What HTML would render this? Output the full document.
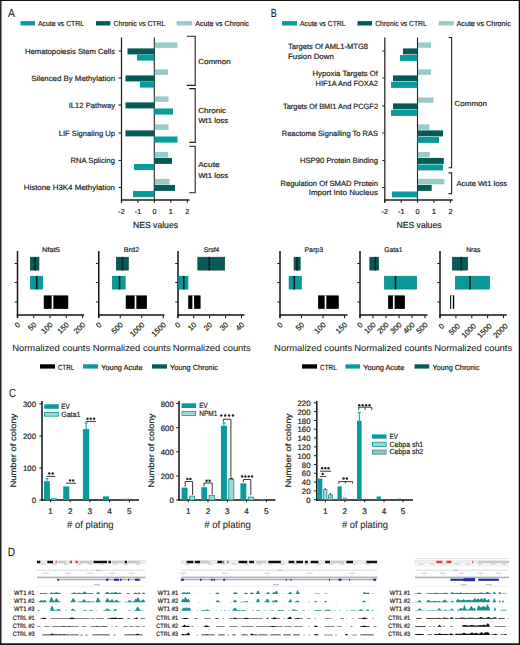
<!DOCTYPE html>
<html><head><meta charset="utf-8"><style>
html,body{margin:0;padding:0;background:#fff;}
body{width:520px;height:645px;overflow:hidden;position:relative;}
svg{position:absolute;left:0;top:0;display:block;}
text{font-family:"Liberation Sans",sans-serif;stroke:#231f20;stroke-width:0.2px;text-rendering:geometricPrecision;}
</style></head><body>
<svg width="520" height="645" viewBox="0 0 520 645">
<defs>
<pattern id="hatch" patternUnits="userSpaceOnUse" width="3" height="3" patternTransform="rotate(45)">
<rect width="3" height="3" fill="#9fd2ce"/><rect width="1.2" height="3" fill="#84c4bf"/>
</pattern>
<pattern id="hatch2" patternUnits="userSpaceOnUse" width="2" height="2">
<rect width="2" height="2" fill="#9cd1cd"/><rect width="2" height="0.7" fill="#b0dbd7"/>
</pattern>
<pattern id="hatch3" patternUnits="userSpaceOnUse" width="2" height="2">
<rect width="2" height="2" fill="#8bbfba"/><rect width="2" height="0.7" fill="#a4cdc9"/>
</pattern>
</defs>
<rect x="0" y="0" width="520" height="645" fill="#fff"/>
<text x="8.00" y="17.10" font-size="11.8" text-anchor="start" fill="#231f20" style="stroke-width:0.08px" textLength="6.90" lengthAdjust="spacingAndGlyphs" >A</text>
<rect x="20.50" y="21.10" width="14.50" height="4.40" fill="#099a9b" />
<text x="38.00" y="25.50" font-size="7.3" text-anchor="start" fill="#231f20" style="stroke-width:0.2px" textLength="46.00" lengthAdjust="spacingAndGlyphs" >Acute vs CTRL</text>
<rect x="96.00" y="21.10" width="14.30" height="4.40" fill="#055b57" />
<text x="113.50" y="25.50" font-size="7.3" text-anchor="start" fill="#231f20" style="stroke-width:0.2px" textLength="51.70" lengthAdjust="spacingAndGlyphs" >Chronic vs CTRL</text>
<rect x="176.60" y="21.10" width="15.40" height="4.40" fill="url(#hatch)" />
<text x="195.20" y="25.50" font-size="7.3" text-anchor="start" fill="#231f20" style="stroke-width:0.2px" textLength="54.00" lengthAdjust="spacingAndGlyphs" >Acute vs Chronic</text>
<line x1="121.50" y1="37.50" x2="121.50" y2="202.80" stroke="#231f20" stroke-width="1.25" />
<line x1="154.30" y1="37.50" x2="154.30" y2="200.00" stroke="#231f20" stroke-width="1.1" />
<line x1="120.90" y1="199.90" x2="189.50" y2="199.90" stroke="#231f20" stroke-width="1.5" />
<line x1="121.50" y1="200.00" x2="121.50" y2="202.80" stroke="#231f20" stroke-width="1.1" />
<text x="121.50" y="213.70" font-size="7.2" text-anchor="middle" fill="#231f20" style="stroke-width:0.2px" >-2</text>
<line x1="137.95" y1="200.00" x2="137.95" y2="202.80" stroke="#231f20" stroke-width="1.1" />
<text x="137.95" y="213.70" font-size="7.2" text-anchor="middle" fill="#231f20" style="stroke-width:0.2px" >-1</text>
<line x1="154.40" y1="200.00" x2="154.40" y2="202.80" stroke="#231f20" stroke-width="1.1" />
<text x="154.40" y="213.70" font-size="7.2" text-anchor="middle" fill="#231f20" style="stroke-width:0.2px" >0</text>
<line x1="170.85" y1="200.00" x2="170.85" y2="202.80" stroke="#231f20" stroke-width="1.1" />
<text x="170.85" y="213.70" font-size="7.2" text-anchor="middle" fill="#231f20" style="stroke-width:0.2px" >1</text>
<line x1="187.30" y1="200.00" x2="187.30" y2="202.80" stroke="#231f20" stroke-width="1.1" />
<text x="187.30" y="213.70" font-size="7.2" text-anchor="middle" fill="#231f20" style="stroke-width:0.2px" >2</text>
<text x="133.00" y="227.60" font-size="8.8" text-anchor="start" fill="#231f20" style="stroke-width:0.2px" textLength="45.00" lengthAdjust="spacingAndGlyphs" >NES values</text>
<line x1="118.60" y1="51.00" x2="121.50" y2="51.00" stroke="#231f20" stroke-width="1.1" />
<text x="115.00" y="53.90" font-size="7.6" text-anchor="end" fill="#231f20" style="stroke-width:0.2px" textLength="90.00" lengthAdjust="spacingAndGlyphs" >Hematopoiesis Stem Cells</text>
<line x1="118.60" y1="78.00" x2="121.50" y2="78.00" stroke="#231f20" stroke-width="1.1" />
<text x="115.00" y="80.90" font-size="7.6" text-anchor="end" fill="#231f20" style="stroke-width:0.2px" textLength="83.75" lengthAdjust="spacingAndGlyphs" >Silenced By Methylation</text>
<line x1="118.60" y1="105.00" x2="121.50" y2="105.00" stroke="#231f20" stroke-width="1.1" />
<text x="115.00" y="107.90" font-size="7.6" text-anchor="end" fill="#231f20" style="stroke-width:0.2px" textLength="46.25" lengthAdjust="spacingAndGlyphs" >IL12 Pathway</text>
<line x1="118.60" y1="133.00" x2="121.50" y2="133.00" stroke="#231f20" stroke-width="1.1" />
<text x="115.00" y="135.90" font-size="7.6" text-anchor="end" fill="#231f20" style="stroke-width:0.2px" textLength="56.25" lengthAdjust="spacingAndGlyphs" >LIF Signaling Up</text>
<line x1="118.60" y1="160.50" x2="121.50" y2="160.50" stroke="#231f20" stroke-width="1.1" />
<text x="115.00" y="163.40" font-size="7.6" text-anchor="end" fill="#231f20" style="stroke-width:0.2px" textLength="44.50" lengthAdjust="spacingAndGlyphs" >RNA Splicing</text>
<line x1="118.60" y1="187.50" x2="121.50" y2="187.50" stroke="#231f20" stroke-width="1.1" />
<text x="115.00" y="190.40" font-size="7.6" text-anchor="end" fill="#231f20" style="stroke-width:0.2px" textLength="91.25" lengthAdjust="spacingAndGlyphs" >Histone H3K4 Methylation</text>
<rect x="154.80" y="42.40" width="22.70" height="5.50" fill="url(#hatch)" />
<rect x="127.50" y="48.40" width="26.80" height="6.00" fill="#055b57" />
<rect x="137.00" y="54.50" width="17.30" height="6.10" fill="#099a9b" />
<rect x="154.80" y="69.40" width="13.20" height="5.50" fill="url(#hatch)" />
<rect x="125.50" y="75.40" width="28.80" height="6.00" fill="#055b57" />
<rect x="140.00" y="81.50" width="14.30" height="6.10" fill="#099a9b" />
<rect x="154.80" y="96.40" width="13.70" height="5.50" fill="url(#hatch)" />
<rect x="125.50" y="102.40" width="28.80" height="6.00" fill="#055b57" />
<rect x="154.30" y="108.50" width="18.70" height="6.10" fill="#099a9b" />
<rect x="154.80" y="124.40" width="13.70" height="5.50" fill="url(#hatch)" />
<rect x="125.50" y="130.40" width="28.80" height="6.00" fill="#055b57" />
<rect x="154.30" y="136.50" width="23.20" height="6.10" fill="#099a9b" />
<rect x="154.80" y="151.90" width="13.20" height="5.50" fill="url(#hatch)" />
<rect x="154.30" y="157.90" width="17.70" height="6.00" fill="#055b57" />
<rect x="134.00" y="164.00" width="20.30" height="6.10" fill="#099a9b" />
<rect x="154.80" y="178.90" width="14.70" height="5.50" fill="url(#hatch)" />
<rect x="154.30" y="184.90" width="20.70" height="6.00" fill="#055b57" />
<rect x="133.00" y="191.00" width="21.30" height="6.10" fill="#099a9b" />
<path d="M186.7,36.3 H195.2 V85.4 H186.7" stroke="#231f20" stroke-width="1.1" fill="none" />
<path d="M189.2,88.6 H195.2 V142.4 H189.2" stroke="#231f20" stroke-width="1.1" fill="none" />
<path d="M189.2,146.3 H195.2 V192.8 H189.2" stroke="#231f20" stroke-width="1.1" fill="none" />
<text x="198.20" y="63.60" font-size="7.3" text-anchor="start" fill="#231f20" style="stroke-width:0.2px" textLength="32.50" lengthAdjust="spacingAndGlyphs" >Common</text>
<text x="198.20" y="113.10" font-size="7.3" text-anchor="start" fill="#231f20" style="stroke-width:0.2px" textLength="28.00" lengthAdjust="spacingAndGlyphs" >Chronic</text>
<text x="198.20" y="123.10" font-size="7.3" text-anchor="start" fill="#231f20" style="stroke-width:0.2px" textLength="30.00" lengthAdjust="spacingAndGlyphs" >Wt1 loss</text>
<text x="198.20" y="167.20" font-size="7.3" text-anchor="start" fill="#231f20" style="stroke-width:0.2px" textLength="21.50" lengthAdjust="spacingAndGlyphs" >Acute</text>
<text x="198.20" y="177.50" font-size="7.3" text-anchor="start" fill="#231f20" style="stroke-width:0.2px" textLength="30.00" lengthAdjust="spacingAndGlyphs" >Wt1 loss</text>
<text x="270.80" y="17.20" font-size="11.9" text-anchor="start" fill="#231f20" style="stroke-width:0.08px" textLength="5.90" lengthAdjust="spacingAndGlyphs" >B</text>
<rect x="282.00" y="21.10" width="15.00" height="4.40" fill="#099a9b" />
<text x="300.00" y="25.50" font-size="7.3" text-anchor="start" fill="#231f20" style="stroke-width:0.2px" textLength="45.50" lengthAdjust="spacingAndGlyphs" >Acute vs CTRL</text>
<rect x="357.50" y="21.10" width="14.50" height="4.40" fill="#055b57" />
<text x="375.20" y="25.50" font-size="7.3" text-anchor="start" fill="#231f20" style="stroke-width:0.2px" textLength="51.60" lengthAdjust="spacingAndGlyphs" >Chronic vs CTRL</text>
<rect x="438.60" y="21.10" width="15.00" height="4.40" fill="url(#hatch)" />
<text x="456.50" y="25.50" font-size="7.3" text-anchor="start" fill="#231f20" style="stroke-width:0.2px" textLength="54.30" lengthAdjust="spacingAndGlyphs" >Acute vs Chronic</text>
<line x1="384.80" y1="37.50" x2="384.80" y2="202.80" stroke="#231f20" stroke-width="1.25" />
<line x1="417.50" y1="37.50" x2="417.50" y2="200.00" stroke="#231f20" stroke-width="1.1" />
<line x1="384.20" y1="199.90" x2="452.80" y2="199.90" stroke="#231f20" stroke-width="1.5" />
<line x1="384.80" y1="200.00" x2="384.80" y2="202.80" stroke="#231f20" stroke-width="1.1" />
<text x="384.80" y="213.70" font-size="7.2" text-anchor="middle" fill="#231f20" style="stroke-width:0.2px" >-2</text>
<line x1="401.20" y1="200.00" x2="401.20" y2="202.80" stroke="#231f20" stroke-width="1.1" />
<text x="401.20" y="213.70" font-size="7.2" text-anchor="middle" fill="#231f20" style="stroke-width:0.2px" >-1</text>
<line x1="417.60" y1="200.00" x2="417.60" y2="202.80" stroke="#231f20" stroke-width="1.1" />
<text x="417.60" y="213.70" font-size="7.2" text-anchor="middle" fill="#231f20" style="stroke-width:0.2px" >0</text>
<line x1="434.00" y1="200.00" x2="434.00" y2="202.80" stroke="#231f20" stroke-width="1.1" />
<text x="434.00" y="213.70" font-size="7.2" text-anchor="middle" fill="#231f20" style="stroke-width:0.2px" >1</text>
<line x1="450.40" y1="200.00" x2="450.40" y2="202.80" stroke="#231f20" stroke-width="1.1" />
<text x="450.40" y="213.70" font-size="7.2" text-anchor="middle" fill="#231f20" style="stroke-width:0.2px" >2</text>
<text x="396.50" y="227.60" font-size="8.8" text-anchor="start" fill="#231f20" style="stroke-width:0.2px" textLength="45.00" lengthAdjust="spacingAndGlyphs" >NES values</text>
<line x1="382.30" y1="51.00" x2="385.00" y2="51.00" stroke="#231f20" stroke-width="1" />
<line x1="382.30" y1="78.00" x2="385.00" y2="78.00" stroke="#231f20" stroke-width="1" />
<line x1="382.30" y1="106.00" x2="385.00" y2="106.00" stroke="#231f20" stroke-width="1" />
<line x1="382.30" y1="133.00" x2="385.00" y2="133.00" stroke="#231f20" stroke-width="1" />
<line x1="382.30" y1="160.50" x2="385.00" y2="160.50" stroke="#231f20" stroke-width="1" />
<line x1="382.30" y1="187.50" x2="385.00" y2="187.50" stroke="#231f20" stroke-width="1" />
<text x="288.00" y="48.80" font-size="7.6" text-anchor="start" fill="#231f20" style="stroke-width:0.2px" textLength="80.00" lengthAdjust="spacingAndGlyphs" >Targets Of AML1-MTG8</text>
<text x="288.00" y="58.80" font-size="7.6" text-anchor="start" fill="#231f20" style="stroke-width:0.2px" textLength="45.75" lengthAdjust="spacingAndGlyphs" >Fusion Down</text>
<text x="378.00" y="76.30" font-size="7.6" text-anchor="end" fill="#231f20" style="stroke-width:0.2px" textLength="65.50" lengthAdjust="spacingAndGlyphs" >Hypoxia Targets Of</text>
<text x="378.00" y="85.70" font-size="7.6" text-anchor="end" fill="#231f20" style="stroke-width:0.2px" textLength="62.50" lengthAdjust="spacingAndGlyphs" >HIF1A And FOXA2</text>
<text x="378.00" y="108.50" font-size="7.6" text-anchor="end" fill="#231f20" style="stroke-width:0.2px" textLength="95.00" lengthAdjust="spacingAndGlyphs" >Targets Of BMI1 And PCGF2</text>
<text x="378.00" y="135.70" font-size="7.6" text-anchor="end" fill="#231f20" style="stroke-width:0.2px" textLength="96.25" lengthAdjust="spacingAndGlyphs" >Reactome Signalling To RAS</text>
<text x="378.00" y="163.20" font-size="7.6" text-anchor="end" fill="#231f20" style="stroke-width:0.2px" textLength="78.00" lengthAdjust="spacingAndGlyphs" >HSP90 Protein Binding</text>
<text x="378.00" y="185.60" font-size="7.6" text-anchor="end" fill="#231f20" style="stroke-width:0.2px" textLength="97.50" lengthAdjust="spacingAndGlyphs" >Regulation Of SMAD Protein</text>
<text x="378.00" y="195.10" font-size="7.6" text-anchor="end" fill="#231f20" style="stroke-width:0.2px" textLength="69.25" lengthAdjust="spacingAndGlyphs" >Import Into Nucleus</text>
<rect x="418.00" y="42.40" width="13.00" height="5.40" fill="url(#hatch)" />
<rect x="403.00" y="48.40" width="14.50" height="6.00" fill="#055b57" />
<rect x="400.00" y="55.00" width="17.50" height="5.90" fill="#099a9b" />
<rect x="418.00" y="69.40" width="13.00" height="5.40" fill="url(#hatch)" />
<rect x="393.00" y="75.40" width="24.50" height="6.00" fill="#055b57" />
<rect x="391.00" y="82.00" width="26.50" height="5.90" fill="#099a9b" />
<rect x="418.00" y="97.40" width="15.50" height="5.40" fill="url(#hatch)" />
<rect x="393.00" y="103.40" width="24.50" height="6.00" fill="#055b57" />
<rect x="391.00" y="110.00" width="26.50" height="5.90" fill="#099a9b" />
<rect x="418.00" y="124.40" width="11.40" height="5.40" fill="url(#hatch)" />
<rect x="417.50" y="130.40" width="25.50" height="6.00" fill="#055b57" />
<rect x="417.50" y="137.00" width="21.50" height="5.90" fill="#099a9b" />
<rect x="418.00" y="151.90" width="11.70" height="5.40" fill="url(#hatch)" />
<rect x="417.50" y="157.90" width="26.30" height="6.00" fill="#055b57" />
<rect x="417.50" y="164.50" width="25.50" height="5.90" fill="#099a9b" />
<rect x="418.00" y="178.90" width="26.40" height="5.40" fill="url(#hatch)" />
<rect x="417.50" y="184.90" width="14.20" height="6.00" fill="#055b57" />
<rect x="392.00" y="191.50" width="25.50" height="5.90" fill="#099a9b" />
<path d="M448.6,37.5 H451.6 V167.7 H448.6" stroke="#231f20" stroke-width="1.1" fill="none" />
<path d="M448.6,172.9 H451.6 V193.6 H448.6" stroke="#231f20" stroke-width="1.1" fill="none" />
<text x="454.50" y="105.50" font-size="7.3" text-anchor="start" fill="#231f20" style="stroke-width:0.2px" textLength="32.50" lengthAdjust="spacingAndGlyphs" >Common</text>
<text x="456.50" y="185.50" font-size="7.3" text-anchor="start" fill="#231f20" style="stroke-width:0.2px" textLength="50.50" lengthAdjust="spacingAndGlyphs" >Acute Wt1 loss</text>
<text x="51.00" y="252.10" font-size="6.9" text-anchor="middle" fill="#231f20" style="stroke-width:0.2px" textLength="18.00" lengthAdjust="spacingAndGlyphs" >Nfat5</text>
<line x1="17.50" y1="251.00" x2="17.50" y2="318.00" stroke="#111" stroke-width="1.5" />
<line x1="16.80" y1="315.10" x2="84.00" y2="315.10" stroke="#111" stroke-width="1.5" />
<line x1="14.70" y1="263.50" x2="17.50" y2="263.50" stroke="#231f20" stroke-width="1" />
<line x1="14.70" y1="282.50" x2="17.50" y2="282.50" stroke="#231f20" stroke-width="1" />
<line x1="14.70" y1="302.00" x2="17.50" y2="302.00" stroke="#231f20" stroke-width="1" />
<line x1="17.50" y1="315.50" x2="17.50" y2="318.20" stroke="#231f20" stroke-width="1.1" />
<text x="20.70" y="325.30" font-size="7.6" text-anchor="end" fill="#231f20" transform="rotate(-45 20.70 325.30)">0</text>
<line x1="33.75" y1="315.50" x2="33.75" y2="318.20" stroke="#231f20" stroke-width="1.1" />
<text x="36.95" y="325.30" font-size="7.6" text-anchor="end" fill="#231f20" transform="rotate(-45 36.95 325.30)">50</text>
<line x1="50.00" y1="315.50" x2="50.00" y2="318.20" stroke="#231f20" stroke-width="1.1" />
<text x="53.20" y="325.30" font-size="7.6" text-anchor="end" fill="#231f20" transform="rotate(-45 53.20 325.30)">100</text>
<line x1="66.25" y1="315.50" x2="66.25" y2="318.20" stroke="#231f20" stroke-width="1.1" />
<text x="69.45" y="325.30" font-size="7.6" text-anchor="end" fill="#231f20" transform="rotate(-45 69.45 325.30)">150</text>
<line x1="82.50" y1="315.50" x2="82.50" y2="318.20" stroke="#231f20" stroke-width="1.1" />
<text x="85.70" y="325.30" font-size="7.6" text-anchor="end" fill="#231f20" transform="rotate(-45 85.70 325.30)">200</text>
<rect x="30.30" y="257.20" width="8.65" height="12.90" fill="#055b57" stroke="#03403d" stroke-width="0.6"/>
<line x1="35.00" y1="256.90" x2="35.00" y2="270.40" stroke="#0a2624" stroke-width="1.7" />
<rect x="30.30" y="276.20" width="12.40" height="12.90" fill="#099a9b" stroke="#067f80" stroke-width="0.6"/>
<line x1="36.75" y1="275.90" x2="36.75" y2="289.40" stroke="#0a2624" stroke-width="1.7" />
<rect x="44.05" y="295.80" width="23.90" height="12.90" fill="#000" stroke="#000" stroke-width="0.6"/>
<line x1="52.50" y1="295.50" x2="52.50" y2="309.00" stroke="#fff" stroke-width="1.7" />
<text x="12.20" y="350.90" font-size="8.9" text-anchor="start" fill="#231f20" style="stroke-width:0.08px" textLength="78.00" lengthAdjust="spacingAndGlyphs" >Normalized counts</text>
<text x="131.50" y="252.10" font-size="6.9" text-anchor="middle" fill="#231f20" style="stroke-width:0.2px" textLength="15.50" lengthAdjust="spacingAndGlyphs" >Brd2</text>
<line x1="98.75" y1="251.00" x2="98.75" y2="318.00" stroke="#111" stroke-width="1.5" />
<line x1="98.05" y1="315.10" x2="164.50" y2="315.10" stroke="#111" stroke-width="1.5" />
<line x1="95.95" y1="263.50" x2="98.75" y2="263.50" stroke="#231f20" stroke-width="1" />
<line x1="95.95" y1="282.50" x2="98.75" y2="282.50" stroke="#231f20" stroke-width="1" />
<line x1="95.95" y1="302.00" x2="98.75" y2="302.00" stroke="#231f20" stroke-width="1" />
<line x1="98.75" y1="315.50" x2="98.75" y2="318.20" stroke="#231f20" stroke-width="1.1" />
<text x="101.95" y="325.30" font-size="7.6" text-anchor="end" fill="#231f20" transform="rotate(-45 101.95 325.30)">0</text>
<line x1="120.25" y1="315.50" x2="120.25" y2="318.20" stroke="#231f20" stroke-width="1.1" />
<text x="123.45" y="325.30" font-size="7.6" text-anchor="end" fill="#231f20" transform="rotate(-45 123.45 325.30)">500</text>
<line x1="141.75" y1="315.50" x2="141.75" y2="318.20" stroke="#231f20" stroke-width="1.1" />
<text x="144.95" y="325.30" font-size="7.6" text-anchor="end" fill="#231f20" transform="rotate(-45 144.95 325.30)">1000</text>
<line x1="163.25" y1="315.50" x2="163.25" y2="318.20" stroke="#231f20" stroke-width="1.1" />
<text x="166.45" y="325.30" font-size="7.6" text-anchor="end" fill="#231f20" transform="rotate(-45 166.45 325.30)">1500</text>
<rect x="116.30" y="257.20" width="12.15" height="12.90" fill="#055b57" stroke="#03403d" stroke-width="0.6"/>
<line x1="122.50" y1="256.90" x2="122.50" y2="270.40" stroke="#0a2624" stroke-width="1.7" />
<rect x="112.30" y="276.20" width="12.90" height="12.90" fill="#099a9b" stroke="#067f80" stroke-width="0.6"/>
<line x1="119.50" y1="275.90" x2="119.50" y2="289.40" stroke="#0a2624" stroke-width="1.7" />
<rect x="126.05" y="295.80" width="20.65" height="12.90" fill="#000" stroke="#000" stroke-width="0.6"/>
<line x1="135.50" y1="295.50" x2="135.50" y2="309.00" stroke="#fff" stroke-width="1.7" />
<text x="92.70" y="350.90" font-size="8.9" text-anchor="start" fill="#231f20" style="stroke-width:0.08px" textLength="78.00" lengthAdjust="spacingAndGlyphs" >Normalized counts</text>
<text x="211.50" y="252.10" font-size="6.9" text-anchor="middle" fill="#231f20" style="stroke-width:0.2px" textLength="15.50" lengthAdjust="spacingAndGlyphs" >Srsf4</text>
<line x1="178.00" y1="251.00" x2="178.00" y2="318.00" stroke="#111" stroke-width="1.5" />
<line x1="177.30" y1="315.10" x2="244.50" y2="315.10" stroke="#111" stroke-width="1.5" />
<line x1="175.20" y1="263.50" x2="178.00" y2="263.50" stroke="#231f20" stroke-width="1" />
<line x1="175.20" y1="282.50" x2="178.00" y2="282.50" stroke="#231f20" stroke-width="1" />
<line x1="175.20" y1="302.00" x2="178.00" y2="302.00" stroke="#231f20" stroke-width="1" />
<line x1="177.80" y1="315.50" x2="177.80" y2="318.20" stroke="#231f20" stroke-width="1.1" />
<text x="181.00" y="325.30" font-size="7.6" text-anchor="end" fill="#231f20" transform="rotate(-45 181.00 325.30)">0</text>
<line x1="193.70" y1="315.50" x2="193.70" y2="318.20" stroke="#231f20" stroke-width="1.1" />
<text x="196.90" y="325.30" font-size="7.6" text-anchor="end" fill="#231f20" transform="rotate(-45 196.90 325.30)">10</text>
<line x1="209.60" y1="315.50" x2="209.60" y2="318.20" stroke="#231f20" stroke-width="1.1" />
<text x="212.80" y="325.30" font-size="7.6" text-anchor="end" fill="#231f20" transform="rotate(-45 212.80 325.30)">20</text>
<line x1="225.60" y1="315.50" x2="225.60" y2="318.20" stroke="#231f20" stroke-width="1.1" />
<text x="228.80" y="325.30" font-size="7.6" text-anchor="end" fill="#231f20" transform="rotate(-45 228.80 325.30)">30</text>
<line x1="241.50" y1="315.50" x2="241.50" y2="318.20" stroke="#231f20" stroke-width="1.1" />
<text x="244.70" y="325.30" font-size="7.6" text-anchor="end" fill="#231f20" transform="rotate(-45 244.70 325.30)">40</text>
<rect x="197.80" y="257.20" width="26.90" height="12.90" fill="#055b57" stroke="#03403d" stroke-width="0.6"/>
<line x1="209.25" y1="256.90" x2="209.25" y2="270.40" stroke="#0a2624" stroke-width="1.7" />
<rect x="178.30" y="276.20" width="9.65" height="12.90" fill="#099a9b" stroke="#067f80" stroke-width="0.6"/>
<line x1="183.75" y1="275.90" x2="183.75" y2="289.40" stroke="#0a2624" stroke-width="1.7" />
<rect x="188.55" y="295.80" width="11.65" height="12.90" fill="#000" stroke="#000" stroke-width="0.6"/>
<line x1="193.25" y1="295.50" x2="193.25" y2="309.00" stroke="#fff" stroke-width="1.7" />
<text x="172.70" y="350.90" font-size="8.9" text-anchor="start" fill="#231f20" style="stroke-width:0.08px" textLength="78.00" lengthAdjust="spacingAndGlyphs" >Normalized counts</text>
<text x="313.75" y="252.10" font-size="6.9" text-anchor="middle" fill="#231f20" style="stroke-width:0.2px" textLength="18.50" lengthAdjust="spacingAndGlyphs" >Parp3</text>
<line x1="280.00" y1="251.00" x2="280.00" y2="318.00" stroke="#111" stroke-width="1.5" />
<line x1="279.30" y1="315.10" x2="347.50" y2="315.10" stroke="#111" stroke-width="1.5" />
<line x1="277.20" y1="263.50" x2="280.00" y2="263.50" stroke="#231f20" stroke-width="1" />
<line x1="277.20" y1="282.50" x2="280.00" y2="282.50" stroke="#231f20" stroke-width="1" />
<line x1="277.20" y1="302.00" x2="280.00" y2="302.00" stroke="#231f20" stroke-width="1" />
<line x1="280.00" y1="315.50" x2="280.00" y2="318.20" stroke="#231f20" stroke-width="1.1" />
<text x="283.20" y="325.30" font-size="7.6" text-anchor="end" fill="#231f20" transform="rotate(-45 283.20 325.30)">0</text>
<line x1="301.50" y1="315.50" x2="301.50" y2="318.20" stroke="#231f20" stroke-width="1.1" />
<text x="304.70" y="325.30" font-size="7.6" text-anchor="end" fill="#231f20" transform="rotate(-45 304.70 325.30)">50</text>
<line x1="323.00" y1="315.50" x2="323.00" y2="318.20" stroke="#231f20" stroke-width="1.1" />
<text x="326.20" y="325.30" font-size="7.6" text-anchor="end" fill="#231f20" transform="rotate(-45 326.20 325.30)">100</text>
<line x1="344.50" y1="315.50" x2="344.50" y2="318.20" stroke="#231f20" stroke-width="1.1" />
<text x="347.70" y="325.30" font-size="7.6" text-anchor="end" fill="#231f20" transform="rotate(-45 347.70 325.30)">150</text>
<rect x="294.05" y="257.20" width="6.15" height="12.90" fill="#055b57" stroke="#03403d" stroke-width="0.6"/>
<line x1="297.00" y1="256.90" x2="297.00" y2="270.40" stroke="#0a2624" stroke-width="1.7" />
<rect x="289.05" y="276.20" width="12.40" height="12.90" fill="#099a9b" stroke="#067f80" stroke-width="0.6"/>
<line x1="294.25" y1="275.90" x2="294.25" y2="289.40" stroke="#0a2624" stroke-width="1.7" />
<rect x="318.30" y="295.80" width="20.15" height="12.90" fill="#000" stroke="#000" stroke-width="0.6"/>
<line x1="325.50" y1="295.50" x2="325.50" y2="309.00" stroke="#fff" stroke-width="1.7" />
<text x="274.10" y="350.90" font-size="8.9" text-anchor="start" fill="#231f20" style="stroke-width:0.08px" textLength="78.00" lengthAdjust="spacingAndGlyphs" >Normalized counts</text>
<text x="393.38" y="252.10" font-size="6.9" text-anchor="middle" fill="#231f20" style="stroke-width:0.2px" textLength="18.25" lengthAdjust="spacingAndGlyphs" >Gata1</text>
<line x1="360.00" y1="251.00" x2="360.00" y2="318.00" stroke="#111" stroke-width="1.5" />
<line x1="359.30" y1="315.10" x2="427.50" y2="315.10" stroke="#111" stroke-width="1.5" />
<line x1="357.20" y1="263.50" x2="360.00" y2="263.50" stroke="#231f20" stroke-width="1" />
<line x1="357.20" y1="282.50" x2="360.00" y2="282.50" stroke="#231f20" stroke-width="1" />
<line x1="357.20" y1="302.00" x2="360.00" y2="302.00" stroke="#231f20" stroke-width="1" />
<line x1="360.00" y1="315.50" x2="360.00" y2="318.20" stroke="#231f20" stroke-width="1.1" />
<text x="363.20" y="325.30" font-size="7.6" text-anchor="end" fill="#231f20" transform="rotate(-45 363.20 325.30)">0</text>
<line x1="373.00" y1="315.50" x2="373.00" y2="318.20" stroke="#231f20" stroke-width="1.1" />
<text x="376.20" y="325.30" font-size="7.6" text-anchor="end" fill="#231f20" transform="rotate(-45 376.20 325.30)">100</text>
<line x1="386.00" y1="315.50" x2="386.00" y2="318.20" stroke="#231f20" stroke-width="1.1" />
<text x="389.20" y="325.30" font-size="7.6" text-anchor="end" fill="#231f20" transform="rotate(-45 389.20 325.30)">200</text>
<line x1="399.00" y1="315.50" x2="399.00" y2="318.20" stroke="#231f20" stroke-width="1.1" />
<text x="402.20" y="325.30" font-size="7.6" text-anchor="end" fill="#231f20" transform="rotate(-45 402.20 325.30)">300</text>
<line x1="412.00" y1="315.50" x2="412.00" y2="318.20" stroke="#231f20" stroke-width="1.1" />
<text x="415.20" y="325.30" font-size="7.6" text-anchor="end" fill="#231f20" transform="rotate(-45 415.20 325.30)">400</text>
<line x1="425.00" y1="315.50" x2="425.00" y2="318.20" stroke="#231f20" stroke-width="1.1" />
<text x="428.20" y="325.30" font-size="7.6" text-anchor="end" fill="#231f20" transform="rotate(-45 428.20 325.30)">500</text>
<rect x="369.80" y="257.20" width="8.90" height="12.90" fill="#055b57" stroke="#03403d" stroke-width="0.6"/>
<line x1="375.25" y1="256.90" x2="375.25" y2="270.40" stroke="#0a2624" stroke-width="1.7" />
<rect x="384.30" y="276.20" width="32.40" height="12.90" fill="#099a9b" stroke="#067f80" stroke-width="0.6"/>
<line x1="395.50" y1="275.90" x2="395.50" y2="289.40" stroke="#0a2624" stroke-width="1.7" />
<rect x="388.30" y="295.80" width="16.40" height="12.90" fill="#000" stroke="#000" stroke-width="0.6"/>
<line x1="393.75" y1="295.50" x2="393.75" y2="309.00" stroke="#fff" stroke-width="1.7" />
<text x="354.20" y="350.90" font-size="8.9" text-anchor="start" fill="#231f20" style="stroke-width:0.08px" textLength="78.00" lengthAdjust="spacingAndGlyphs" >Normalized counts</text>
<text x="473.38" y="252.10" font-size="6.9" text-anchor="middle" fill="#231f20" style="stroke-width:0.2px" textLength="14.25" lengthAdjust="spacingAndGlyphs" >Nras</text>
<line x1="440.00" y1="251.00" x2="440.00" y2="318.00" stroke="#111" stroke-width="1.5" />
<line x1="439.30" y1="315.10" x2="506.75" y2="315.10" stroke="#111" stroke-width="1.5" />
<line x1="437.20" y1="263.50" x2="440.00" y2="263.50" stroke="#231f20" stroke-width="1" />
<line x1="437.20" y1="282.50" x2="440.00" y2="282.50" stroke="#231f20" stroke-width="1" />
<line x1="437.20" y1="302.00" x2="440.00" y2="302.00" stroke="#231f20" stroke-width="1" />
<line x1="440.00" y1="315.50" x2="440.00" y2="318.20" stroke="#231f20" stroke-width="1.1" />
<text x="444.70" y="326.60" font-size="7.6" text-anchor="end" fill="#231f20" transform="rotate(-45 444.70 326.60)">0</text>
<line x1="455.90" y1="315.50" x2="455.90" y2="318.20" stroke="#231f20" stroke-width="1.1" />
<text x="460.60" y="326.60" font-size="7.6" text-anchor="end" fill="#231f20" transform="rotate(-45 460.60 326.60)">500</text>
<line x1="471.80" y1="315.50" x2="471.80" y2="318.20" stroke="#231f20" stroke-width="1.1" />
<text x="476.50" y="326.60" font-size="7.6" text-anchor="end" fill="#231f20" transform="rotate(-45 476.50 326.60)">1000</text>
<line x1="487.60" y1="315.50" x2="487.60" y2="318.20" stroke="#231f20" stroke-width="1.1" />
<text x="492.30" y="326.60" font-size="7.6" text-anchor="end" fill="#231f20" transform="rotate(-45 492.30 326.60)">1500</text>
<line x1="503.50" y1="315.50" x2="503.50" y2="318.20" stroke="#231f20" stroke-width="1.1" />
<text x="508.20" y="326.60" font-size="7.6" text-anchor="end" fill="#231f20" transform="rotate(-45 508.20 326.60)">2000</text>
<rect x="452.30" y="257.20" width="15.40" height="12.90" fill="#055b57" stroke="#03403d" stroke-width="0.6"/>
<line x1="461.25" y1="256.90" x2="461.25" y2="270.40" stroke="#0a2624" stroke-width="1.7" />
<rect x="455.30" y="276.20" width="34.40" height="12.90" fill="#099a9b" stroke="#067f80" stroke-width="0.6"/>
<line x1="470.00" y1="275.90" x2="470.00" y2="289.40" stroke="#0a2624" stroke-width="1.7" />
<rect x="450.30" y="295.80" width="3.65" height="12.90" fill="#000" stroke="#000" stroke-width="0.6"/>
<line x1="452.00" y1="295.50" x2="452.00" y2="309.00" stroke="#fff" stroke-width="1.7" />
<text x="434.20" y="350.90" font-size="8.9" text-anchor="start" fill="#231f20" style="stroke-width:0.08px" textLength="78.00" lengthAdjust="spacingAndGlyphs" >Normalized counts</text>
<rect x="40.00" y="364.30" width="15.00" height="4.30" fill="#000" />
<text x="58.00" y="369.50" font-size="7.4" text-anchor="start" fill="#231f20" style="stroke-width:0.2px" textLength="16.25" lengthAdjust="spacingAndGlyphs" >CTRL</text>
<rect x="83.00" y="364.30" width="15.00" height="4.30" fill="#099a9b" />
<text x="101.25" y="369.50" font-size="7.4" text-anchor="start" fill="#231f20" style="stroke-width:0.2px" textLength="41.25" lengthAdjust="spacingAndGlyphs" >Young Acute</text>
<rect x="152.00" y="364.30" width="15.00" height="4.30" fill="#055b57" />
<text x="170.00" y="369.50" font-size="7.4" text-anchor="start" fill="#231f20" style="stroke-width:0.2px" textLength="48.00" lengthAdjust="spacingAndGlyphs" >Young Chronic</text>
<rect x="302.00" y="364.30" width="15.00" height="4.30" fill="#000" />
<text x="320.00" y="369.50" font-size="7.4" text-anchor="start" fill="#231f20" style="stroke-width:0.2px" textLength="16.75" lengthAdjust="spacingAndGlyphs" >CTRL</text>
<rect x="345.50" y="364.30" width="14.50" height="4.30" fill="#099a9b" />
<text x="363.25" y="369.50" font-size="7.4" text-anchor="start" fill="#231f20" style="stroke-width:0.2px" textLength="41.00" lengthAdjust="spacingAndGlyphs" >Young Acute</text>
<rect x="414.50" y="364.30" width="14.75" height="4.30" fill="#055b57" />
<text x="432.50" y="369.50" font-size="7.4" text-anchor="start" fill="#231f20" style="stroke-width:0.2px" textLength="47.00" lengthAdjust="spacingAndGlyphs" >Young Chronic</text>
<text x="8.90" y="397.00" font-size="11.9" text-anchor="start" fill="#231f20" style="stroke-width:0.08px" textLength="7.00" lengthAdjust="spacingAndGlyphs" >C</text>
<line x1="42.00" y1="401.00" x2="42.00" y2="500.70" stroke="#111" stroke-width="1.5" />
<line x1="41.30" y1="500.00" x2="139.00" y2="500.00" stroke="#111" stroke-width="1.5" />
<line x1="39.20" y1="403.80" x2="42.00" y2="403.80" stroke="#231f20" stroke-width="1" />
<text x="36.00" y="406.90" font-size="7.8" text-anchor="end" fill="#231f20" style="stroke-width:0.2px" >300</text>
<line x1="39.20" y1="435.90" x2="42.00" y2="435.90" stroke="#231f20" stroke-width="1" />
<text x="36.00" y="439.00" font-size="7.8" text-anchor="end" fill="#231f20" style="stroke-width:0.2px" >200</text>
<line x1="39.20" y1="467.90" x2="42.00" y2="467.90" stroke="#231f20" stroke-width="1" />
<text x="36.00" y="471.00" font-size="7.8" text-anchor="end" fill="#231f20" style="stroke-width:0.2px" >100</text>
<line x1="39.20" y1="500.00" x2="42.00" y2="500.00" stroke="#231f20" stroke-width="1" />
<text x="36.00" y="503.10" font-size="7.8" text-anchor="end" fill="#231f20" style="stroke-width:0.2px" >0</text>
<line x1="50.50" y1="500.00" x2="50.50" y2="502.30" stroke="#231f20" stroke-width="1" />
<text x="50.50" y="514.00" font-size="8.2" text-anchor="middle" fill="#231f20" style="stroke-width:0.2px" >1</text>
<line x1="70.20" y1="500.00" x2="70.20" y2="502.30" stroke="#231f20" stroke-width="1" />
<text x="70.20" y="514.00" font-size="8.2" text-anchor="middle" fill="#231f20" style="stroke-width:0.2px" >2</text>
<line x1="89.90" y1="500.00" x2="89.90" y2="502.30" stroke="#231f20" stroke-width="1" />
<text x="89.90" y="514.00" font-size="8.2" text-anchor="middle" fill="#231f20" style="stroke-width:0.2px" >3</text>
<line x1="109.50" y1="500.00" x2="109.50" y2="502.30" stroke="#231f20" stroke-width="1" />
<text x="109.50" y="514.00" font-size="8.2" text-anchor="middle" fill="#231f20" style="stroke-width:0.2px" >4</text>
<line x1="129.40" y1="500.00" x2="129.40" y2="502.30" stroke="#231f20" stroke-width="1" />
<text x="129.40" y="514.00" font-size="8.2" text-anchor="middle" fill="#231f20" style="stroke-width:0.2px" >5</text>
<text x="16.00" y="450.6" font-size="8.1" text-anchor="middle" fill="#231f20" textLength="74" lengthAdjust="spacingAndGlyphs" transform="rotate(-90 16.00 450.6)">Number of colony</text>
<text x="67.00" y="527.50" font-size="10" text-anchor="start" fill="#231f20" style="stroke-width:0.08px" textLength="46.60" lengthAdjust="spacingAndGlyphs" ># of plating</text>
<rect x="44.00" y="481.20" width="5.90" height="18.80" fill="#099a9b" />
<line x1="47.00" y1="478.60" x2="47.00" y2="481.20" stroke="#099a9b" stroke-width="1" />
<line x1="45.40" y1="478.60" x2="48.60" y2="478.60" stroke="#099a9b" stroke-width="1" />
<rect x="51.60" y="498.70" width="5.00" height="1.30" fill="url(#hatch2)" stroke="#099a9b" stroke-width="0.8"/>
<rect x="63.20" y="486.40" width="6.10" height="13.60" fill="#099a9b" />
<rect x="82.90" y="429.10" width="6.30" height="70.90" fill="#099a9b" />
<line x1="86.10" y1="423.00" x2="86.10" y2="429.10" stroke="#099a9b" stroke-width="1" />
<line x1="84.50" y1="423.00" x2="87.70" y2="423.00" stroke="#099a9b" stroke-width="1" />
<rect x="103.00" y="496.40" width="5.90" height="3.60" fill="#099a9b" />
<rect x="123.00" y="498.80" width="6.00" height="1.20" fill="#099a9b" />
<line x1="46.50" y1="476.40" x2="55.20" y2="476.40" stroke="#231f20" stroke-width="0.9" />
<circle cx="49.25" cy="473.50" r="1.2" fill="#222"/>
<circle cx="52.65" cy="473.50" r="1.2" fill="#222"/>
<line x1="66.20" y1="483.20" x2="76.00" y2="483.20" stroke="#231f20" stroke-width="0.9" />
<circle cx="70.10" cy="480.40" r="1.2" fill="#222"/>
<circle cx="73.20" cy="480.40" r="1.2" fill="#222"/>
<line x1="85.80" y1="421.45" x2="96.00" y2="421.45" stroke="#231f20" stroke-width="0.9" />
<circle cx="87.50" cy="418.80" r="1.2" fill="#222"/>
<circle cx="90.80" cy="418.80" r="1.2" fill="#222"/>
<circle cx="94.10" cy="418.80" r="1.2" fill="#222"/>
<rect x="44.20" y="404.30" width="14.60" height="4.50" fill="#099a9b" />
<text x="61.20" y="409.00" font-size="7.5" text-anchor="start" fill="#231f20" style="stroke-width:0.2px" textLength="8.40" lengthAdjust="spacingAndGlyphs" >EV</text>
<rect x="44.60" y="412.40" width="13.80" height="3.80" fill="url(#hatch2)" stroke="#099a9b" stroke-width="0.8"/>
<text x="61.20" y="416.60" font-size="7.5" text-anchor="start" fill="#231f20" style="stroke-width:0.2px" textLength="19.20" lengthAdjust="spacingAndGlyphs" >Gata1</text>
<line x1="179.00" y1="401.00" x2="179.00" y2="500.70" stroke="#111" stroke-width="1.5" />
<line x1="178.30" y1="500.00" x2="275.40" y2="500.00" stroke="#111" stroke-width="1.5" />
<line x1="176.20" y1="403.50" x2="179.00" y2="403.50" stroke="#231f20" stroke-width="1" />
<text x="173.80" y="406.60" font-size="7.8" text-anchor="end" fill="#231f20" style="stroke-width:0.2px" >800</text>
<line x1="176.20" y1="427.70" x2="179.00" y2="427.70" stroke="#231f20" stroke-width="1" />
<text x="173.80" y="430.80" font-size="7.8" text-anchor="end" fill="#231f20" style="stroke-width:0.2px" >600</text>
<line x1="176.20" y1="451.80" x2="179.00" y2="451.80" stroke="#231f20" stroke-width="1" />
<text x="173.80" y="454.90" font-size="7.8" text-anchor="end" fill="#231f20" style="stroke-width:0.2px" >400</text>
<line x1="176.20" y1="476.00" x2="179.00" y2="476.00" stroke="#231f20" stroke-width="1" />
<text x="173.80" y="479.10" font-size="7.8" text-anchor="end" fill="#231f20" style="stroke-width:0.2px" >200</text>
<line x1="176.20" y1="500.00" x2="179.00" y2="500.00" stroke="#231f20" stroke-width="1" />
<text x="173.80" y="503.10" font-size="7.8" text-anchor="end" fill="#231f20" style="stroke-width:0.2px" >0</text>
<line x1="188.30" y1="500.00" x2="188.30" y2="502.30" stroke="#231f20" stroke-width="1" />
<text x="188.30" y="514.00" font-size="8.2" text-anchor="middle" fill="#231f20" style="stroke-width:0.2px" >1</text>
<line x1="208.00" y1="500.00" x2="208.00" y2="502.30" stroke="#231f20" stroke-width="1" />
<text x="208.00" y="514.00" font-size="8.2" text-anchor="middle" fill="#231f20" style="stroke-width:0.2px" >2</text>
<line x1="227.40" y1="500.00" x2="227.40" y2="502.30" stroke="#231f20" stroke-width="1" />
<text x="227.40" y="514.00" font-size="8.2" text-anchor="middle" fill="#231f20" style="stroke-width:0.2px" >3</text>
<line x1="246.60" y1="500.00" x2="246.60" y2="502.30" stroke="#231f20" stroke-width="1" />
<text x="246.60" y="514.00" font-size="8.2" text-anchor="middle" fill="#231f20" style="stroke-width:0.2px" >4</text>
<line x1="266.40" y1="500.00" x2="266.40" y2="502.30" stroke="#231f20" stroke-width="1" />
<text x="266.40" y="514.00" font-size="8.2" text-anchor="middle" fill="#231f20" style="stroke-width:0.2px" >5</text>
<text x="153.70" y="450.6" font-size="8.1" text-anchor="middle" fill="#231f20" textLength="74" lengthAdjust="spacingAndGlyphs" transform="rotate(-90 153.70 450.6)">Number of colony</text>
<text x="204.20" y="527.50" font-size="10" text-anchor="start" fill="#231f20" style="stroke-width:0.08px" textLength="46.60" lengthAdjust="spacingAndGlyphs" ># of plating</text>
<rect x="181.60" y="487.60" width="5.90" height="12.40" fill="#099a9b" />
<rect x="189.60" y="496.10" width="4.90" height="3.90" fill="url(#hatch2)" stroke="#099a9b" stroke-width="0.8"/>
<rect x="201.30" y="487.20" width="5.70" height="12.80" fill="#099a9b" />
<rect x="209.10" y="495.40" width="5.30" height="4.60" fill="url(#hatch2)" stroke="#099a9b" stroke-width="0.8"/>
<rect x="220.90" y="425.80" width="6.00" height="74.20" fill="#099a9b" />
<line x1="223.90" y1="423.00" x2="223.90" y2="425.80" stroke="#099a9b" stroke-width="1" />
<line x1="222.30" y1="423.00" x2="225.50" y2="423.00" stroke="#099a9b" stroke-width="1" />
<rect x="228.70" y="479.40" width="5.10" height="20.60" fill="url(#hatch2)" stroke="#099a9b" stroke-width="0.8"/>
<line x1="229.50" y1="478.50" x2="233.00" y2="478.50" stroke="#222" stroke-width="1" />
<rect x="240.40" y="483.30" width="5.90" height="16.70" fill="#099a9b" />
<rect x="248.40" y="497.00" width="4.90" height="3.00" fill="url(#hatch2)" stroke="#099a9b" stroke-width="0.8"/>
<rect x="260.00" y="499.00" width="5.00" height="1.00" fill="#099a9b" />
<path d="M185.2,486.7 V481.5 H192.6 V495" stroke="#231f20" stroke-width="0.9" fill="none" />
<circle cx="187.40" cy="478.90" r="1.2" fill="#222"/>
<circle cx="190.40" cy="478.90" r="1.2" fill="#222"/>
<path d="M204,486.5 V483 H212.2 V494.5" stroke="#231f20" stroke-width="0.9" fill="none" />
<circle cx="206.60" cy="480.80" r="1.2" fill="#222"/>
<circle cx="209.60" cy="480.80" r="1.2" fill="#222"/>
<path d="M223.4,421.8 V419.25 H230.9 V477.8" stroke="#231f20" stroke-width="0.9" fill="none" />
<circle cx="221.30" cy="415.50" r="1.2" fill="#222"/>
<circle cx="225.20" cy="415.50" r="1.2" fill="#222"/>
<circle cx="229.10" cy="415.50" r="1.2" fill="#222"/>
<circle cx="233.00" cy="415.50" r="1.2" fill="#222"/>
<path d="M243.4,482.3 V479.5 H250.8 V495" stroke="#231f20" stroke-width="0.9" fill="none" />
<circle cx="242.15" cy="476.50" r="1.2" fill="#222"/>
<circle cx="245.45" cy="476.50" r="1.2" fill="#222"/>
<circle cx="248.75" cy="476.50" r="1.2" fill="#222"/>
<circle cx="252.05" cy="476.50" r="1.2" fill="#222"/>
<rect x="181.60" y="403.30" width="14.50" height="4.70" fill="#099a9b" />
<text x="199.20" y="408.40" font-size="7.5" text-anchor="start" fill="#231f20" style="stroke-width:0.2px" textLength="8.40" lengthAdjust="spacingAndGlyphs" >EV</text>
<rect x="182.00" y="411.50" width="13.70" height="3.90" fill="url(#hatch2)" stroke="#099a9b" stroke-width="0.8"/>
<text x="199.20" y="416.00" font-size="7.5" text-anchor="start" fill="#231f20" style="stroke-width:0.2px" textLength="18.20" lengthAdjust="spacingAndGlyphs" >NPM1</text>
<line x1="316.80" y1="401.00" x2="316.80" y2="500.70" stroke="#111" stroke-width="1.5" />
<line x1="316.10" y1="500.00" x2="413.00" y2="500.00" stroke="#111" stroke-width="1.5" />
<line x1="314.00" y1="499.70" x2="316.80" y2="499.70" stroke="#231f20" stroke-width="1" />
<text x="310.50" y="502.80" font-size="7.8" text-anchor="end" fill="#231f20" style="stroke-width:0.2px" >0</text>
<line x1="314.00" y1="490.89" x2="316.80" y2="490.89" stroke="#231f20" stroke-width="1" />
<text x="310.50" y="494.00" font-size="7.8" text-anchor="end" fill="#231f20" style="stroke-width:0.2px" >20</text>
<line x1="314.00" y1="482.09" x2="316.80" y2="482.09" stroke="#231f20" stroke-width="1" />
<text x="310.50" y="485.19" font-size="7.8" text-anchor="end" fill="#231f20" style="stroke-width:0.2px" >40</text>
<line x1="314.00" y1="473.28" x2="316.80" y2="473.28" stroke="#231f20" stroke-width="1" />
<text x="310.50" y="476.38" font-size="7.8" text-anchor="end" fill="#231f20" style="stroke-width:0.2px" >60</text>
<line x1="314.00" y1="464.48" x2="316.80" y2="464.48" stroke="#231f20" stroke-width="1" />
<text x="310.50" y="467.58" font-size="7.8" text-anchor="end" fill="#231f20" style="stroke-width:0.2px" >80</text>
<line x1="314.00" y1="455.68" x2="316.80" y2="455.68" stroke="#231f20" stroke-width="1" />
<text x="310.50" y="458.78" font-size="7.8" text-anchor="end" fill="#231f20" style="stroke-width:0.2px" >100</text>
<line x1="314.00" y1="446.87" x2="316.80" y2="446.87" stroke="#231f20" stroke-width="1" />
<text x="310.50" y="449.97" font-size="7.8" text-anchor="end" fill="#231f20" style="stroke-width:0.2px" >120</text>
<line x1="314.00" y1="438.06" x2="316.80" y2="438.06" stroke="#231f20" stroke-width="1" />
<text x="310.50" y="441.17" font-size="7.8" text-anchor="end" fill="#231f20" style="stroke-width:0.2px" >140</text>
<line x1="314.00" y1="429.26" x2="316.80" y2="429.26" stroke="#231f20" stroke-width="1" />
<text x="310.50" y="432.36" font-size="7.8" text-anchor="end" fill="#231f20" style="stroke-width:0.2px" >160</text>
<line x1="314.00" y1="420.45" x2="316.80" y2="420.45" stroke="#231f20" stroke-width="1" />
<text x="310.50" y="423.56" font-size="7.8" text-anchor="end" fill="#231f20" style="stroke-width:0.2px" >180</text>
<line x1="314.00" y1="411.65" x2="316.80" y2="411.65" stroke="#231f20" stroke-width="1" />
<text x="310.50" y="414.75" font-size="7.8" text-anchor="end" fill="#231f20" style="stroke-width:0.2px" >200</text>
<line x1="314.00" y1="402.85" x2="316.80" y2="402.85" stroke="#231f20" stroke-width="1" />
<text x="310.50" y="405.95" font-size="7.8" text-anchor="end" fill="#231f20" style="stroke-width:0.2px" >220</text>
<line x1="325.40" y1="500.00" x2="325.40" y2="502.30" stroke="#231f20" stroke-width="1" />
<text x="325.40" y="514.00" font-size="8.2" text-anchor="middle" fill="#231f20" style="stroke-width:0.2px" >1</text>
<line x1="344.90" y1="500.00" x2="344.90" y2="502.30" stroke="#231f20" stroke-width="1" />
<text x="344.90" y="514.00" font-size="8.2" text-anchor="middle" fill="#231f20" style="stroke-width:0.2px" >2</text>
<line x1="364.60" y1="500.00" x2="364.60" y2="502.30" stroke="#231f20" stroke-width="1" />
<text x="364.60" y="514.00" font-size="8.2" text-anchor="middle" fill="#231f20" style="stroke-width:0.2px" >3</text>
<line x1="384.00" y1="500.00" x2="384.00" y2="502.30" stroke="#231f20" stroke-width="1" />
<text x="384.00" y="514.00" font-size="8.2" text-anchor="middle" fill="#231f20" style="stroke-width:0.2px" >4</text>
<line x1="403.10" y1="500.00" x2="403.10" y2="502.30" stroke="#231f20" stroke-width="1" />
<text x="403.10" y="514.00" font-size="8.2" text-anchor="middle" fill="#231f20" style="stroke-width:0.2px" >5</text>
<text x="291.30" y="450.6" font-size="8.1" text-anchor="middle" fill="#231f20" textLength="74" lengthAdjust="spacingAndGlyphs" transform="rotate(-90 291.30 450.6)">Number of colony</text>
<text x="341.90" y="527.50" font-size="10" text-anchor="start" fill="#231f20" style="stroke-width:0.08px" textLength="46.10" lengthAdjust="spacingAndGlyphs" ># of plating</text>
<rect x="318.00" y="478.60" width="4.30" height="20.90" fill="#099a9b" />
<rect x="323.50" y="489.50" width="3.40" height="10.00" fill="url(#hatch2)" stroke="#099a9b" stroke-width="0.8"/>
<line x1="325.20" y1="488.00" x2="325.20" y2="489.10" stroke="#231f20" stroke-width="1" />
<rect x="328.40" y="494.80" width="4.00" height="4.70" fill="url(#hatch3)" stroke="#3f9a95" stroke-width="0.8"/>
<line x1="330.40" y1="493.00" x2="330.40" y2="494.40" stroke="#231f20" stroke-width="1" />
<rect x="337.50" y="486.40" width="4.20" height="13.10" fill="#099a9b" />
<rect x="343.40" y="498.00" width="2.70" height="1.50" fill="url(#hatch2)" stroke="#099a9b" stroke-width="0.8"/>
<rect x="357.00" y="420.80" width="4.60" height="78.70" fill="#099a9b" />
<line x1="359.30" y1="412.40" x2="359.30" y2="420.80" stroke="#099a9b" stroke-width="1" />
<line x1="357.70" y1="412.40" x2="360.90" y2="412.40" stroke="#099a9b" stroke-width="1" />
<rect x="376.60" y="496.50" width="4.30" height="3.00" fill="#099a9b" />
<rect x="397.00" y="498.60" width="4.00" height="0.90" fill="#099a9b" />
<line x1="320.00" y1="476.40" x2="326.00" y2="476.40" stroke="#231f20" stroke-width="0.9" />
<circle cx="322.70" cy="473.90" r="1.2" fill="#222"/>
<line x1="320.00" y1="471.20" x2="331.20" y2="471.20" stroke="#231f20" stroke-width="0.9" />
<circle cx="322.10" cy="468.20" r="1.2" fill="#222"/>
<circle cx="325.30" cy="468.20" r="1.2" fill="#222"/>
<circle cx="328.50" cy="468.20" r="1.2" fill="#222"/>
<path d="M338.8,483.6 V481.6 H352.7 V483.6 M345.4,481.6 V483.4" stroke="#231f20" stroke-width="0.9" fill="none" />
<circle cx="343.60" cy="478.50" r="1.2" fill="#222"/>
<circle cx="346.90" cy="478.50" r="1.2" fill="#222"/>
<path d="M358.7,410.1 V407.2 H371.8 V410.1 M365.1,407.2 V409.8" stroke="#231f20" stroke-width="0.9" fill="none" />
<circle cx="359.22" cy="405.20" r="1.2" fill="#222"/>
<circle cx="362.67" cy="405.20" r="1.2" fill="#222"/>
<circle cx="366.12" cy="405.20" r="1.2" fill="#222"/>
<circle cx="369.57" cy="405.20" r="1.2" fill="#222"/>
<rect x="372.00" y="434.40" width="14.50" height="4.30" fill="#099a9b" />
<text x="389.60" y="438.90" font-size="7.5" text-anchor="start" fill="#231f20" style="stroke-width:0.2px" textLength="8.10" lengthAdjust="spacingAndGlyphs" >EV</text>
<rect x="372.40" y="442.20" width="13.70" height="4.30" fill="url(#hatch2)" stroke="#099a9b" stroke-width="0.8"/>
<text x="389.60" y="446.80" font-size="7.5" text-anchor="start" fill="#231f20" style="stroke-width:0.2px" textLength="33.50" lengthAdjust="spacingAndGlyphs" >Cebpa sh1</text>
<rect x="372.40" y="450.00" width="13.70" height="4.20" fill="url(#hatch3)" stroke="#3f9a95" stroke-width="0.8"/>
<text x="389.60" y="454.40" font-size="7.5" text-anchor="start" fill="#231f20" style="stroke-width:0.2px" textLength="33.50" lengthAdjust="spacingAndGlyphs" >Cebpa sh2</text>
<text x="7.80" y="555.80" font-size="12" text-anchor="start" fill="#231f20" style="stroke-width:0.08px" textLength="7.40" lengthAdjust="spacingAndGlyphs" >D</text>
<rect x="37.00" y="560.90" width="108.40" height="2.20" fill="#f2f2f2" stroke="#bdbdbd" stroke-width="0.4"/>
<rect x="58.00" y="560.90" width="8.00" height="2.20" fill="#c9c9c9" />
<rect x="80.00" y="560.90" width="12.00" height="2.20" fill="#c9c9c9" />
<rect x="112.00" y="560.90" width="11.00" height="2.20" fill="#c9c9c9" />
<rect x="128.00" y="560.90" width="12.00" height="2.20" fill="#c9c9c9" />
<rect x="37.00" y="560.80" width="3.30" height="2.40" fill="#111" />
<rect x="47.30" y="560.80" width="5.70" height="2.40" fill="#111" />
<rect x="93.50" y="560.80" width="13.50" height="2.40" fill="#111" />
<rect x="108.50" y="560.80" width="2.50" height="2.40" fill="#111" />
<rect x="124.60" y="560.80" width="2.40" height="2.40" fill="#111" />
<rect x="55.60" y="560.80" width="1.20" height="2.40" fill="#e23b34" />
<rect x="69.80" y="560.80" width="2.20" height="2.40" fill="#e23b34" />
<rect x="75.50" y="560.80" width="2.30" height="2.40" fill="#e23b34" />
<rect x="41.00" y="563.80" width="4.50" height="0.70" fill="#b5b5b5" />
<rect x="52.00" y="563.80" width="4.50" height="0.70" fill="#b5b5b5" />
<rect x="64.00" y="563.80" width="4.50" height="0.70" fill="#b5b5b5" />
<rect x="77.00" y="563.80" width="4.50" height="0.70" fill="#b5b5b5" />
<rect x="88.00" y="563.80" width="4.50" height="0.70" fill="#b5b5b5" />
<rect x="100.00" y="563.80" width="4.50" height="0.70" fill="#b5b5b5" />
<rect x="113.00" y="563.80" width="4.50" height="0.70" fill="#b5b5b5" />
<rect x="124.00" y="563.80" width="4.50" height="0.70" fill="#b5b5b5" />
<rect x="136.00" y="563.80" width="4.50" height="0.70" fill="#b5b5b5" />
<line x1="37.00" y1="570.20" x2="145.40" y2="570.20" stroke="#c4c4c4" stroke-width="0.6" />
<rect x="95.00" y="569.40" width="6.00" height="1.50" fill="#ffffff" />
<rect x="95.50" y="569.80" width="5.00" height="0.80" fill="#9a9a9a" />
<rect x="43.00" y="572.70" width="6.00" height="0.80" fill="#bdbdbd" />
<line x1="46.00" y1="574.60" x2="46.00" y2="575.60" stroke="#aaa" stroke-width="0.5" />
<rect x="65.00" y="572.70" width="6.00" height="0.80" fill="#bdbdbd" />
<line x1="68.00" y1="574.60" x2="68.00" y2="575.60" stroke="#aaa" stroke-width="0.5" />
<rect x="87.00" y="572.70" width="6.00" height="0.80" fill="#bdbdbd" />
<line x1="90.00" y1="574.60" x2="90.00" y2="575.60" stroke="#aaa" stroke-width="0.5" />
<rect x="109.00" y="572.70" width="6.00" height="0.80" fill="#bdbdbd" />
<line x1="112.00" y1="574.60" x2="112.00" y2="575.60" stroke="#aaa" stroke-width="0.5" />
<rect x="128.50" y="572.70" width="6.00" height="0.80" fill="#bdbdbd" />
<line x1="131.50" y1="574.60" x2="131.50" y2="575.60" stroke="#aaa" stroke-width="0.5" />
<line x1="37.00" y1="576.60" x2="145.40" y2="576.60" stroke="#d0d0d0" stroke-width="0.7" />
<line x1="37.00" y1="577.70" x2="145.40" y2="577.70" stroke="#9d9d9d" stroke-width="1.0" />
<line x1="57.70" y1="579.70" x2="140.80" y2="579.70" stroke="#5560c0" stroke-width="0.7" />
<rect x="57.40" y="578.70" width="1.50" height="2.10" fill="#1f2a9c" />
<rect x="106.00" y="578.70" width="2.50" height="2.10" fill="#1f2a9c" />
<rect x="114.00" y="578.70" width="5.00" height="2.10" fill="#1f2a9c" />
<rect x="120.00" y="578.70" width="1.50" height="2.10" fill="#1f2a9c" />
<rect x="128.00" y="578.70" width="1.20" height="2.10" fill="#1f2a9c" />
<rect x="135.00" y="578.70" width="4.60" height="2.10" fill="#1f2a9c" />
<rect x="94.00" y="584.30" width="6.00" height="0.90" fill="#a8a8a8" />
<line x1="37.00" y1="586.40" x2="145.40" y2="586.40" stroke="#e3e3e3" stroke-width="0.6" />
<text x="34.60" y="594.60" font-size="6.3" text-anchor="end" fill="#231f20" style="stroke-width:0.2px" textLength="20.50" lengthAdjust="spacingAndGlyphs" >WT1 #1</text>
<text x="34.60" y="602.80" font-size="6.3" text-anchor="end" fill="#231f20" style="stroke-width:0.2px" textLength="20.50" lengthAdjust="spacingAndGlyphs" >WT1 #2</text>
<text x="34.60" y="611.20" font-size="6.3" text-anchor="end" fill="#231f20" style="stroke-width:0.2px" textLength="20.50" lengthAdjust="spacingAndGlyphs" >WT1 #3</text>
<text x="34.60" y="619.60" font-size="6.3" text-anchor="end" fill="#231f20" style="stroke-width:0.2px" textLength="21.90" lengthAdjust="spacingAndGlyphs" >CTRL #1</text>
<text x="34.60" y="627.50" font-size="6.3" text-anchor="end" fill="#231f20" style="stroke-width:0.2px" textLength="21.90" lengthAdjust="spacingAndGlyphs" >CTRL #2</text>
<text x="34.60" y="635.80" font-size="6.3" text-anchor="end" fill="#231f20" style="stroke-width:0.2px" textLength="21.90" lengthAdjust="spacingAndGlyphs" >CTRL #3</text>
<path d="M39.60,594.10 L39.60,593.77 L39.85,593.70 L40.11,593.28 L40.36,593.10 L40.61,593.06 L40.87,593.02 L41.12,592.98 L41.37,592.94 L41.62,592.92 L41.88,592.90 L42.13,592.90 L42.38,592.92 L42.64,592.94 L42.89,592.98 L43.14,593.02 L43.40,593.06 L43.65,593.10 L43.90,593.13 L44.16,593.12 L44.41,593.09 L44.66,593.05 L44.92,593.01 L45.17,592.97 L45.42,592.94 L45.68,592.91 L45.93,592.90 L46.18,592.90 L46.43,592.92 L46.69,592.95 L46.94,592.99 L47.19,593.20 L47.45,593.66 L47.70,593.75 L47.70,594.10 Z M49.40,594.10 L49.40,593.75 L49.65,593.66 L49.90,593.18 L50.16,592.92 L50.41,592.84 L50.66,592.74 L50.91,592.65 L51.17,592.57 L51.42,592.52 L51.67,592.50 L51.92,592.51 L52.17,592.56 L52.43,592.63 L52.68,592.72 L52.93,592.81 L53.18,592.90 L53.43,592.98 L53.69,593.05 L53.94,593.08 L54.19,593.01 L54.44,592.91 L54.70,592.80 L54.95,592.66 L55.20,592.51 L55.45,592.37 L55.70,592.24 L55.96,592.15 L56.21,592.10 L56.46,592.11 L56.71,592.17 L56.97,592.27 L57.22,592.41 L57.47,592.56 L57.72,592.70 L57.97,592.83 L58.23,592.88 L58.48,592.84 L58.73,592.81 L58.98,592.80 L59.23,592.81 L59.49,592.84 L59.74,592.88 L59.99,592.93 L60.24,592.98 L60.50,593.20 L60.75,593.67 L61.00,593.76 L61.00,594.10 Z M70.80,594.10 L70.80,593.82 L71.05,593.76 L71.30,593.41 L71.55,593.24 L71.80,593.21 L72.05,593.15 L72.30,593.08 L72.55,592.99 L72.80,592.88 L73.05,592.76 L73.30,592.64 L73.55,592.54 L73.80,592.45 L74.05,592.41 L74.30,592.40 L74.55,592.44 L74.80,592.52 L75.05,592.62 L75.30,592.74 L75.55,592.86 L75.80,592.97 L76.05,593.06 L76.30,593.14 L76.55,593.20 L76.80,593.24 L77.05,593.22 L77.30,593.17 L77.55,593.12 L77.80,593.04 L78.05,592.96 L78.30,592.86 L78.55,592.77 L78.80,592.69 L79.05,592.63 L79.30,592.60 L79.55,592.61 L79.80,592.64 L80.05,592.71 L80.30,592.79 L80.55,592.88 L80.80,592.97 L81.05,593.06 L81.30,593.13 L81.55,593.18 L81.80,593.22 L82.05,593.16 L82.30,593.07 L82.55,592.95 L82.80,592.79 L83.05,592.60 L83.30,592.37 L83.55,592.13 L83.80,591.90 L84.05,591.70 L84.30,591.56 L84.55,591.50 L84.80,591.53 L85.05,591.64 L85.30,591.81 L85.55,592.03 L85.80,592.27 L86.05,592.51 L86.30,592.72 L86.55,592.89 L86.80,593.03 L87.05,593.13 L87.30,593.20 L87.55,593.24 L87.80,593.27 L88.05,593.27 L88.30,593.25 L88.55,593.23 L88.80,593.20 L89.05,593.17 L89.30,593.13 L89.55,593.09 L89.80,593.05 L90.05,593.02 L90.30,593.00 L90.55,593.00 L90.80,593.01 L91.05,593.03 L91.30,593.07 L91.55,593.10 L91.80,593.14 L92.05,593.18 L92.30,593.22 L92.55,593.24 L92.80,593.26 L93.05,593.28 L93.30,593.42 L93.55,593.76 L93.80,593.82 L93.80,594.10 Z M96.00,594.10 L96.00,593.86 L96.25,593.77 L96.50,593.33 L96.75,593.01 L97.00,592.82 L97.25,592.62 L97.50,592.43 L97.75,592.27 L98.00,592.15 L98.25,592.10 L98.50,592.12 L98.75,592.21 L99.00,592.36 L99.25,592.55 L99.50,592.97 L99.75,593.62 L100.00,593.76 L100.00,594.10 Z M105.00,594.10 L105.00,593.76 L105.25,593.65 L105.50,593.10 L105.75,592.75 L106.00,592.58 L106.25,592.39 L106.50,592.21 L106.75,592.06 L107.00,591.95 L107.25,591.90 L107.50,591.92 L107.75,592.01 L108.00,592.14 L108.25,592.32 L108.50,592.50 L108.75,592.68 L109.00,592.85 L109.25,592.98 L109.50,593.09 L109.75,593.17 L110.00,593.13 L110.25,593.06 L110.50,592.97 L110.75,592.87 L111.00,592.76 L111.25,592.66 L111.50,592.57 L111.75,592.52 L112.00,592.50 L112.25,592.52 L112.50,592.57 L112.75,592.66 L113.00,592.76 L113.25,592.87 L113.50,592.97 L113.75,592.93 L114.00,592.78 L114.25,592.61 L114.50,592.43 L114.75,592.24 L115.00,592.08 L115.25,591.97 L115.50,591.91 L115.75,591.91 L116.00,591.98 L116.25,592.11 L116.50,592.28 L116.75,592.46 L117.00,592.65 L117.25,592.82 L117.50,592.96 L117.75,593.07 L118.00,593.01 L118.25,592.92 L118.50,592.83 L118.75,592.74 L119.00,592.67 L119.25,592.62 L119.50,592.60 L119.75,592.62 L120.00,592.67 L120.25,592.74 L120.50,592.83 L120.75,592.92 L121.00,593.01 L121.25,593.09 L121.50,593.31 L121.75,593.73 L122.00,593.80 L122.00,594.10 Z M126.00,594.10 L126.00,593.90 L126.25,593.85 L126.50,593.56 L126.75,593.39 L127.00,593.31 L127.25,593.22 L127.50,593.13 L127.75,593.04 L128.00,592.97 L128.25,592.92 L128.50,592.90 L128.75,592.92 L129.00,592.97 L129.25,593.04 L129.50,593.29 L129.75,593.73 L130.00,593.82 L130.00,594.10 Z M133.00,594.10 L133.00,593.86 L133.25,593.80 L133.50,593.44 L133.75,593.23 L134.00,593.13 L134.25,593.01 L134.50,592.89 L134.75,592.78 L135.00,592.68 L135.25,592.62 L135.50,592.60 L135.75,592.62 L136.00,592.68 L136.25,592.78 L136.50,592.89 L136.75,593.01 L137.00,593.13 L137.25,593.23 L137.50,593.13 L137.75,593.01 L138.00,592.89 L138.25,592.78 L138.50,592.68 L138.75,592.62 L139.00,592.60 L139.25,592.62 L139.50,592.68 L139.75,592.78 L140.00,592.89 L140.25,593.01 L140.50,593.29 L140.75,593.74 L141.00,593.82 L141.00,594.10 Z M142.00,594.10 L142.00,593.74 L142.26,593.60 L142.52,592.98 L142.78,592.70 L143.05,592.62 L143.31,592.60 L143.57,592.63 L143.83,592.70 L144.09,592.82 L144.35,592.95 L144.62,593.09 L144.88,593.33 L145.14,593.77 L145.40,593.86 L145.40,594.10 Z" fill="#12918f" stroke="none"/>
<path d="M38.00,602.30 L38.00,602.09 L38.25,602.04 L38.50,601.76 L38.75,601.62 L39.00,601.56 L39.25,601.48 L39.50,601.36 L39.75,601.22 L40.00,601.04 L40.25,600.83 L40.50,600.62 L40.75,600.42 L41.00,600.25 L41.25,600.14 L41.50,600.10 L41.75,600.14 L42.00,600.25 L42.25,600.42 L42.50,600.62 L42.75,600.83 L43.00,600.99 L43.25,600.78 L43.50,600.55 L43.75,600.34 L44.00,600.16 L44.25,600.04 L44.50,600.00 L44.75,600.04 L45.00,600.16 L45.25,600.34 L45.50,600.55 L45.75,600.78 L46.00,600.99 L46.25,601.19 L46.50,601.50 L46.75,601.95 L47.00,602.04 L47.00,602.30 Z M49.00,602.30 L49.00,601.89 L49.25,601.71 L49.50,600.86 L49.75,600.17 L50.00,599.67 L50.25,599.11 L50.50,598.52 L50.75,597.97 L51.00,597.51 L51.25,597.21 L51.50,597.10 L51.75,597.21 L52.00,597.51 L52.25,597.97 L52.50,598.52 L52.75,599.11 L53.00,599.67 L53.25,600.17 L53.50,600.58 L53.75,600.89 L54.00,601.12 L54.25,601.06 L54.50,600.83 L54.75,600.53 L55.00,600.17 L55.25,599.76 L55.50,599.33 L55.75,598.93 L56.00,598.60 L56.25,598.38 L56.50,598.30 L56.75,598.38 L57.00,598.60 L57.25,598.93 L57.50,599.33 L57.75,599.76 L58.00,600.17 L58.25,600.53 L58.50,600.83 L58.75,601.06 L59.00,601.22 L59.25,601.33 L59.50,601.40 L59.75,601.45 L60.00,601.47 L60.25,601.49 L60.50,601.63 L60.75,601.97 L61.00,602.02 L61.00,602.30 Z M70.20,602.30 L70.20,602.09 L70.45,602.01 L70.70,601.60 L70.96,601.27 L71.21,600.99 L71.46,600.63 L71.71,600.20 L71.97,599.71 L72.22,599.19 L72.47,598.71 L72.72,598.32 L72.97,598.08 L73.23,598.00 L73.48,598.11 L73.73,598.40 L73.98,598.81 L74.23,599.30 L74.49,599.81 L74.74,600.29 L74.99,600.72 L75.24,601.06 L75.50,601.47 L75.75,601.96 L76.00,602.06 L76.00,602.30 Z M77.50,602.30 L77.50,602.08 L77.75,602.03 L78.00,601.73 L78.25,601.58 L78.50,601.53 L78.75,601.48 L79.00,601.43 L79.25,601.38 L79.50,601.34 L79.75,601.31 L80.00,601.30 L80.25,601.31 L80.50,601.34 L80.75,601.38 L81.00,601.43 L81.25,601.48 L81.50,601.49 L81.75,601.37 L82.00,601.20 L82.25,600.97 L82.50,600.70 L82.75,600.40 L83.00,600.08 L83.25,599.77 L83.50,599.52 L83.75,599.36 L84.00,599.30 L84.25,599.36 L84.50,599.52 L84.75,599.77 L85.00,600.08 L85.25,600.40 L85.50,600.70 L85.75,600.97 L86.00,601.20 L86.25,601.37 L86.50,601.49 L86.75,601.57 L87.00,601.57 L87.25,601.52 L87.50,601.45 L87.75,601.37 L88.00,601.29 L88.25,601.22 L88.50,601.16 L88.75,601.11 L89.00,601.10 L89.25,601.11 L89.50,601.16 L89.75,601.22 L90.00,601.29 L90.25,601.37 L90.50,601.45 L90.75,601.52 L91.00,601.57 L91.25,601.62 L91.50,601.65 L91.75,601.64 L92.00,601.62 L92.25,601.59 L92.50,601.56 L92.75,601.54 L93.00,601.52 L93.25,601.50 L93.50,601.50 L93.75,601.50 L94.00,601.52 L94.25,601.54 L94.50,601.69 L94.75,602.00 L95.00,602.06 L95.00,602.30 Z M95.50,602.30 L95.50,602.00 L95.75,601.86 L96.00,601.17 L96.25,600.56 L96.50,600.10 L96.75,599.57 L97.00,599.03 L97.25,598.51 L97.50,598.08 L97.75,597.80 L98.00,597.70 L98.25,597.80 L98.50,598.08 L98.75,598.51 L99.00,599.03 L99.25,599.57 L99.50,600.10 L99.75,600.56 L100.00,600.94 L100.25,601.23 L100.50,601.59 L100.75,602.00 L101.00,602.08 L101.00,602.30 Z M105.00,602.30 L105.00,601.95 L105.25,601.81 L105.50,601.11 L105.75,600.54 L106.00,600.15 L106.25,599.70 L106.50,599.23 L106.75,598.79 L107.00,598.43 L107.25,598.18 L107.50,598.10 L107.75,598.18 L108.00,598.43 L108.25,598.79 L108.50,599.23 L108.75,599.70 L109.00,600.15 L109.25,600.54 L109.50,600.87 L109.75,601.12 L110.00,601.12 L110.25,600.90 L110.50,600.64 L110.75,600.35 L111.00,600.04 L111.25,599.75 L111.50,599.51 L111.75,599.36 L112.00,599.30 L112.25,599.36 L112.50,599.51 L112.75,599.75 L113.00,600.04 L113.25,600.35 L113.50,600.64 L113.75,600.90 L114.00,601.12 L114.25,601.28 L114.50,601.22 L114.75,601.06 L115.00,600.85 L115.25,600.62 L115.50,600.38 L115.75,600.16 L116.00,599.97 L116.25,599.84 L116.50,599.80 L116.75,599.84 L117.00,599.97 L117.25,600.16 L117.50,600.38 L117.75,600.62 L118.00,600.85 L118.25,601.06 L118.50,601.22 L118.75,601.35 L119.00,601.44 L119.25,601.51 L119.50,601.55 L119.75,601.57 L120.00,601.58 L120.25,601.59 L120.50,601.71 L120.75,602.01 L121.00,602.05 L121.00,602.30 Z M124.00,602.30 L124.00,602.12 L124.25,602.09 L124.50,601.88 L124.75,601.80 L125.00,601.80 L125.25,601.80 L125.50,601.80 L125.75,601.80 L126.00,601.80 L126.25,601.80 L126.50,601.88 L126.75,602.09 L127.00,602.12 L127.00,602.30 Z M127.00,602.30 L127.00,602.01 L127.25,601.92 L127.50,601.45 L127.76,601.14 L128.01,600.97 L128.26,600.78 L128.51,600.58 L128.76,600.39 L129.02,600.23 L129.27,600.13 L129.52,600.10 L129.77,600.14 L130.02,600.25 L130.28,600.41 L130.53,600.61 L130.78,600.81 L131.03,601.00 L131.28,601.17 L131.54,601.30 L131.79,601.41 L132.04,601.48 L132.29,601.53 L132.55,601.56 L132.80,601.55 L133.05,601.51 L133.30,601.44 L133.55,601.33 L133.81,601.17 L134.06,600.96 L134.31,600.68 L134.56,600.35 L134.81,599.98 L135.07,599.61 L135.32,599.27 L135.57,599.00 L135.82,598.83 L136.07,598.81 L136.33,598.91 L136.58,599.14 L136.83,599.08 L137.08,598.51 L137.33,597.98 L137.59,597.58 L137.84,597.34 L138.09,597.31 L138.34,597.49 L138.59,597.85 L138.85,598.35 L139.10,598.92 L139.35,599.49 L139.60,600.02 L139.85,600.48 L140.11,600.84 L140.36,601.11 L140.61,601.30 L140.86,601.21 L141.12,601.03 L141.37,600.79 L141.62,600.51 L141.87,600.20 L142.12,599.90 L142.38,599.63 L142.63,599.42 L142.88,599.31 L143.13,599.32 L143.38,599.43 L143.64,599.64 L143.89,599.91 L144.14,600.22 L144.39,600.52 L144.64,600.80 L144.90,601.24 L145.15,601.85 L145.40,601.97 L145.40,602.30 Z" fill="#12918f" stroke="none"/>
<path d="M37.50,610.70 L37.50,610.42 L37.75,610.37 L38.00,610.03 L38.25,609.90 L38.50,609.90 L38.75,609.90 L39.00,610.03 L39.25,610.37 L39.50,610.42 L39.50,610.70 Z M50.00,610.70 L50.00,610.21 L50.25,609.95 L50.50,608.80 L50.75,607.86 L51.00,607.29 L51.25,606.75 L51.50,606.30 L51.75,606.00 L52.00,605.90 L52.25,606.00 L52.50,606.30 L52.75,606.75 L53.00,607.29 L53.25,607.86 L53.50,608.41 L53.75,608.90 L54.00,609.30 L54.25,609.60 L54.50,609.83 L54.75,609.98 L55.00,610.07 L55.25,610.13 L55.50,610.16 L55.75,610.14 L56.00,610.10 L56.25,610.03 L56.50,609.95 L56.75,609.84 L57.00,609.70 L57.25,609.55 L57.50,609.39 L57.75,609.24 L58.00,609.11 L58.25,609.03 L58.50,609.00 L58.75,609.03 L59.00,609.11 L59.25,609.24 L59.50,609.39 L59.75,609.55 L60.00,609.70 L60.25,609.84 L60.50,610.07 L60.75,610.42 L61.00,610.49 L61.00,610.70 Z M65.00,610.70 L65.00,610.52 L65.25,610.49 L65.50,610.28 L65.75,610.20 L66.00,610.20 L66.25,610.20 L66.50,610.28 L66.75,610.49 L67.00,610.52 L67.00,610.70 Z M71.00,610.70 L71.00,610.31 L71.25,610.15 L71.50,609.44 L71.75,609.00 L72.00,608.84 L72.25,608.74 L72.50,608.70 L72.75,608.74 L73.00,608.84 L73.25,609.00 L73.50,609.19 L73.75,609.39 L74.00,609.58 L74.25,609.75 L74.50,609.89 L74.75,609.99 L75.00,610.07 L75.25,610.12 L75.50,610.25 L75.75,610.48 L76.00,610.52 L76.00,610.70 Z M83.00,610.70 L83.00,610.49 L83.25,610.45 L83.50,610.20 L83.75,610.10 L84.00,610.10 L84.25,610.10 L84.50,610.10 L84.75,610.10 L85.00,610.10 L85.25,610.10 L85.50,610.10 L85.75,610.10 L86.00,610.10 L86.25,610.10 L86.50,610.20 L86.75,610.45 L87.00,610.49 L87.00,610.70 Z M89.00,610.70 L89.00,610.49 L89.25,610.45 L89.50,610.20 L89.75,610.10 L90.00,610.10 L90.25,610.10 L90.50,610.10 L90.75,610.10 L91.00,610.10 L91.25,610.10 L91.50,610.10 L91.75,610.10 L92.00,610.10 L92.25,610.10 L92.50,610.20 L92.75,610.45 L93.00,610.49 L93.00,610.70 Z M96.00,610.70 L96.00,610.52 L96.25,610.49 L96.50,610.28 L96.75,610.20 L97.00,610.28 L97.25,610.49 L97.50,610.52 L97.50,610.70 Z M103.00,610.70 L103.00,610.52 L103.25,610.49 L103.50,610.28 L103.75,610.19 L104.00,610.19 L104.25,610.17 L104.50,610.15 L104.75,610.11 L105.00,610.05 L105.25,609.96 L105.50,609.84 L105.75,609.69 L106.00,609.49 L106.25,609.28 L106.50,609.05 L106.75,608.84 L107.00,608.66 L107.25,608.54 L107.50,608.50 L107.75,608.54 L108.00,608.66 L108.25,608.84 L108.50,609.05 L108.75,609.28 L109.00,609.49 L109.25,609.69 L109.50,609.84 L109.75,609.96 L110.00,610.05 L110.25,610.11 L110.50,610.24 L110.75,610.48 L111.00,610.52 L111.00,610.70 Z M113.00,610.70 L113.00,610.49 L113.25,610.42 L113.50,610.06 L113.75,609.81 L114.00,609.66 L114.25,609.49 L114.50,609.32 L114.75,609.16 L115.00,609.02 L115.25,608.93 L115.50,608.90 L115.75,608.93 L116.00,609.02 L116.25,609.16 L116.50,609.55 L116.75,610.20 L117.00,610.34 L117.00,610.70 Z M128.00,610.70 L128.00,610.52 L128.25,610.49 L128.50,610.28 L128.75,610.20 L129.00,610.20 L129.25,610.20 L129.50,610.20 L129.75,610.20 L130.00,610.20 L130.25,610.20 L130.50,610.28 L130.75,610.49 L131.00,610.52 L131.00,610.70 Z M134.00,610.70 L134.00,610.52 L134.25,610.48 L134.50,610.23 L134.75,610.08 L135.00,610.00 L135.25,609.86 L135.50,609.67 L135.75,609.41 L136.00,609.07 L136.25,608.66 L136.50,608.21 L136.75,607.74 L137.00,607.31 L137.25,606.97 L137.50,606.75 L137.75,606.70 L138.00,606.82 L138.25,607.09 L138.50,607.47 L138.75,607.92 L139.00,608.39 L139.25,608.83 L139.50,609.21 L139.75,609.52 L140.00,609.76 L140.25,609.92 L140.50,610.04 L140.75,610.11 L141.00,610.15 L141.25,610.17 L141.50,610.19 L141.75,610.19 L142.00,610.20 L142.25,610.20 L142.50,610.28 L142.75,610.49 L143.00,610.52 L143.00,610.70 Z" fill="#12918f" stroke="none"/>
<path d="M40.00,619.00 L40.00,618.82 L40.25,618.79 L40.50,618.58 L40.75,618.49 L41.00,618.48 L41.25,618.46 L41.50,618.43 L41.75,618.39 L42.00,618.33 L42.25,618.26 L42.50,618.17 L42.75,618.07 L43.00,617.96 L43.25,617.86 L43.50,617.77 L43.75,617.72 L44.00,617.70 L44.25,617.72 L44.50,617.77 L44.75,617.86 L45.00,617.96 L45.25,618.07 L45.50,618.17 L45.75,618.26 L46.00,618.33 L46.25,618.39 L46.50,618.53 L46.75,618.77 L47.00,618.82 L47.00,619.00 Z M50.00,619.00 L50.00,618.79 L50.25,618.75 L50.50,618.50 L50.75,618.40 L51.00,618.40 L51.25,618.40 L51.50,618.40 L51.75,618.40 L52.00,618.40 L52.25,618.40 L52.50,618.40 L52.75,618.40 L53.00,618.40 L53.25,618.40 L53.50,618.40 L53.75,618.40 L54.00,618.40 L54.25,618.40 L54.50,618.40 L54.75,618.40 L55.00,618.40 L55.25,618.40 L55.50,618.40 L55.75,618.40 L56.00,618.40 L56.25,618.40 L56.50,618.40 L56.75,618.40 L57.00,618.40 L57.25,618.40 L57.50,618.40 L57.75,618.40 L58.00,618.40 L58.25,618.40 L58.50,618.40 L58.75,618.40 L59.00,618.40 L59.25,618.40 L59.50,618.40 L59.75,618.40 L60.00,618.40 L60.25,618.40 L60.50,618.40 L60.75,618.40 L61.00,618.40 L61.25,618.40 L61.50,618.40 L61.75,618.40 L62.00,618.40 L62.25,618.40 L62.50,618.40 L62.75,618.40 L63.00,618.40 L63.25,618.40 L63.50,618.40 L63.75,618.40 L64.00,618.40 L64.25,618.40 L64.50,618.40 L64.75,618.40 L65.00,618.40 L65.25,618.40 L65.50,618.40 L65.75,618.40 L66.00,618.40 L66.25,618.40 L66.50,618.40 L66.75,618.40 L67.00,618.40 L67.25,618.40 L67.50,618.40 L67.75,618.40 L68.00,618.40 L68.25,618.40 L68.50,618.39 L68.75,618.38 L69.00,618.37 L69.25,618.35 L69.50,618.31 L69.75,618.26 L70.00,618.19 L70.25,618.10 L70.50,617.98 L70.75,617.86 L71.00,617.72 L71.25,617.60 L71.50,617.49 L71.75,617.42 L72.00,617.40 L72.25,617.42 L72.50,617.49 L72.75,617.60 L73.00,617.72 L73.25,617.86 L73.50,617.98 L73.75,618.10 L74.00,618.19 L74.25,618.26 L74.50,618.31 L74.75,618.35 L75.00,618.37 L75.25,618.38 L75.50,618.39 L75.75,618.40 L76.00,618.40 L76.25,618.40 L76.50,618.40 L76.75,618.40 L77.00,618.40 L77.25,618.40 L77.50,618.40 L77.75,618.40 L78.00,618.40 L78.25,618.40 L78.50,618.40 L78.75,618.40 L79.00,618.40 L79.25,618.40 L79.50,618.40 L79.75,618.40 L80.00,618.40 L80.25,618.40 L80.50,618.40 L80.75,618.40 L81.00,618.40 L81.25,618.40 L81.50,618.40 L81.75,618.40 L82.00,618.40 L82.25,618.40 L82.50,618.40 L82.75,618.40 L83.00,618.40 L83.25,618.40 L83.50,618.40 L83.75,618.40 L84.00,618.40 L84.25,618.40 L84.50,618.40 L84.75,618.40 L85.00,618.40 L85.25,618.40 L85.50,618.40 L85.75,618.40 L86.00,618.40 L86.25,618.40 L86.50,618.40 L86.75,618.40 L87.00,618.40 L87.25,618.40 L87.50,618.40 L87.75,618.40 L88.00,618.40 L88.25,618.40 L88.50,618.40 L88.75,618.40 L89.00,618.40 L89.25,618.40 L89.50,618.50 L89.75,618.75 L90.00,618.79 L90.00,619.00 Z M90.50,619.00 L90.50,618.83 L90.75,618.79 L91.00,618.58 L91.25,618.50 L91.50,618.50 L91.75,618.50 L92.00,618.50 L92.25,618.50 L92.50,618.50 L92.75,618.50 L93.00,618.50 L93.25,618.50 L93.50,618.50 L93.75,618.50 L94.00,618.50 L94.25,618.50 L94.50,618.58 L94.75,618.79 L95.00,618.83 L95.00,619.00 Z M96.00,619.00 L96.00,618.83 L96.25,618.79 L96.50,618.58 L96.75,618.50 L97.00,618.50 L97.25,618.50 L97.50,618.50 L97.75,618.50 L98.00,618.50 L98.25,618.50 L98.50,618.50 L98.75,618.50 L99.00,618.50 L99.25,618.50 L99.50,618.50 L99.75,618.50 L100.00,618.50 L100.25,618.50 L100.50,618.50 L100.75,618.50 L101.00,618.50 L101.25,618.50 L101.50,618.50 L101.75,618.50 L102.00,618.50 L102.25,618.50 L102.50,618.50 L102.75,618.50 L103.00,618.50 L103.25,618.50 L103.50,618.58 L103.75,618.79 L104.00,618.83 L104.00,619.00 Z M107.00,619.00 L107.00,618.79 L107.25,618.75 L107.50,618.50 L107.75,618.40 L108.00,618.40 L108.25,618.40 L108.50,618.39 L108.75,618.39 L109.00,618.38 L109.25,618.36 L109.50,618.34 L109.75,618.30 L110.00,618.25 L110.25,618.19 L110.50,618.11 L110.75,618.02 L111.00,617.93 L111.25,617.84 L111.50,617.77 L111.75,617.72 L112.00,617.70 L112.25,617.72 L112.50,617.77 L112.75,617.84 L113.00,617.93 L113.25,618.02 L113.50,618.03 L113.75,617.91 L114.00,617.79 L114.25,617.68 L114.50,617.58 L114.75,617.52 L115.00,617.50 L115.25,617.52 L115.50,617.58 L115.75,617.68 L116.00,617.79 L116.25,617.91 L116.50,618.03 L116.75,618.13 L117.00,618.21 L117.25,618.28 L117.50,618.32 L117.75,618.34 L118.00,618.32 L118.25,618.28 L118.50,618.23 L118.75,618.18 L119.00,618.13 L119.25,618.08 L119.50,618.04 L119.75,618.01 L120.00,618.00 L120.25,618.01 L120.50,618.04 L120.75,618.08 L121.00,618.13 L121.25,618.18 L121.50,618.23 L121.75,618.28 L122.00,618.32 L122.25,618.34 L122.50,618.37 L122.75,618.38 L123.00,618.39 L123.25,618.39 L123.50,618.50 L123.75,618.75 L124.00,618.79 L124.00,619.00 Z M127.00,619.00 L127.00,618.83 L127.25,618.79 L127.50,618.58 L127.75,618.50 L128.00,618.50 L128.25,618.50 L128.50,618.50 L128.75,618.50 L129.00,618.50 L129.25,618.50 L129.50,618.50 L129.75,618.50 L130.00,618.50 L130.25,618.50 L130.50,618.58 L130.75,618.79 L131.00,618.83 L131.00,619.00 Z M133.00,619.00 L133.00,618.82 L133.25,618.79 L133.50,618.58 L133.75,618.49 L134.00,618.47 L134.25,618.45 L134.50,618.42 L134.75,618.38 L135.00,618.31 L135.25,618.23 L135.50,618.13 L135.75,618.01 L136.00,617.89 L136.25,617.78 L136.50,617.68 L136.75,617.62 L137.00,617.60 L137.25,617.62 L137.50,617.90 L137.75,618.49 L138.00,618.61 L138.00,619.00 Z M140.00,619.00 L140.00,618.83 L140.26,618.79 L140.51,618.57 L140.77,618.50 L141.03,618.50 L141.29,618.50 L141.54,618.50 L141.80,618.50 L142.06,618.50 L142.31,618.50 L142.57,618.50 L142.83,618.50 L143.09,618.50 L143.34,618.50 L143.60,618.50 L143.86,618.50 L144.11,618.50 L144.37,618.50 L144.63,618.50 L144.89,618.57 L145.14,618.79 L145.40,618.83 L145.40,619.00 Z" fill="#111111" stroke="none"/>
<path d="M37.00,627.10 L37.00,626.92 L37.25,626.89 L37.50,626.68 L37.75,626.60 L38.00,626.60 L38.25,626.60 L38.50,626.60 L38.75,626.60 L39.00,626.60 L39.25,626.60 L39.50,626.60 L39.75,626.60 L40.00,626.60 L40.25,626.60 L40.50,626.68 L40.75,626.89 L41.00,626.92 L41.00,627.10 Z M44.00,627.10 L44.00,626.92 L44.25,626.89 L44.50,626.68 L44.75,626.60 L45.00,626.60 L45.25,626.60 L45.50,626.60 L45.75,626.60 L46.00,626.60 L46.25,626.60 L46.50,626.60 L46.75,626.60 L47.00,626.60 L47.25,626.60 L47.50,626.60 L47.75,626.60 L48.00,626.60 L48.25,626.60 L48.50,626.60 L48.75,626.60 L49.00,626.60 L49.25,626.60 L49.50,626.68 L49.75,626.89 L50.00,626.92 L50.00,627.10 Z M52.00,627.10 L52.00,626.89 L52.25,626.85 L52.50,626.60 L52.75,626.50 L53.00,626.50 L53.25,626.50 L53.50,626.50 L53.75,626.50 L54.00,626.50 L54.25,626.50 L54.50,626.50 L54.75,626.50 L55.00,626.50 L55.25,626.50 L55.50,626.50 L55.75,626.50 L56.00,626.50 L56.25,626.50 L56.50,626.50 L56.75,626.50 L57.00,626.50 L57.25,626.50 L57.50,626.50 L57.75,626.50 L58.00,626.50 L58.25,626.50 L58.50,626.50 L58.75,626.50 L59.00,626.50 L59.25,626.50 L59.50,626.50 L59.75,626.50 L60.00,626.50 L60.25,626.50 L60.50,626.50 L60.75,626.50 L61.00,626.49 L61.25,626.48 L61.50,626.47 L61.75,626.46 L62.00,626.44 L62.25,626.41 L62.50,626.38 L62.75,626.34 L63.00,626.30 L63.25,626.26 L63.50,626.23 L63.75,626.21 L64.00,626.20 L64.25,626.21 L64.50,626.23 L64.75,626.26 L65.00,626.30 L65.25,626.34 L65.50,626.38 L65.75,626.41 L66.00,626.44 L66.25,626.46 L66.50,626.47 L66.75,626.46 L67.00,626.44 L67.25,626.41 L67.50,626.38 L67.75,626.34 L68.00,626.30 L68.25,626.26 L68.50,626.23 L68.75,626.21 L69.00,626.20 L69.25,626.21 L69.50,626.23 L69.75,626.26 L70.00,626.30 L70.25,626.34 L70.50,626.38 L70.75,626.41 L71.00,626.44 L71.25,626.46 L71.50,626.47 L71.75,626.48 L72.00,626.49 L72.25,626.50 L72.50,626.50 L72.75,626.50 L73.00,626.50 L73.25,626.50 L73.50,626.50 L73.75,626.50 L74.00,626.50 L74.25,626.50 L74.50,626.50 L74.75,626.50 L75.00,626.50 L75.25,626.50 L75.50,626.50 L75.75,626.50 L76.00,626.50 L76.25,626.50 L76.50,626.50 L76.75,626.50 L77.00,626.50 L77.25,626.50 L77.50,626.50 L77.75,626.50 L78.00,626.50 L78.25,626.50 L78.50,626.60 L78.75,626.85 L79.00,626.89 L79.00,627.10 Z M81.00,627.10 L81.00,626.92 L81.25,626.89 L81.50,626.68 L81.75,626.60 L82.00,626.60 L82.25,626.60 L82.50,626.60 L82.75,626.60 L83.00,626.60 L83.25,626.60 L83.50,626.60 L83.75,626.60 L84.00,626.60 L84.25,626.60 L84.50,626.60 L84.75,626.60 L85.00,626.60 L85.25,626.60 L85.50,626.60 L85.75,626.60 L86.00,626.60 L86.25,626.60 L86.50,626.68 L86.75,626.89 L87.00,626.92 L87.00,627.10 Z M90.00,627.10 L90.00,626.89 L90.25,626.85 L90.50,626.60 L90.75,626.50 L91.00,626.50 L91.25,626.50 L91.50,626.50 L91.75,626.50 L92.00,626.50 L92.25,626.50 L92.50,626.50 L92.75,626.50 L93.00,626.50 L93.25,626.50 L93.50,626.50 L93.75,626.50 L94.00,626.49 L94.25,626.48 L94.50,626.47 L94.75,626.46 L95.00,626.44 L95.25,626.41 L95.50,626.38 L95.75,626.34 L96.00,626.30 L96.25,626.26 L96.50,626.23 L96.75,626.21 L97.00,626.20 L97.25,626.21 L97.50,626.23 L97.75,626.26 L98.00,626.30 L98.25,626.34 L98.50,626.38 L98.75,626.41 L99.00,626.44 L99.25,626.46 L99.50,626.47 L99.75,626.48 L100.00,626.49 L100.25,626.50 L100.50,626.50 L100.75,626.50 L101.00,626.49 L101.25,626.48 L101.50,626.47 L101.75,626.46 L102.00,626.44 L102.25,626.41 L102.50,626.38 L102.75,626.34 L103.00,626.30 L103.25,626.26 L103.50,626.23 L103.75,626.21 L104.00,626.20 L104.25,626.21 L104.50,626.23 L104.75,626.26 L105.00,626.30 L105.25,626.34 L105.50,626.38 L105.75,626.41 L106.00,626.44 L106.25,626.46 L106.50,626.47 L106.75,626.48 L107.00,626.49 L107.25,626.50 L107.50,626.60 L107.75,626.85 L108.00,626.89 L108.00,627.10 Z M111.00,627.10 L111.00,626.92 L111.25,626.89 L111.50,626.68 L111.75,626.60 L112.00,626.60 L112.25,626.60 L112.50,626.68 L112.75,626.89 L113.00,626.92 L113.00,627.10 Z M115.00,627.10 L115.00,626.92 L115.25,626.89 L115.50,626.68 L115.75,626.60 L116.00,626.60 L116.25,626.60 L116.50,626.60 L116.75,626.60 L117.00,626.60 L117.25,626.60 L117.50,626.68 L117.75,626.89 L118.00,626.92 L118.00,627.10 Z M123.00,627.10 L123.00,626.92 L123.25,626.89 L123.50,626.68 L123.75,626.60 L124.00,626.60 L124.25,626.60 L124.50,626.60 L124.75,626.60 L125.00,626.60 L125.25,626.60 L125.50,626.60 L125.75,626.60 L126.00,626.60 L126.25,626.60 L126.50,626.60 L126.75,626.60 L127.00,626.60 L127.25,626.60 L127.50,626.68 L127.75,626.89 L128.00,626.92 L128.00,627.10 Z M129.00,627.10 L129.00,626.92 L129.25,626.89 L129.50,626.68 L129.75,626.60 L130.00,626.60 L130.25,626.60 L130.50,626.60 L130.75,626.60 L131.00,626.60 L131.25,626.60 L131.50,626.60 L131.75,626.60 L132.00,626.60 L132.25,626.60 L132.50,626.60 L132.75,626.60 L133.00,626.60 L133.25,626.60 L133.50,626.68 L133.75,626.89 L134.00,626.92 L134.00,627.10 Z M135.00,627.10 L135.00,626.89 L135.25,626.85 L135.50,626.60 L135.75,626.50 L136.00,626.50 L136.25,626.50 L136.50,626.50 L136.75,626.50 L137.00,626.50 L137.25,626.50 L137.50,626.50 L137.75,626.50 L138.00,626.50 L138.25,626.50 L138.50,626.50 L138.75,626.50 L139.00,626.50 L139.25,626.50 L139.50,626.60 L139.75,626.85 L140.00,626.89 L140.00,627.10 Z M142.00,627.10 L142.00,626.92 L142.26,626.88 L142.52,626.66 L142.78,626.60 L143.05,626.60 L143.31,626.60 L143.57,626.60 L143.83,626.60 L144.09,626.60 L144.35,626.60 L144.62,626.60 L144.88,626.66 L145.14,626.88 L145.40,626.92 L145.40,627.10 Z" fill="#111111" stroke="none"/>
<path d="M42.00,635.20 L42.00,634.95 L42.25,634.91 L42.50,634.62 L42.75,634.50 L43.00,634.50 L43.25,634.50 L43.50,634.50 L43.75,634.50 L44.00,634.50 L44.25,634.50 L44.50,634.50 L44.75,634.50 L45.00,634.50 L45.25,634.50 L45.50,634.50 L45.75,634.50 L46.00,634.50 L46.25,634.50 L46.50,634.50 L46.75,634.50 L47.00,634.50 L47.25,634.50 L47.50,634.50 L47.75,634.50 L48.00,634.50 L48.25,634.50 L48.50,634.49 L48.75,634.49 L49.00,634.47 L49.25,634.45 L49.50,634.42 L49.75,634.38 L50.00,634.31 L50.25,634.23 L50.50,634.13 L50.75,634.01 L51.00,633.89 L51.25,633.78 L51.50,633.68 L51.75,633.62 L52.00,633.60 L52.25,633.62 L52.50,633.68 L52.75,633.78 L53.00,633.89 L53.25,634.01 L53.50,634.13 L53.75,634.23 L54.00,634.31 L54.25,634.38 L54.50,634.38 L54.75,634.34 L55.00,634.30 L55.25,634.26 L55.50,634.23 L55.75,634.21 L56.00,634.20 L56.25,634.21 L56.50,634.23 L56.75,634.26 L57.00,634.30 L57.25,634.34 L57.50,634.38 L57.75,634.41 L58.00,634.44 L58.25,634.41 L58.50,634.38 L58.75,634.34 L59.00,634.30 L59.25,634.26 L59.50,634.23 L59.75,634.21 L60.00,634.20 L60.25,634.21 L60.50,634.23 L60.75,634.26 L61.00,634.30 L61.25,634.34 L61.50,634.38 L61.75,634.41 L62.00,634.44 L62.25,634.41 L62.50,634.38 L62.75,634.34 L63.00,634.30 L63.25,634.26 L63.50,634.23 L63.75,634.21 L64.00,634.20 L64.25,634.21 L64.50,634.23 L64.75,634.26 L65.00,634.30 L65.25,634.34 L65.50,634.38 L65.75,634.41 L66.00,634.44 L66.25,634.46 L66.50,634.47 L66.75,634.48 L67.00,634.49 L67.25,634.50 L67.50,634.50 L67.75,634.50 L68.00,634.50 L68.25,634.50 L68.50,634.50 L68.75,634.50 L69.00,634.50 L69.25,634.50 L69.50,634.62 L69.75,634.91 L70.00,634.95 L70.00,635.20 Z M70.00,635.20 L70.00,634.99 L70.25,634.95 L70.50,634.70 L70.75,634.60 L71.00,634.60 L71.25,634.60 L71.50,634.60 L71.75,634.60 L72.00,634.60 L72.25,634.60 L72.50,634.60 L72.75,634.60 L73.00,634.60 L73.25,634.60 L73.50,634.60 L73.75,634.60 L74.00,634.60 L74.25,634.60 L74.50,634.60 L74.75,634.60 L75.00,634.60 L75.25,634.60 L75.50,634.60 L75.75,634.60 L76.00,634.60 L76.25,634.60 L76.50,634.60 L76.75,634.60 L77.00,634.60 L77.25,634.60 L77.50,634.60 L77.75,634.60 L78.00,634.60 L78.25,634.60 L78.50,634.70 L78.75,634.95 L79.00,634.99 L79.00,635.20 Z M80.00,635.20 L80.00,635.02 L80.25,634.99 L80.50,634.78 L80.75,634.70 L81.00,634.70 L81.25,634.70 L81.50,634.70 L81.75,634.70 L82.00,634.70 L82.25,634.70 L82.50,634.78 L82.75,634.99 L83.00,635.02 L83.00,635.20 Z M85.00,635.20 L85.00,635.02 L85.25,634.99 L85.50,634.78 L85.75,634.70 L86.00,634.70 L86.25,634.70 L86.50,634.70 L86.75,634.70 L87.00,634.70 L87.25,634.70 L87.50,634.78 L87.75,634.99 L88.00,635.02 L88.00,635.20 Z M92.00,635.20 L92.00,634.99 L92.25,634.95 L92.50,634.70 L92.75,634.60 L93.00,634.60 L93.25,634.60 L93.50,634.60 L93.75,634.60 L94.00,634.60 L94.25,634.60 L94.50,634.60 L94.75,634.60 L95.00,634.60 L95.25,634.60 L95.50,634.60 L95.75,634.60 L96.00,634.60 L96.25,634.60 L96.50,634.60 L96.75,634.60 L97.00,634.60 L97.25,634.60 L97.50,634.60 L97.75,634.60 L98.00,634.60 L98.25,634.60 L98.50,634.60 L98.75,634.60 L99.00,634.60 L99.25,634.60 L99.50,634.60 L99.75,634.60 L100.00,634.60 L100.25,634.60 L100.50,634.60 L100.75,634.60 L101.00,634.60 L101.25,634.60 L101.50,634.60 L101.75,634.60 L102.00,634.60 L102.25,634.60 L102.50,634.60 L102.75,634.60 L103.00,634.60 L103.25,634.60 L103.50,634.60 L103.75,634.60 L104.00,634.60 L104.25,634.60 L104.50,634.60 L104.75,634.60 L105.00,634.60 L105.25,634.60 L105.50,634.60 L105.75,634.60 L106.00,634.60 L106.25,634.60 L106.50,634.60 L106.75,634.60 L107.00,634.60 L107.25,634.60 L107.50,634.60 L107.75,634.60 L108.00,634.60 L108.25,634.60 L108.50,634.60 L108.75,634.60 L109.00,634.60 L109.25,634.60 L109.50,634.70 L109.75,634.95 L110.00,634.99 L110.00,635.20 Z M113.00,635.20 L113.00,635.02 L113.25,634.99 L113.50,634.78 L113.75,634.70 L114.00,634.70 L114.25,634.70 L114.50,634.70 L114.75,634.70 L115.00,634.70 L115.25,634.70 L115.50,634.78 L115.75,634.99 L116.00,635.02 L116.00,635.20 Z M124.00,635.20 L124.00,634.99 L124.25,634.95 L124.50,634.70 L124.75,634.60 L125.00,634.60 L125.25,634.60 L125.50,634.60 L125.75,634.60 L126.00,634.60 L126.25,634.60 L126.50,634.60 L126.75,634.60 L127.00,634.60 L127.25,634.60 L127.50,634.60 L127.75,634.60 L128.00,634.60 L128.25,634.60 L128.50,634.60 L128.75,634.60 L129.00,634.60 L129.25,634.60 L129.50,634.60 L129.75,634.60 L130.00,634.60 L130.25,634.60 L130.50,634.60 L130.75,634.60 L131.00,634.60 L131.25,634.60 L131.50,634.60 L131.75,634.60 L132.00,634.60 L132.25,634.60 L132.50,634.60 L132.75,634.60 L133.00,634.60 L133.25,634.60 L133.50,634.60 L133.75,634.60 L134.00,634.59 L134.25,634.59 L134.50,634.57 L134.75,634.55 L135.00,634.52 L135.25,634.48 L135.50,634.41 L135.75,634.33 L136.00,634.23 L136.25,634.11 L136.50,633.99 L136.75,633.88 L137.00,633.78 L137.25,633.72 L137.50,633.70 L137.75,633.72 L138.00,633.78 L138.25,633.88 L138.50,633.99 L138.75,634.11 L139.00,634.23 L139.25,634.33 L139.50,634.41 L139.75,634.48 L140.00,634.52 L140.25,634.55 L140.50,634.57 L140.75,634.59 L141.00,634.59 L141.25,634.60 L141.50,634.60 L141.75,634.60 L142.00,634.60 L142.25,634.60 L142.50,634.70 L142.75,634.95 L143.00,634.99 L143.00,635.20 Z" fill="#111111" stroke="none"/>
<rect x="181.20" y="560.90" width="196.30" height="2.20" fill="#f2f2f2" stroke="#bdbdbd" stroke-width="0.4"/>
<rect x="201.00" y="560.90" width="9.00" height="2.20" fill="#c9c9c9" />
<rect x="256.00" y="560.90" width="10.00" height="2.20" fill="#c9c9c9" />
<rect x="331.00" y="560.90" width="13.00" height="2.20" fill="#c9c9c9" />
<rect x="186.70" y="560.80" width="6.70" height="2.40" fill="#111" />
<rect x="194.90" y="560.80" width="5.20" height="2.40" fill="#111" />
<rect x="217.40" y="560.80" width="4.80" height="2.40" fill="#111" />
<rect x="238.60" y="560.80" width="8.60" height="2.40" fill="#111" />
<rect x="249.20" y="560.80" width="4.80" height="2.40" fill="#111" />
<rect x="268.40" y="560.80" width="12.50" height="2.40" fill="#111" />
<rect x="288.60" y="560.80" width="5.70" height="2.40" fill="#111" />
<rect x="296.30" y="560.80" width="6.70" height="2.40" fill="#111" />
<rect x="305.00" y="560.80" width="2.80" height="2.40" fill="#111" />
<rect x="310.70" y="560.80" width="7.70" height="2.40" fill="#111" />
<rect x="325.10" y="560.80" width="4.90" height="2.40" fill="#111" />
<rect x="346.30" y="560.80" width="6.70" height="2.40" fill="#111" />
<rect x="366.50" y="560.80" width="10.50" height="2.40" fill="#111" />
<rect x="222.60" y="560.80" width="1.60" height="2.40" fill="#e23b34" />
<rect x="227.00" y="560.80" width="1.40" height="2.40" fill="#e23b34" />
<rect x="185.20" y="563.80" width="4.50" height="0.70" fill="#b5b5b5" />
<rect x="196.20" y="563.80" width="4.50" height="0.70" fill="#b5b5b5" />
<rect x="208.20" y="563.80" width="4.50" height="0.70" fill="#b5b5b5" />
<rect x="221.20" y="563.80" width="4.50" height="0.70" fill="#b5b5b5" />
<rect x="232.20" y="563.80" width="4.50" height="0.70" fill="#b5b5b5" />
<rect x="244.20" y="563.80" width="4.50" height="0.70" fill="#b5b5b5" />
<rect x="257.20" y="563.80" width="4.50" height="0.70" fill="#b5b5b5" />
<rect x="268.20" y="563.80" width="4.50" height="0.70" fill="#b5b5b5" />
<rect x="280.20" y="563.80" width="4.50" height="0.70" fill="#b5b5b5" />
<rect x="293.20" y="563.80" width="4.50" height="0.70" fill="#b5b5b5" />
<rect x="304.20" y="563.80" width="4.50" height="0.70" fill="#b5b5b5" />
<rect x="316.20" y="563.80" width="4.50" height="0.70" fill="#b5b5b5" />
<rect x="329.20" y="563.80" width="4.50" height="0.70" fill="#b5b5b5" />
<rect x="340.20" y="563.80" width="4.50" height="0.70" fill="#b5b5b5" />
<rect x="352.20" y="563.80" width="4.50" height="0.70" fill="#b5b5b5" />
<rect x="365.20" y="563.80" width="4.50" height="0.70" fill="#b5b5b5" />
<line x1="181.20" y1="570.20" x2="377.50" y2="570.20" stroke="#c4c4c4" stroke-width="0.6" />
<rect x="277.00" y="569.40" width="6.00" height="1.50" fill="#ffffff" />
<rect x="277.50" y="569.80" width="5.00" height="0.80" fill="#9a9a9a" />
<rect x="179.80" y="572.70" width="6.00" height="0.80" fill="#bdbdbd" />
<line x1="182.80" y1="574.60" x2="182.80" y2="575.60" stroke="#aaa" stroke-width="0.5" />
<rect x="222.00" y="572.70" width="6.00" height="0.80" fill="#bdbdbd" />
<line x1="225.00" y1="574.60" x2="225.00" y2="575.60" stroke="#aaa" stroke-width="0.5" />
<rect x="264.40" y="572.70" width="6.00" height="0.80" fill="#bdbdbd" />
<line x1="267.40" y1="574.60" x2="267.40" y2="575.60" stroke="#aaa" stroke-width="0.5" />
<rect x="306.70" y="572.70" width="6.00" height="0.80" fill="#bdbdbd" />
<line x1="309.70" y1="574.60" x2="309.70" y2="575.60" stroke="#aaa" stroke-width="0.5" />
<rect x="349.00" y="572.70" width="6.00" height="0.80" fill="#bdbdbd" />
<line x1="352.00" y1="574.60" x2="352.00" y2="575.60" stroke="#aaa" stroke-width="0.5" />
<line x1="181.20" y1="576.60" x2="377.50" y2="576.60" stroke="#d0d0d0" stroke-width="0.7" />
<line x1="181.20" y1="577.70" x2="377.50" y2="577.70" stroke="#9d9d9d" stroke-width="1.0" />
<line x1="181.20" y1="579.70" x2="377.00" y2="579.70" stroke="#5560c0" stroke-width="0.7" />
<rect x="180.90" y="578.70" width="2.90" height="2.10" fill="#1f2a9c" />
<rect x="200.00" y="578.70" width="1.50" height="2.10" fill="#1f2a9c" />
<rect x="211.00" y="578.70" width="1.60" height="2.10" fill="#1f2a9c" />
<rect x="213.60" y="578.70" width="1.40" height="2.10" fill="#1f2a9c" />
<rect x="223.20" y="578.70" width="1.90" height="2.10" fill="#1f2a9c" />
<rect x="285.70" y="578.70" width="1.00" height="2.10" fill="#1f2a9c" />
<rect x="290.50" y="578.70" width="1.00" height="2.10" fill="#1f2a9c" />
<rect x="329.00" y="578.70" width="1.00" height="2.10" fill="#1f2a9c" />
<rect x="338.60" y="578.70" width="2.90" height="2.10" fill="#1f2a9c" />
<rect x="349.20" y="578.70" width="0.90" height="2.10" fill="#1f2a9c" />
<rect x="373.20" y="578.70" width="2.80" height="2.10" fill="#1f2a9c" />
<rect x="273.00" y="584.30" width="6.00" height="0.90" fill="#a8a8a8" />
<line x1="181.20" y1="586.40" x2="377.50" y2="586.40" stroke="#e3e3e3" stroke-width="0.6" />
<text x="178.20" y="594.60" font-size="6.3" text-anchor="end" fill="#231f20" style="stroke-width:0.2px" textLength="20.50" lengthAdjust="spacingAndGlyphs" >WT1 #1</text>
<text x="178.20" y="602.80" font-size="6.3" text-anchor="end" fill="#231f20" style="stroke-width:0.2px" textLength="20.50" lengthAdjust="spacingAndGlyphs" >WT1 #2</text>
<text x="178.20" y="611.20" font-size="6.3" text-anchor="end" fill="#231f20" style="stroke-width:0.2px" textLength="20.50" lengthAdjust="spacingAndGlyphs" >WT1 #3</text>
<text x="178.20" y="619.60" font-size="6.3" text-anchor="end" fill="#231f20" style="stroke-width:0.2px" textLength="21.90" lengthAdjust="spacingAndGlyphs" >CTRL #1</text>
<text x="178.20" y="627.50" font-size="6.3" text-anchor="end" fill="#231f20" style="stroke-width:0.2px" textLength="21.90" lengthAdjust="spacingAndGlyphs" >CTRL #2</text>
<text x="178.20" y="635.80" font-size="6.3" text-anchor="end" fill="#231f20" style="stroke-width:0.2px" textLength="21.90" lengthAdjust="spacingAndGlyphs" >CTRL #3</text>
<path d="M181.20,594.10 L181.20,593.64 L181.45,593.54 L181.70,592.97 L181.95,592.72 L182.21,592.68 L182.46,592.63 L182.71,592.56 L182.96,592.49 L183.21,592.42 L183.46,592.36 L183.71,592.32 L183.96,592.30 L184.22,592.31 L184.47,592.35 L184.72,592.40 L184.97,592.47 L185.22,592.54 L185.47,592.61 L185.72,592.67 L185.98,592.71 L186.23,592.68 L186.48,592.62 L186.73,592.56 L186.98,592.48 L187.23,592.42 L187.48,592.36 L187.74,592.32 L187.99,592.30 L188.24,592.31 L188.49,592.35 L188.74,592.41 L188.99,592.48 L189.24,592.55 L189.49,592.61 L189.75,592.67 L190.00,592.94 L190.25,593.53 L190.50,593.63 L190.50,594.10 Z M193.50,594.10 L193.50,593.92 L193.75,593.89 L194.00,593.68 L194.25,593.60 L194.50,593.68 L194.75,593.89 L195.00,593.92 L195.00,594.10 Z M197.50,594.10 L197.50,593.92 L197.75,593.89 L198.00,593.68 L198.25,593.60 L198.50,593.68 L198.75,593.89 L199.00,593.92 L199.00,594.10 Z M209.00,594.10 L209.00,593.92 L209.25,593.89 L209.50,593.68 L209.75,593.60 L210.00,593.60 L210.25,593.60 L210.50,593.68 L210.75,593.89 L211.00,593.92 L211.00,594.10 Z M215.00,594.10 L215.00,593.87 L215.25,593.81 L215.50,593.46 L215.75,593.24 L216.00,593.13 L216.25,593.00 L216.50,592.86 L216.75,592.72 L217.00,592.61 L217.25,592.53 L217.50,592.50 L217.75,592.53 L218.00,592.61 L218.25,592.72 L218.50,592.86 L218.75,593.00 L219.00,593.29 L219.25,593.74 L219.50,593.83 L219.50,594.10 Z M233.00,594.10 L233.00,593.84 L233.25,593.76 L233.50,593.32 L233.75,593.02 L234.00,592.84 L234.25,592.64 L234.50,592.45 L234.75,592.28 L235.00,592.15 L235.25,592.10 L235.50,592.12 L235.75,592.22 L236.00,592.37 L236.25,592.56 L236.50,592.76 L236.75,592.95 L237.00,593.11 L237.25,593.24 L237.50,593.46 L237.75,593.81 L238.00,593.87 L238.00,594.10 Z M240.50,594.10 L240.50,593.92 L240.75,593.89 L241.00,593.68 L241.25,593.60 L241.50,593.68 L241.75,593.89 L242.00,593.92 L242.00,594.10 Z M244.00,594.10 L244.00,593.84 L244.25,593.76 L244.50,593.35 L244.75,593.10 L245.00,592.99 L245.25,592.88 L245.50,592.78 L245.75,592.72 L246.00,592.70 L246.25,592.72 L246.50,592.78 L246.75,592.88 L247.00,592.99 L247.25,593.10 L247.50,593.35 L247.75,593.76 L248.00,593.84 L248.00,594.10 Z M250.00,594.10 L250.00,593.74 L250.25,593.60 L250.50,592.96 L250.75,592.57 L251.00,592.43 L251.25,592.33 L251.50,592.30 L251.75,592.33 L252.00,592.43 L252.25,592.57 L252.50,592.73 L252.75,592.90 L253.00,593.06 L253.25,593.19 L253.50,593.30 L253.75,593.37 L254.00,593.43 L254.25,593.46 L254.50,593.58 L254.75,593.85 L255.00,593.89 L255.00,594.10 Z M256.00,594.10 L256.00,593.72 L256.25,593.54 L256.50,592.71 L256.75,592.05 L257.00,591.64 L257.25,591.24 L257.50,590.90 L257.75,590.68 L258.00,590.60 L258.25,590.68 L258.50,590.90 L258.75,591.24 L259.00,591.64 L259.25,592.05 L259.50,592.71 L259.75,593.54 L260.00,593.72 L260.00,594.10 Z M263.50,594.10 L263.50,593.92 L263.75,593.89 L264.00,593.68 L264.25,593.60 L264.50,593.68 L264.75,593.89 L265.00,593.92 L265.00,594.10 Z M266.00,594.10 L266.00,593.81 L266.25,593.70 L266.50,593.17 L266.75,592.80 L267.00,592.60 L267.25,592.41 L267.50,592.25 L267.75,592.14 L268.00,592.10 L268.25,592.14 L268.50,592.25 L268.75,592.41 L269.00,592.60 L269.25,592.80 L269.50,593.17 L269.75,593.70 L270.00,593.81 L270.00,594.10 Z M272.00,594.10 L272.00,593.78 L272.25,593.67 L272.50,593.12 L272.75,592.75 L273.00,592.57 L273.25,592.39 L273.50,592.24 L273.75,592.14 L274.00,592.10 L274.25,592.14 L274.50,592.24 L274.75,592.39 L275.00,592.48 L275.25,592.15 L275.50,591.80 L275.75,591.45 L276.00,591.16 L276.25,590.97 L276.50,590.90 L276.75,590.97 L277.00,591.16 L277.25,591.45 L277.50,592.18 L277.75,593.29 L278.00,593.53 L278.00,594.10 Z M278.50,594.10 L278.50,593.92 L278.75,593.89 L279.00,593.68 L279.25,593.60 L279.50,593.68 L279.75,593.89 L280.00,593.92 L280.00,594.10 Z M282.50,594.10 L282.50,593.92 L282.75,593.89 L283.00,593.68 L283.25,593.60 L283.50,593.68 L283.75,593.89 L284.00,593.92 L284.00,594.10 Z M287.00,594.10 L287.00,593.89 L287.25,593.84 L287.50,593.57 L287.75,593.44 L288.00,593.39 L288.25,593.32 L288.50,593.21 L288.75,593.06 L289.00,592.87 L289.25,592.65 L289.50,592.41 L289.75,592.18 L290.00,591.98 L290.25,591.85 L290.50,591.80 L290.75,591.85 L291.00,591.98 L291.25,592.18 L291.50,592.69 L291.75,593.50 L292.00,593.67 L292.00,594.10 Z M293.50,594.10 L293.50,593.89 L293.75,593.85 L294.00,593.60 L294.25,593.50 L294.50,593.60 L294.75,593.85 L295.00,593.89 L295.00,594.10 Z M296.00,594.10 L296.00,593.50 L296.25,593.23 L296.50,592.00 L296.75,591.16 L297.00,590.82 L297.25,590.58 L297.50,590.50 L297.75,590.58 L298.00,590.82 L298.25,591.16 L298.50,591.58 L298.75,592.00 L299.00,592.40 L299.25,592.73 L299.50,593.18 L299.75,593.72 L300.00,593.82 L300.00,594.10 Z M308.50,594.10 L308.50,593.92 L308.75,593.89 L309.00,593.68 L309.25,593.60 L309.50,593.68 L309.75,593.89 L310.00,593.92 L310.00,594.10 Z M314.00,594.10 L314.00,593.92 L314.25,593.89 L314.50,593.68 L314.75,593.60 L315.00,593.60 L315.25,593.60 L315.50,593.60 L315.75,593.60 L316.00,593.60 L316.25,593.60 L316.50,593.60 L316.75,593.60 L317.00,593.60 L317.25,593.60 L317.50,593.60 L317.75,593.60 L318.00,593.60 L318.25,593.60 L318.50,593.60 L318.75,593.60 L319.00,593.60 L319.25,593.60 L319.50,593.68 L319.75,593.89 L320.00,593.92 L320.00,594.10 Z M324.00,594.10 L324.00,593.92 L324.25,593.89 L324.50,593.68 L324.75,593.60 L325.00,593.60 L325.25,593.60 L325.50,593.60 L325.75,593.60 L326.00,593.60 L326.25,593.60 L326.50,593.60 L326.75,593.60 L327.00,593.60 L327.25,593.60 L327.50,593.68 L327.75,593.89 L328.00,593.92 L328.00,594.10 Z M362.90,594.10 L362.90,593.71 L363.16,593.55 L363.41,592.85 L363.67,592.45 L363.92,592.28 L364.18,592.16 L364.43,592.10 L364.69,592.12 L364.94,592.21 L365.20,592.35 L365.46,592.53 L365.71,592.72 L365.97,592.90 L366.22,593.05 L366.48,593.11 L366.73,593.01 L366.99,592.89 L367.24,592.78 L367.50,592.68 L367.76,592.62 L368.01,592.60 L368.27,592.62 L368.52,592.69 L368.78,592.79 L369.03,592.90 L369.29,593.18 L369.54,593.68 L369.80,593.79 L369.80,594.10 Z M371.40,594.10 L371.40,593.92 L371.66,593.88 L371.92,593.67 L372.18,593.60 L372.44,593.60 L372.70,593.60 L372.96,593.60 L373.22,593.60 L373.48,593.67 L373.74,593.88 L374.00,593.92 L374.00,594.10 Z" fill="#12918f" stroke="none"/>
<path d="M181.20,602.30 L181.20,601.80 L181.45,601.58 L181.70,600.56 L181.95,599.84 L182.21,599.46 L182.46,599.13 L182.71,598.90 L182.96,598.80 L183.21,598.85 L183.46,599.05 L183.71,599.35 L183.97,599.72 L184.22,599.24 L184.47,598.57 L184.72,597.91 L184.97,597.35 L185.22,596.96 L185.47,596.80 L185.73,596.91 L185.98,597.25 L186.23,597.79 L186.48,598.43 L186.73,599.10 L186.98,599.73 L187.23,600.18 L187.49,599.79 L187.74,599.42 L187.99,599.10 L188.24,598.88 L188.49,598.80 L188.74,598.87 L188.99,599.08 L189.25,599.39 L189.50,600.17 L189.75,601.40 L190.00,601.67 L190.00,602.30 Z M198.50,602.30 L198.50,602.12 L198.75,602.09 L199.00,601.88 L199.25,601.80 L199.50,601.88 L199.75,602.09 L200.00,602.12 L200.00,602.30 Z M207.50,602.30 L207.50,602.12 L207.75,602.09 L208.00,601.88 L208.25,601.80 L208.50,601.88 L208.75,602.09 L209.00,602.12 L209.00,602.30 Z M216.00,602.30 L216.00,601.88 L216.25,601.72 L216.50,600.95 L216.75,600.45 L217.00,600.27 L217.25,600.14 L217.50,600.10 L217.75,600.14 L218.00,600.27 L218.25,600.45 L218.50,600.67 L218.75,600.90 L219.00,601.11 L219.25,601.29 L219.50,601.57 L219.75,601.98 L220.00,602.06 L220.00,602.30 Z M221.00,602.30 L221.00,602.12 L221.25,602.09 L221.50,601.88 L221.75,602.09 L222.00,602.12 L222.00,602.30 Z M230.50,602.30 L230.50,602.12 L230.75,602.09 L231.00,601.88 L231.25,601.80 L231.50,601.88 L231.75,602.09 L232.00,602.12 L232.00,602.30 Z M233.00,602.30 L233.00,601.97 L233.25,601.84 L233.50,601.19 L233.75,600.70 L234.00,600.42 L234.25,600.14 L234.50,599.91 L234.75,599.75 L235.00,599.70 L235.25,599.75 L235.50,599.91 L235.75,600.14 L236.00,600.42 L236.25,600.70 L236.50,601.19 L236.75,601.84 L237.00,601.97 L237.00,602.30 Z M240.00,602.30 L240.00,602.09 L240.25,602.05 L240.50,601.80 L240.75,601.70 L241.00,601.70 L241.25,601.69 L241.50,601.69 L241.75,601.68 L242.00,601.67 L242.25,601.65 L242.50,601.63 L242.75,601.60 L243.00,601.57 L243.25,601.54 L243.50,601.52 L243.75,601.51 L244.00,601.50 L244.25,601.51 L244.50,601.52 L244.75,601.49 L245.00,601.41 L245.25,601.30 L245.50,601.19 L245.75,601.08 L246.00,600.98 L246.25,600.92 L246.50,600.90 L246.75,600.92 L247.00,600.98 L247.25,601.08 L247.50,601.37 L247.75,601.88 L248.00,601.99 L248.00,602.30 Z M250.50,602.30 L250.50,602.12 L250.75,602.09 L251.00,601.88 L251.25,601.80 L251.50,601.88 L251.75,602.09 L252.00,602.12 L252.00,602.30 Z M256.00,602.30 L256.00,601.91 L256.25,601.73 L256.50,600.88 L256.75,600.20 L257.00,599.78 L257.25,599.36 L257.50,599.02 L257.75,598.78 L258.00,598.70 L258.25,598.78 L258.50,599.02 L258.75,599.36 L259.00,599.78 L259.25,600.20 L259.50,600.88 L259.75,601.73 L260.00,601.91 L260.00,602.30 Z M264.00,602.30 L264.00,602.09 L264.25,602.04 L264.50,601.75 L264.75,601.60 L265.00,601.51 L265.25,601.38 L265.50,601.19 L265.75,600.93 L266.00,600.60 L266.25,600.20 L266.50,599.78 L266.75,599.36 L267.00,599.02 L267.25,598.78 L267.50,598.70 L267.75,598.78 L268.00,599.02 L268.25,599.36 L268.50,599.78 L268.75,600.20 L269.00,600.60 L269.25,600.93 L269.50,601.38 L269.75,601.92 L270.00,602.02 L270.00,602.30 Z M272.00,602.30 L272.00,601.91 L272.25,601.78 L272.50,601.13 L272.75,600.74 L273.00,600.62 L273.25,600.53 L273.50,600.50 L273.75,600.53 L274.00,600.62 L274.25,600.74 L274.50,600.89 L274.75,600.70 L275.00,600.45 L275.25,600.20 L275.50,599.99 L275.75,599.85 L276.00,599.80 L276.25,599.85 L276.50,599.99 L276.75,600.20 L277.00,600.45 L277.25,600.70 L277.50,601.16 L277.75,601.82 L278.00,601.95 L278.00,602.30 Z M283.00,602.30 L283.00,602.12 L283.25,602.09 L283.50,601.88 L283.75,602.09 L284.00,602.12 L284.00,602.30 Z M288.00,602.30 L288.00,602.04 L288.25,601.94 L288.50,601.46 L288.75,601.08 L289.00,600.82 L289.25,600.50 L289.50,600.16 L289.75,599.83 L290.00,599.55 L290.25,599.37 L290.50,599.30 L290.75,599.37 L291.00,599.55 L291.25,599.83 L291.50,600.52 L291.75,601.55 L292.00,601.78 L292.00,602.30 Z M294.00,602.30 L294.00,602.09 L294.25,602.05 L294.50,601.78 L294.75,601.66 L295.00,601.63 L295.25,601.57 L295.50,601.50 L295.75,601.39 L296.00,601.26 L296.25,601.10 L296.50,600.93 L296.75,600.77 L297.00,600.63 L297.25,600.53 L297.50,600.50 L297.75,600.53 L298.00,600.63 L298.25,600.77 L298.50,600.93 L298.75,601.10 L299.00,601.26 L299.25,601.39 L299.50,601.63 L299.75,602.00 L300.00,602.06 L300.00,602.30 Z M308.00,602.30 L308.00,602.12 L308.25,602.09 L308.50,601.88 L308.75,601.80 L309.00,601.80 L309.25,601.80 L309.50,601.88 L309.75,602.09 L310.00,602.12 L310.00,602.30 Z M314.00,602.30 L314.00,602.00 L314.25,601.88 L314.50,601.35 L314.75,601.02 L315.00,600.91 L315.25,600.83 L315.50,600.80 L315.75,600.83 L316.00,600.91 L316.25,601.02 L316.50,601.35 L316.75,601.88 L317.00,602.00 L317.00,602.30 Z M324.00,602.30 L324.00,602.00 L324.25,601.88 L324.50,601.35 L324.75,601.02 L325.00,600.91 L325.25,600.83 L325.50,600.80 L325.75,600.83 L326.00,600.91 L326.25,601.02 L326.50,601.35 L326.75,601.88 L327.00,602.00 L327.00,602.30 Z M335.50,602.30 L335.50,602.12 L335.75,602.09 L336.00,601.88 L336.25,601.80 L336.50,601.88 L336.75,602.09 L337.00,602.12 L337.00,602.30 Z M362.00,602.30 L362.00,602.04 L362.25,601.96 L362.50,601.52 L362.75,601.23 L363.00,601.07 L363.25,600.90 L363.50,600.73 L363.75,600.60 L364.00,600.52 L364.25,600.50 L364.50,600.55 L364.75,600.65 L365.00,600.80 L365.25,600.96 L365.50,601.33 L365.75,601.88 L366.00,601.99 L366.00,602.30 Z M367.50,602.30 L367.50,602.12 L367.75,602.09 L368.00,601.88 L368.25,601.80 L368.50,601.88 L368.75,602.09 L369.00,602.12 L369.00,602.30 Z" fill="#12918f" stroke="none"/>
<path d="M181.20,610.70 L181.20,610.39 L181.45,610.31 L181.70,609.83 L181.95,609.51 L182.21,609.30 L182.46,609.03 L182.71,608.71 L182.96,608.36 L183.21,608.01 L183.46,607.70 L183.71,607.49 L183.96,607.40 L184.22,607.45 L184.47,607.63 L184.72,607.91 L184.97,608.25 L185.22,608.60 L185.47,608.21 L185.72,607.84 L185.97,607.51 L186.23,607.29 L186.48,607.20 L186.73,607.26 L186.98,607.46 L187.23,607.77 L187.48,608.14 L187.73,608.53 L187.98,608.32 L188.24,607.97 L188.49,607.68 L188.74,607.47 L188.99,607.40 L189.24,607.46 L189.49,607.66 L189.74,607.94 L189.99,608.29 L190.25,608.65 L190.50,609.26 L190.75,610.10 L191.00,610.27 L191.00,610.70 Z M196.50,610.70 L196.50,610.52 L196.75,610.49 L197.00,610.28 L197.25,610.20 L197.50,610.28 L197.75,610.49 L198.00,610.52 L198.00,610.70 Z M201.00,610.70 L201.00,610.49 L201.25,610.45 L201.50,610.20 L201.75,610.10 L202.00,610.10 L202.25,610.10 L202.50,610.10 L202.75,610.10 L203.00,610.10 L203.25,610.10 L203.50,610.10 L203.75,610.09 L204.00,610.09 L204.25,610.08 L204.50,610.06 L204.75,610.04 L205.00,610.00 L205.25,609.95 L205.50,609.88 L205.75,609.80 L206.00,609.72 L206.25,609.63 L206.50,609.56 L206.75,609.52 L207.00,609.50 L207.25,609.52 L207.50,609.56 L207.75,609.63 L208.00,609.72 L208.25,609.80 L208.50,609.88 L208.75,609.95 L209.00,610.00 L209.25,610.04 L209.50,610.17 L209.75,610.44 L210.00,610.49 L210.00,610.70 Z M215.50,610.70 L215.50,610.52 L215.75,610.49 L216.00,610.28 L216.25,610.20 L216.50,610.28 L216.75,610.49 L217.00,610.52 L217.00,610.70 Z M220.50,610.70 L220.50,610.52 L220.75,610.49 L221.00,610.28 L221.25,610.20 L221.50,610.28 L221.75,610.49 L222.00,610.52 L222.00,610.70 Z M224.00,610.70 L224.00,610.49 L224.25,610.45 L224.50,610.20 L224.75,610.10 L225.00,610.10 L225.25,610.10 L225.50,610.20 L225.75,610.45 L226.00,610.49 L226.00,610.70 Z M228.50,610.70 L228.50,610.52 L228.75,610.49 L229.00,610.28 L229.25,610.20 L229.50,610.28 L229.75,610.49 L230.00,610.52 L230.00,610.70 Z M232.00,610.70 L232.00,610.47 L232.25,610.42 L232.50,610.08 L232.75,609.85 L233.00,609.69 L233.25,609.48 L233.50,609.22 L233.75,608.90 L234.00,608.56 L234.25,608.23 L234.50,607.95 L234.75,607.77 L235.00,607.70 L235.25,607.77 L235.50,607.95 L235.75,608.23 L236.00,608.56 L236.25,608.90 L236.50,609.22 L236.75,609.48 L237.00,609.69 L237.25,609.85 L237.50,609.95 L237.75,610.02 L238.00,610.06 L238.25,610.08 L238.50,610.09 L238.75,610.10 L239.00,610.10 L239.25,610.10 L239.50,610.10 L239.75,610.10 L240.00,610.10 L240.25,610.10 L240.50,610.20 L240.75,610.45 L241.00,610.49 L241.00,610.70 Z M241.00,610.70 L241.00,610.42 L241.25,610.37 L241.50,610.03 L241.75,609.90 L242.00,609.90 L242.25,609.90 L242.50,609.90 L242.75,609.90 L243.00,609.90 L243.25,609.90 L243.50,609.90 L243.75,609.90 L244.00,609.90 L244.25,609.90 L244.50,609.90 L244.75,609.90 L245.00,609.90 L245.25,609.90 L245.50,610.03 L245.75,610.37 L246.00,610.42 L246.00,610.70 Z M252.00,610.70 L252.00,610.52 L252.25,610.49 L252.50,610.28 L252.75,610.20 L253.00,610.20 L253.25,610.20 L253.50,610.28 L253.75,610.49 L254.00,610.52 L254.00,610.70 Z M256.00,610.70 L256.00,610.49 L256.25,610.45 L256.50,610.20 L256.75,610.10 L257.00,610.10 L257.25,610.10 L257.50,610.10 L257.75,610.10 L258.00,610.10 L258.25,610.10 L258.50,610.10 L258.75,610.10 L259.00,610.10 L259.25,610.10 L259.50,610.20 L259.75,610.45 L260.00,610.49 L260.00,610.70 Z M263.50,610.70 L263.50,610.52 L263.75,610.49 L264.00,610.28 L264.25,610.20 L264.50,610.28 L264.75,610.49 L265.00,610.52 L265.00,610.70 Z M266.50,610.70 L266.50,610.52 L266.75,610.49 L267.00,610.28 L267.25,610.20 L267.50,610.28 L267.75,610.49 L268.00,610.52 L268.00,610.70 Z M270.00,610.70 L270.00,610.52 L270.25,610.49 L270.50,610.28 L270.75,610.20 L271.00,610.20 L271.25,610.20 L271.50,610.20 L271.75,610.20 L272.00,610.20 L272.25,610.20 L272.50,610.20 L272.75,610.20 L273.00,610.20 L273.25,610.20 L273.50,610.28 L273.75,610.49 L274.00,610.52 L274.00,610.70 Z M277.00,610.70 L277.00,610.45 L277.25,610.41 L277.50,610.12 L277.75,610.00 L278.00,610.00 L278.25,610.00 L278.50,610.00 L278.75,610.00 L279.00,610.00 L279.25,610.00 L279.50,610.00 L279.75,610.00 L280.00,610.00 L280.25,610.00 L280.50,610.00 L280.75,610.00 L281.00,610.00 L281.25,610.00 L281.50,610.00 L281.75,610.00 L282.00,610.00 L282.25,610.00 L282.50,610.00 L282.75,610.00 L283.00,610.00 L283.25,610.00 L283.50,610.12 L283.75,610.41 L284.00,610.45 L284.00,610.70 Z M287.50,610.70 L287.50,610.52 L287.75,610.49 L288.00,610.28 L288.25,610.20 L288.50,610.28 L288.75,610.49 L289.00,610.52 L289.00,610.70 Z M292.00,610.70 L292.00,610.37 L292.25,610.26 L292.50,609.72 L292.75,609.40 L293.00,609.29 L293.25,609.22 L293.50,609.20 L293.75,609.22 L294.00,609.29 L294.25,609.40 L294.50,609.52 L294.75,609.65 L295.00,609.77 L295.25,609.87 L295.50,609.95 L295.75,610.01 L296.00,610.04 L296.25,610.07 L296.50,610.08 L296.75,610.09 L297.00,610.10 L297.25,610.10 L297.50,610.20 L297.75,610.45 L298.00,610.49 L298.00,610.70 Z M302.00,610.70 L302.00,610.52 L302.25,610.49 L302.50,610.28 L302.75,610.20 L303.00,610.20 L303.25,610.20 L303.50,610.20 L303.75,610.20 L304.00,610.20 L304.25,610.20 L304.50,610.28 L304.75,610.49 L305.00,610.52 L305.00,610.70 Z M307.50,610.70 L307.50,610.52 L307.75,610.49 L308.00,610.28 L308.25,610.20 L308.50,610.28 L308.75,610.49 L309.00,610.52 L309.00,610.70 Z M314.00,610.70 L314.00,610.49 L314.25,610.45 L314.50,610.20 L314.75,610.10 L315.00,610.10 L315.25,610.10 L315.50,610.10 L315.75,610.10 L316.00,610.10 L316.25,610.10 L316.50,610.10 L316.75,610.10 L317.00,610.10 L317.25,610.10 L317.50,610.10 L317.75,610.10 L318.00,610.10 L318.25,610.10 L318.50,610.10 L318.75,610.10 L319.00,610.10 L319.25,610.10 L319.50,610.10 L319.75,610.10 L320.00,610.10 L320.25,610.10 L320.50,610.10 L320.75,610.10 L321.00,610.10 L321.25,610.10 L321.50,610.20 L321.75,610.45 L322.00,610.49 L322.00,610.70 Z M324.00,610.70 L324.00,610.45 L324.25,610.41 L324.50,610.11 L324.75,610.00 L325.00,609.99 L325.25,609.98 L325.50,609.97 L325.75,609.95 L326.00,609.92 L326.25,609.87 L326.50,609.82 L326.75,609.75 L327.00,609.68 L327.25,609.61 L327.50,609.55 L327.75,609.51 L328.00,609.50 L328.25,609.51 L328.50,609.55 L328.75,609.61 L329.00,609.68 L329.25,609.75 L329.50,609.82 L329.75,609.87 L330.00,609.92 L330.25,609.95 L330.50,610.09 L330.75,610.40 L331.00,610.45 L331.00,610.70 Z M335.00,610.70 L335.00,610.52 L335.25,610.49 L335.50,610.28 L335.75,610.20 L336.00,610.28 L336.25,610.49 L336.50,610.52 L336.50,610.70 Z M339.00,610.70 L339.00,610.52 L339.25,610.49 L339.50,610.28 L339.75,610.20 L340.00,610.20 L340.25,610.20 L340.50,610.28 L340.75,610.49 L341.00,610.52 L341.00,610.70 Z M346.00,610.70 L346.00,610.52 L346.25,610.49 L346.50,610.28 L346.75,610.20 L347.00,610.20 L347.25,610.20 L347.50,610.28 L347.75,610.49 L348.00,610.52 L348.00,610.70 Z M350.00,610.70 L350.00,610.52 L350.25,610.49 L350.50,610.28 L350.75,610.20 L351.00,610.20 L351.25,610.20 L351.50,610.20 L351.75,610.20 L352.00,610.20 L352.25,610.20 L352.50,610.20 L352.75,610.20 L353.00,610.20 L353.25,610.20 L353.50,610.20 L353.75,610.20 L354.00,610.20 L354.25,610.20 L354.50,610.20 L354.75,610.20 L355.00,610.20 L355.25,610.20 L355.50,610.28 L355.75,610.49 L356.00,610.52 L356.00,610.70 Z M358.00,610.70 L358.00,610.49 L358.25,610.45 L358.50,610.19 L358.75,610.07 L359.00,610.04 L359.25,610.01 L359.50,609.95 L359.75,609.87 L360.00,609.77 L360.25,609.65 L360.50,609.52 L360.75,609.40 L361.00,609.29 L361.25,609.22 L361.50,609.20 L361.75,609.22 L362.00,609.29 L362.25,609.40 L362.50,609.72 L362.75,610.26 L363.00,610.37 L363.00,610.70 Z M366.00,610.70 L366.00,610.45 L366.25,610.37 L366.50,609.97 L366.75,609.71 L367.00,609.57 L367.25,609.43 L367.50,609.30 L367.75,609.19 L368.00,609.12 L368.25,609.10 L368.50,609.40 L368.75,610.09 L369.00,610.23 L369.00,610.70 Z M371.00,610.70 L371.00,610.52 L371.25,610.49 L371.50,610.28 L371.75,610.20 L372.00,610.20 L372.25,610.20 L372.50,610.20 L372.75,610.20 L373.00,610.20 L373.25,610.20 L373.50,610.28 L373.75,610.49 L374.00,610.52 L374.00,610.70 Z M376.50,610.70 L376.50,610.52 L376.75,610.49 L377.00,610.28 L377.25,610.49 L377.50,610.52 L377.50,610.70 Z" fill="#12918f" stroke="none"/>
<path d="M181.20,619.00 L181.20,618.79 L181.45,618.75 L181.70,618.50 L181.95,618.40 L182.21,618.40 L182.46,618.39 L182.71,618.38 L182.96,618.37 L183.21,618.34 L183.46,618.30 L183.72,618.25 L183.97,618.19 L184.22,618.11 L184.47,618.03 L184.72,617.94 L184.97,617.87 L185.23,617.82 L185.48,617.80 L185.73,617.81 L185.98,617.86 L186.23,617.93 L186.48,618.01 L186.74,618.10 L186.99,618.18 L187.24,618.24 L187.49,618.30 L187.74,618.34 L187.99,618.36 L188.25,618.38 L188.50,618.49 L188.75,618.75 L189.00,618.79 L189.00,619.00 Z M194.00,619.00 L194.00,618.83 L194.25,618.79 L194.50,618.58 L194.75,618.50 L195.00,618.50 L195.25,618.50 L195.50,618.50 L195.75,618.50 L196.00,618.50 L196.25,618.50 L196.50,618.50 L196.75,618.50 L197.00,618.50 L197.25,618.50 L197.50,618.58 L197.75,618.79 L198.00,618.83 L198.00,619.00 Z M204.00,619.00 L204.00,618.83 L204.25,618.79 L204.50,618.58 L204.75,618.50 L205.00,618.50 L205.25,618.50 L205.50,618.50 L205.75,618.50 L206.00,618.50 L206.25,618.50 L206.50,618.50 L206.75,618.50 L207.00,618.50 L207.25,618.50 L207.50,618.50 L207.75,618.50 L208.00,618.50 L208.25,618.50 L208.50,618.50 L208.75,618.50 L209.00,618.50 L209.25,618.50 L209.50,618.50 L209.75,618.50 L210.00,618.50 L210.25,618.50 L210.50,618.58 L210.75,618.79 L211.00,618.83 L211.00,619.00 Z M215.00,619.00 L215.00,618.75 L215.25,618.71 L215.50,618.42 L215.75,618.30 L216.00,618.30 L216.25,618.30 L216.50,618.30 L216.75,618.30 L217.00,618.30 L217.25,618.30 L217.50,618.30 L217.75,618.30 L218.00,618.30 L218.25,618.30 L218.50,618.42 L218.75,618.71 L219.00,618.75 L219.00,619.00 Z M222.50,619.00 L222.50,618.83 L222.75,618.79 L223.00,618.58 L223.25,618.50 L223.50,618.58 L223.75,618.79 L224.00,618.83 L224.00,619.00 Z M229.00,619.00 L229.00,618.83 L229.25,618.79 L229.50,618.58 L229.75,618.50 L230.00,618.50 L230.25,618.50 L230.50,618.50 L230.75,618.50 L231.00,618.50 L231.25,618.50 L231.50,618.50 L231.75,618.50 L232.00,618.50 L232.25,618.50 L232.50,618.58 L232.75,618.79 L233.00,618.83 L233.00,619.00 Z M233.00,619.00 L233.00,618.70 L233.25,618.60 L233.50,618.13 L233.75,617.85 L234.00,617.77 L234.25,617.72 L234.50,617.70 L234.75,617.72 L235.00,617.77 L235.25,617.85 L235.50,617.95 L235.75,618.05 L236.00,618.14 L236.25,618.22 L236.50,618.28 L236.75,618.33 L237.00,618.36 L237.25,618.38 L237.50,618.39 L237.75,618.39 L238.00,618.40 L238.25,618.40 L238.50,618.40 L238.75,618.40 L239.00,618.40 L239.25,618.40 L239.50,618.40 L239.75,618.40 L240.00,618.40 L240.25,618.40 L240.50,618.40 L240.75,618.40 L241.00,618.40 L241.25,618.40 L241.50,618.40 L241.75,618.40 L242.00,618.40 L242.25,618.40 L242.50,618.40 L242.75,618.40 L243.00,618.40 L243.25,618.39 L243.50,618.39 L243.75,618.38 L244.00,618.36 L244.25,618.33 L244.50,618.28 L244.75,618.22 L245.00,618.14 L245.25,618.05 L245.50,617.95 L245.75,617.85 L246.00,617.77 L246.25,617.72 L246.50,617.70 L246.75,617.72 L247.00,617.77 L247.25,617.85 L247.50,617.95 L247.75,618.05 L248.00,618.14 L248.25,618.22 L248.50,618.28 L248.75,618.33 L249.00,618.36 L249.25,618.38 L249.50,618.49 L249.75,618.75 L250.00,618.79 L250.00,619.00 Z M250.00,619.00 L250.00,618.79 L250.25,618.75 L250.50,618.50 L250.75,618.40 L251.00,618.40 L251.25,618.40 L251.50,618.40 L251.75,618.40 L252.00,618.40 L252.25,618.40 L252.50,618.40 L252.75,618.40 L253.00,618.40 L253.25,618.40 L253.50,618.40 L253.75,618.40 L254.00,618.40 L254.25,618.40 L254.50,618.40 L254.75,618.40 L255.00,618.40 L255.25,618.40 L255.50,618.40 L255.75,618.40 L256.00,618.40 L256.25,618.40 L256.50,618.40 L256.75,618.40 L257.00,618.40 L257.25,618.40 L257.50,618.40 L257.75,618.40 L258.00,618.40 L258.25,618.40 L258.50,618.40 L258.75,618.40 L259.00,618.40 L259.25,618.40 L259.50,618.40 L259.75,618.40 L260.00,618.40 L260.25,618.40 L260.50,618.40 L260.75,618.40 L261.00,618.40 L261.25,618.40 L261.50,618.40 L261.75,618.40 L262.00,618.40 L262.25,618.40 L262.50,618.50 L262.75,618.75 L263.00,618.79 L263.00,619.00 Z M266.50,619.00 L266.50,618.66 L266.75,618.56 L267.00,618.05 L267.25,617.82 L267.50,617.80 L267.75,617.82 L268.00,618.05 L268.25,618.56 L268.50,618.66 L268.50,619.00 Z M271.00,619.00 L271.00,618.79 L271.25,618.75 L271.50,618.48 L271.75,618.37 L272.00,618.34 L272.25,618.29 L272.50,618.23 L272.75,618.14 L273.00,618.03 L273.25,617.90 L273.50,617.76 L273.75,617.62 L274.00,617.51 L274.25,617.43 L274.50,617.40 L274.75,617.43 L275.00,617.51 L275.25,617.62 L275.50,617.76 L275.75,617.90 L276.00,618.03 L276.25,618.14 L276.50,618.23 L276.75,618.29 L277.00,618.34 L277.25,618.37 L277.50,618.38 L277.75,618.39 L278.00,618.40 L278.25,618.40 L278.50,618.40 L278.75,618.40 L279.00,618.40 L279.25,618.40 L279.50,618.50 L279.75,618.75 L280.00,618.79 L280.00,619.00 Z M283.50,619.00 L283.50,618.83 L283.75,618.79 L284.00,618.58 L284.25,618.50 L284.50,618.58 L284.75,618.79 L285.00,618.83 L285.00,619.00 Z M287.00,619.00 L287.00,618.78 L287.25,618.73 L287.50,618.42 L287.75,618.23 L288.00,618.13 L288.25,617.99 L288.50,617.81 L288.75,617.60 L289.00,617.37 L289.25,617.15 L289.50,616.97 L289.75,616.84 L290.00,616.80 L290.25,616.84 L290.50,616.97 L290.75,617.15 L291.00,617.37 L291.25,617.60 L291.50,618.01 L291.75,618.58 L292.00,618.70 L292.00,619.00 Z M294.00,619.00 L294.00,618.79 L294.25,618.75 L294.50,618.50 L294.75,618.40 L295.00,618.39 L295.25,618.39 L295.50,618.38 L295.75,618.36 L296.00,618.33 L296.25,618.30 L296.50,618.25 L296.75,618.20 L297.00,618.14 L297.25,618.09 L297.50,618.04 L297.75,618.01 L298.00,618.00 L298.25,618.01 L298.50,618.04 L298.75,618.09 L299.00,618.14 L299.25,618.20 L299.50,618.25 L299.75,618.30 L300.00,618.33 L300.25,618.36 L300.50,618.38 L300.75,618.39 L301.00,618.39 L301.25,618.40 L301.50,618.40 L301.75,618.40 L302.00,618.40 L302.25,618.40 L302.50,618.50 L302.75,618.75 L303.00,618.79 L303.00,619.00 Z M307.00,619.00 L307.00,618.79 L307.25,618.75 L307.50,618.50 L307.75,618.40 L308.00,618.40 L308.25,618.40 L308.50,618.40 L308.75,618.40 L309.00,618.40 L309.25,618.40 L309.50,618.40 L309.75,618.40 L310.00,618.40 L310.25,618.40 L310.50,618.50 L310.75,618.75 L311.00,618.79 L311.00,619.00 Z M314.50,619.00 L314.50,618.83 L314.75,618.79 L315.00,618.58 L315.25,618.50 L315.50,618.58 L315.75,618.79 L316.00,618.83 L316.00,619.00 Z M325.00,619.00 L325.00,618.83 L325.25,618.79 L325.50,618.58 L325.75,618.50 L326.00,618.50 L326.25,618.50 L326.50,618.50 L326.75,618.50 L327.00,618.50 L327.25,618.50 L327.50,618.50 L327.75,618.50 L328.00,618.50 L328.25,618.50 L328.50,618.50 L328.75,618.50 L329.00,618.50 L329.25,618.50 L329.50,618.50 L329.75,618.50 L330.00,618.50 L330.25,618.50 L330.50,618.58 L330.75,618.79 L331.00,618.83 L331.00,619.00 Z M332.00,619.00 L332.00,618.83 L332.25,618.79 L332.50,618.58 L332.75,618.79 L333.00,618.83 L333.00,619.00 Z M340.00,619.00 L340.00,618.83 L340.25,618.79 L340.50,618.58 L340.75,618.50 L341.00,618.50 L341.25,618.50 L341.50,618.50 L341.75,618.50 L342.00,618.50 L342.25,618.50 L342.50,618.50 L342.75,618.50 L343.00,618.50 L343.25,618.50 L343.50,618.58 L343.75,618.79 L344.00,618.83 L344.00,619.00 Z M346.00,619.00 L346.00,618.83 L346.25,618.79 L346.50,618.58 L346.75,618.79 L347.00,618.83 L347.00,619.00 Z M352.50,619.00 L352.50,618.83 L352.75,618.79 L353.00,618.58 L353.25,618.50 L353.50,618.58 L353.75,618.79 L354.00,618.83 L354.00,619.00 Z M358.00,619.00 L358.00,618.79 L358.25,618.75 L358.50,618.50 L358.75,618.40 L359.00,618.40 L359.25,618.40 L359.50,618.40 L359.75,618.40 L360.00,618.40 L360.25,618.40 L360.50,618.40 L360.75,618.40 L361.00,618.39 L361.25,618.38 L361.50,618.36 L361.75,618.34 L362.00,618.30 L362.25,618.23 L362.50,618.15 L362.75,618.05 L363.00,617.93 L363.25,617.80 L363.50,617.68 L363.75,617.58 L364.00,617.52 L364.25,617.50 L364.50,617.54 L364.75,617.61 L365.00,617.72 L365.25,617.85 L365.50,617.98 L365.75,618.09 L366.00,618.19 L366.25,618.26 L366.50,618.31 L366.75,618.35 L367.00,618.37 L367.25,618.39 L367.50,618.49 L367.75,618.75 L368.00,618.79 L368.00,619.00 Z M372.50,619.00 L372.50,618.83 L372.75,618.79 L373.00,618.58 L373.25,618.50 L373.50,618.58 L373.75,618.79 L374.00,618.83 L374.00,619.00 Z" fill="#111111" stroke="none"/>
<path d="M181.20,627.10 L181.20,626.89 L181.45,626.84 L181.70,626.55 L181.95,626.40 L182.21,626.34 L182.46,626.23 L182.71,626.09 L182.96,625.91 L183.21,625.69 L183.46,625.45 L183.71,625.21 L183.97,625.00 L184.22,624.86 L184.47,624.80 L184.72,624.84 L184.97,624.96 L185.22,625.15 L185.47,625.39 L185.73,625.63 L185.98,625.86 L186.23,626.05 L186.48,626.18 L186.73,626.06 L186.98,625.93 L187.23,625.81 L187.49,625.70 L187.74,625.63 L187.99,625.60 L188.24,625.62 L188.49,625.69 L188.74,625.80 L188.99,625.92 L189.25,626.05 L189.50,626.32 L189.75,626.75 L190.00,626.84 L190.00,627.10 Z M191.00,627.10 L191.00,626.92 L191.25,626.89 L191.50,626.68 L191.75,626.60 L192.00,626.60 L192.25,626.60 L192.50,626.60 L192.75,626.60 L193.00,626.60 L193.25,626.60 L193.50,626.68 L193.75,626.89 L194.00,626.92 L194.00,627.10 Z M197.50,627.10 L197.50,626.92 L197.75,626.89 L198.00,626.68 L198.25,626.60 L198.50,626.68 L198.75,626.89 L199.00,626.92 L199.00,627.10 Z M203.00,627.10 L203.00,626.89 L203.25,626.85 L203.50,626.58 L203.75,626.46 L204.00,626.43 L204.25,626.37 L204.50,626.30 L204.75,626.19 L205.00,626.06 L205.25,625.90 L205.50,625.73 L205.75,625.57 L206.00,625.43 L206.25,625.33 L206.50,625.30 L206.75,625.33 L207.00,625.43 L207.25,625.57 L207.50,625.73 L207.75,625.90 L208.00,626.06 L208.25,626.19 L208.50,626.30 L208.75,626.37 L209.00,626.43 L209.25,626.46 L209.50,626.58 L209.75,626.85 L210.00,626.89 L210.00,627.10 Z M216.00,627.10 L216.00,626.89 L216.25,626.85 L216.50,626.60 L216.75,626.50 L217.00,626.50 L217.25,626.50 L217.50,626.50 L217.75,626.50 L218.00,626.50 L218.25,626.50 L218.50,626.50 L218.75,626.50 L219.00,626.50 L219.25,626.50 L219.50,626.50 L219.75,626.50 L220.00,626.50 L220.25,626.50 L220.50,626.50 L220.75,626.50 L221.00,626.50 L221.25,626.50 L221.50,626.50 L221.75,626.50 L222.00,626.50 L222.25,626.50 L222.50,626.50 L222.75,626.50 L223.00,626.50 L223.25,626.50 L223.50,626.50 L223.75,626.50 L224.00,626.50 L224.25,626.50 L224.50,626.60 L224.75,626.85 L225.00,626.89 L225.00,627.10 Z M229.00,627.10 L229.00,626.89 L229.25,626.85 L229.50,626.60 L229.75,626.50 L230.00,626.50 L230.25,626.50 L230.50,626.50 L230.75,626.50 L231.00,626.50 L231.25,626.50 L231.50,626.50 L231.75,626.50 L232.00,626.50 L232.25,626.50 L232.50,626.50 L232.75,626.50 L233.00,626.50 L233.25,626.50 L233.50,626.50 L233.75,626.50 L234.00,626.50 L234.25,626.50 L234.50,626.50 L234.75,626.50 L235.00,626.50 L235.25,626.50 L235.50,626.50 L235.75,626.50 L236.00,626.50 L236.25,626.50 L236.50,626.50 L236.75,626.50 L237.00,626.50 L237.25,626.50 L237.50,626.60 L237.75,626.85 L238.00,626.89 L238.00,627.10 Z M241.00,627.10 L241.00,626.85 L241.25,626.81 L241.50,626.52 L241.75,626.40 L242.00,626.40 L242.25,626.40 L242.50,626.40 L242.75,626.40 L243.00,626.40 L243.25,626.40 L243.50,626.40 L243.75,626.40 L244.00,626.40 L244.25,626.40 L244.50,626.40 L244.75,626.40 L245.00,626.40 L245.25,626.40 L245.50,626.40 L245.75,626.40 L246.00,626.40 L246.25,626.40 L246.50,626.40 L246.75,626.40 L247.00,626.40 L247.25,626.40 L247.50,626.40 L247.75,626.40 L248.00,626.40 L248.25,626.40 L248.50,626.40 L248.75,626.40 L249.00,626.40 L249.25,626.40 L249.50,626.40 L249.75,626.40 L250.00,626.40 L250.25,626.40 L250.50,626.40 L250.75,626.40 L251.00,626.40 L251.25,626.40 L251.50,626.40 L251.75,626.40 L252.00,626.40 L252.25,626.40 L252.50,626.40 L252.75,626.40 L253.00,626.40 L253.25,626.40 L253.50,626.52 L253.75,626.81 L254.00,626.85 L254.00,627.10 Z M256.00,627.10 L256.00,626.89 L256.25,626.85 L256.50,626.60 L256.75,626.50 L257.00,626.50 L257.25,626.50 L257.50,626.50 L257.75,626.50 L258.00,626.50 L258.25,626.50 L258.50,626.50 L258.75,626.50 L259.00,626.50 L259.25,626.50 L259.50,626.50 L259.75,626.50 L260.00,626.50 L260.25,626.50 L260.50,626.50 L260.75,626.50 L261.00,626.50 L261.25,626.50 L261.50,626.50 L261.75,626.50 L262.00,626.50 L262.25,626.50 L262.50,626.50 L262.75,626.50 L263.00,626.50 L263.25,626.50 L263.50,626.50 L263.75,626.50 L264.00,626.50 L264.25,626.50 L264.50,626.50 L264.75,626.50 L265.00,626.50 L265.25,626.50 L265.50,626.60 L265.75,626.85 L266.00,626.89 L266.00,627.10 Z M266.00,627.10 L266.00,626.85 L266.25,626.81 L266.50,626.52 L266.75,626.40 L267.00,626.40 L267.25,626.40 L267.50,626.40 L267.75,626.40 L268.00,626.40 L268.25,626.40 L268.50,626.40 L268.75,626.40 L269.00,626.40 L269.25,626.40 L269.50,626.40 L269.75,626.40 L270.00,626.39 L270.25,626.38 L270.50,626.37 L270.75,626.35 L271.00,626.32 L271.25,626.27 L271.50,626.22 L271.75,626.15 L272.00,626.08 L272.25,626.01 L272.50,625.95 L272.75,625.91 L273.00,625.90 L273.25,625.91 L273.50,625.95 L273.75,626.01 L274.00,626.08 L274.25,626.15 L274.50,626.22 L274.75,626.27 L275.00,626.32 L275.25,626.35 L275.50,626.37 L275.75,626.38 L276.00,626.39 L276.25,626.40 L276.50,626.40 L276.75,626.40 L277.00,626.40 L277.25,626.40 L277.50,626.40 L277.75,626.40 L278.00,626.40 L278.25,626.40 L278.50,626.40 L278.75,626.40 L279.00,626.40 L279.25,626.40 L279.50,626.40 L279.75,626.40 L280.00,626.40 L280.25,626.40 L280.50,626.40 L280.75,626.40 L281.00,626.40 L281.25,626.40 L281.50,626.40 L281.75,626.40 L282.00,626.40 L282.25,626.40 L282.50,626.52 L282.75,626.81 L283.00,626.85 L283.00,627.10 Z M284.00,627.10 L284.00,626.85 L284.25,626.81 L284.50,626.52 L284.75,626.40 L285.00,626.40 L285.25,626.40 L285.50,626.40 L285.75,626.40 L286.00,626.40 L286.25,626.40 L286.50,626.40 L286.75,626.40 L287.00,626.40 L287.25,626.40 L287.50,626.40 L287.75,626.40 L288.00,626.40 L288.25,626.40 L288.50,626.40 L288.75,626.40 L289.00,626.40 L289.25,626.40 L289.50,626.40 L289.75,626.40 L290.00,626.40 L290.25,626.40 L290.50,626.40 L290.75,626.40 L291.00,626.40 L291.25,626.40 L291.50,626.52 L291.75,626.81 L292.00,626.85 L292.00,627.10 Z M294.00,627.10 L294.00,626.85 L294.25,626.81 L294.50,626.52 L294.75,626.40 L295.00,626.40 L295.25,626.40 L295.50,626.40 L295.75,626.40 L296.00,626.40 L296.25,626.40 L296.50,626.40 L296.75,626.40 L297.00,626.40 L297.25,626.40 L297.50,626.40 L297.75,626.40 L298.00,626.40 L298.25,626.40 L298.50,626.40 L298.75,626.40 L299.00,626.40 L299.25,626.40 L299.50,626.40 L299.75,626.40 L300.00,626.40 L300.25,626.40 L300.50,626.40 L300.75,626.40 L301.00,626.40 L301.25,626.40 L301.50,626.40 L301.75,626.40 L302.00,626.40 L302.25,626.40 L302.50,626.52 L302.75,626.81 L303.00,626.85 L303.00,627.10 Z M305.00,627.10 L305.00,626.92 L305.25,626.89 L305.50,626.68 L305.75,626.89 L306.00,626.92 L306.00,627.10 Z M308.00,627.10 L308.00,626.92 L308.25,626.89 L308.50,626.68 L308.75,626.60 L309.00,626.60 L309.25,626.60 L309.50,626.68 L309.75,626.89 L310.00,626.92 L310.00,627.10 Z M314.00,627.10 L314.00,626.77 L314.25,626.66 L314.50,626.12 L314.75,625.80 L315.00,625.69 L315.25,625.62 L315.50,625.60 L315.75,625.62 L316.00,625.69 L316.25,625.80 L316.50,625.92 L316.75,626.05 L317.00,626.17 L317.25,626.27 L317.50,626.47 L317.75,626.81 L318.00,626.87 L318.00,627.10 Z M320.00,627.10 L320.00,626.92 L320.25,626.89 L320.50,626.68 L320.75,626.89 L321.00,626.92 L321.00,627.10 Z M324.00,627.10 L324.00,626.92 L324.25,626.89 L324.50,626.68 L324.75,626.60 L325.00,626.60 L325.25,626.60 L325.50,626.60 L325.75,626.60 L326.00,626.60 L326.25,626.60 L326.50,626.60 L326.75,626.60 L327.00,626.60 L327.25,626.60 L327.50,626.60 L327.75,626.60 L328.00,626.60 L328.25,626.60 L328.50,626.60 L328.75,626.60 L329.00,626.60 L329.25,626.60 L329.50,626.60 L329.75,626.60 L330.00,626.60 L330.25,626.60 L330.50,626.60 L330.75,626.60 L331.00,626.60 L331.25,626.60 L331.50,626.60 L331.75,626.60 L332.00,626.60 L332.25,626.60 L332.50,626.60 L332.75,626.60 L333.00,626.60 L333.25,626.60 L333.50,626.60 L333.75,626.60 L334.00,626.60 L334.25,626.60 L334.50,626.68 L334.75,626.89 L335.00,626.92 L335.00,627.10 Z M337.00,627.10 L337.00,626.89 L337.25,626.85 L337.50,626.60 L337.75,626.50 L338.00,626.50 L338.25,626.50 L338.50,626.50 L338.75,626.50 L339.00,626.50 L339.25,626.50 L339.50,626.50 L339.75,626.50 L340.00,626.50 L340.25,626.50 L340.50,626.50 L340.75,626.50 L341.00,626.50 L341.25,626.50 L341.50,626.60 L341.75,626.85 L342.00,626.89 L342.00,627.10 Z M345.00,627.10 L345.00,626.92 L345.25,626.89 L345.50,626.68 L345.75,626.89 L346.00,626.92 L346.00,627.10 Z M350.00,627.10 L350.00,626.92 L350.25,626.89 L350.50,626.68 L350.75,626.60 L351.00,626.60 L351.25,626.60 L351.50,626.60 L351.75,626.60 L352.00,626.60 L352.25,626.60 L352.50,626.68 L352.75,626.89 L353.00,626.92 L353.00,627.10 Z M360.00,627.10 L360.00,626.82 L360.25,626.77 L360.50,626.43 L360.75,626.29 L361.00,626.29 L361.25,626.28 L361.50,626.26 L361.75,626.23 L362.00,626.18 L362.25,626.12 L362.50,626.04 L362.75,625.95 L363.00,625.85 L363.25,625.75 L363.50,625.67 L363.75,625.62 L364.00,625.60 L364.25,625.62 L364.50,625.67 L364.75,625.75 L365.00,625.85 L365.25,625.95 L365.50,626.04 L365.75,626.12 L366.00,626.18 L366.25,626.23 L366.50,626.26 L366.75,626.28 L367.00,626.29 L367.25,626.29 L367.50,626.30 L367.75,626.30 L368.00,626.30 L368.25,626.30 L368.50,626.30 L368.75,626.30 L369.00,626.30 L369.25,626.30 L369.50,626.43 L369.75,626.77 L370.00,626.82 L370.00,627.10 Z M373.00,627.10 L373.00,626.92 L373.25,626.89 L373.50,626.68 L373.75,626.60 L374.00,626.60 L374.25,626.60 L374.50,626.60 L374.75,626.60 L375.00,626.60 L375.25,626.60 L375.50,626.60 L375.75,626.60 L376.00,626.60 L376.25,626.60 L376.50,626.68 L376.75,626.89 L377.00,626.92 L377.00,627.10 Z" fill="#111111" stroke="none"/>
<path d="M181.20,635.20 L181.20,634.89 L181.45,634.81 L181.70,634.37 L181.95,634.15 L182.21,634.10 L182.46,634.05 L182.71,634.01 L182.96,634.00 L183.21,634.01 L183.46,634.04 L183.71,634.08 L183.97,634.14 L184.22,634.19 L184.47,634.25 L184.72,634.29 L184.97,634.33 L185.22,634.36 L185.47,634.37 L185.73,634.34 L185.98,634.30 L186.23,634.23 L186.48,634.12 L186.73,633.98 L186.98,633.79 L187.23,633.57 L187.49,633.32 L187.74,633.09 L187.99,632.89 L188.24,632.75 L188.49,632.70 L188.74,632.74 L188.99,632.87 L189.25,633.07 L189.50,633.61 L189.75,634.51 L190.00,634.70 L190.00,635.20 Z M196.50,635.20 L196.50,635.02 L196.75,634.99 L197.00,634.78 L197.25,634.70 L197.50,634.78 L197.75,634.99 L198.00,635.02 L198.00,635.20 Z M201.00,635.20 L201.00,634.99 L201.25,634.95 L201.50,634.70 L201.75,634.60 L202.00,634.60 L202.25,634.60 L202.50,634.60 L202.75,634.60 L203.00,634.60 L203.25,634.60 L203.50,634.59 L203.75,634.59 L204.00,634.58 L204.25,634.56 L204.50,634.53 L204.75,634.50 L205.00,634.45 L205.25,634.40 L205.50,634.34 L205.75,634.29 L206.00,634.24 L206.25,634.21 L206.50,634.20 L206.75,634.21 L207.00,634.24 L207.25,634.29 L207.50,634.34 L207.75,634.40 L208.00,634.45 L208.25,634.50 L208.50,634.53 L208.75,634.56 L209.00,634.58 L209.25,634.59 L209.50,634.59 L209.75,634.60 L210.00,634.60 L210.25,634.60 L210.50,634.60 L210.75,634.60 L211.00,634.60 L211.25,634.60 L211.50,634.60 L211.75,634.60 L212.00,634.60 L212.25,634.60 L212.50,634.60 L212.75,634.60 L213.00,634.60 L213.25,634.60 L213.50,634.60 L213.75,634.60 L214.00,634.60 L214.25,634.60 L214.50,634.70 L214.75,634.95 L215.00,634.99 L215.00,635.20 Z M218.00,635.20 L218.00,634.95 L218.25,634.91 L218.50,634.62 L218.75,634.50 L219.00,634.50 L219.25,634.50 L219.50,634.50 L219.75,634.50 L220.00,634.50 L220.25,634.50 L220.50,634.50 L220.75,634.50 L221.00,634.50 L221.25,634.50 L221.50,634.50 L221.75,634.50 L222.00,634.50 L222.25,634.50 L222.50,634.50 L222.75,634.50 L223.00,634.50 L223.25,634.50 L223.50,634.50 L223.75,634.50 L224.00,634.50 L224.25,634.50 L224.50,634.62 L224.75,634.91 L225.00,634.95 L225.00,635.20 Z M227.00,635.20 L227.00,635.02 L227.25,634.99 L227.50,634.78 L227.75,634.70 L228.00,634.70 L228.25,634.70 L228.50,634.78 L228.75,634.99 L229.00,635.02 L229.00,635.20 Z M232.00,635.20 L232.00,634.99 L232.25,634.95 L232.50,634.70 L232.75,634.60 L233.00,634.60 L233.25,634.60 L233.50,634.60 L233.75,634.60 L234.00,634.60 L234.25,634.60 L234.50,634.60 L234.75,634.60 L235.00,634.60 L235.25,634.60 L235.50,634.70 L235.75,634.95 L236.00,634.99 L236.00,635.20 Z M241.00,635.20 L241.00,634.99 L241.25,634.95 L241.50,634.70 L241.75,634.60 L242.00,634.60 L242.25,634.60 L242.50,634.60 L242.75,634.60 L243.00,634.60 L243.25,634.60 L243.50,634.60 L243.75,634.60 L244.00,634.60 L244.25,634.60 L244.50,634.60 L244.75,634.60 L245.00,634.60 L245.25,634.60 L245.50,634.60 L245.75,634.60 L246.00,634.60 L246.25,634.60 L246.50,634.60 L246.75,634.60 L247.00,634.60 L247.25,634.60 L247.50,634.70 L247.75,634.95 L248.00,634.99 L248.00,635.20 Z M250.00,635.20 L250.00,634.86 L250.25,634.74 L250.50,634.17 L250.75,633.82 L251.00,633.71 L251.25,633.63 L251.50,633.60 L251.75,633.63 L252.00,633.71 L252.25,633.82 L252.50,633.96 L252.75,634.10 L253.00,634.23 L253.25,634.34 L253.50,634.43 L253.75,634.49 L254.00,634.54 L254.25,634.57 L254.50,634.58 L254.75,634.59 L255.00,634.60 L255.25,634.60 L255.50,634.60 L255.75,634.60 L256.00,634.60 L256.25,634.60 L256.50,634.60 L256.75,634.60 L257.00,634.60 L257.25,634.60 L257.50,634.70 L257.75,634.95 L258.00,634.99 L258.00,635.20 Z M258.00,635.20 L258.00,634.99 L258.25,634.95 L258.50,634.70 L258.75,634.60 L259.00,634.60 L259.25,634.60 L259.50,634.60 L259.75,634.60 L260.00,634.60 L260.25,634.60 L260.50,634.60 L260.75,634.60 L261.00,634.60 L261.25,634.60 L261.50,634.60 L261.75,634.60 L262.00,634.60 L262.25,634.60 L262.50,634.60 L262.75,634.60 L263.00,634.60 L263.25,634.60 L263.50,634.60 L263.75,634.60 L264.00,634.60 L264.25,634.60 L264.50,634.60 L264.75,634.60 L265.00,634.60 L265.25,634.60 L265.50,634.60 L265.75,634.60 L266.00,634.60 L266.25,634.60 L266.50,634.60 L266.75,634.60 L267.00,634.60 L267.25,634.60 L267.50,634.70 L267.75,634.95 L268.00,634.99 L268.00,635.20 Z M270.00,635.20 L270.00,634.95 L270.25,634.91 L270.50,634.62 L270.75,634.50 L271.00,634.50 L271.25,634.50 L271.50,634.50 L271.75,634.50 L272.00,634.50 L272.25,634.50 L272.50,634.50 L272.75,634.50 L273.00,634.50 L273.25,634.50 L273.50,634.50 L273.75,634.50 L274.00,634.50 L274.25,634.50 L274.50,634.50 L274.75,634.50 L275.00,634.50 L275.25,634.50 L275.50,634.50 L275.75,634.50 L276.00,634.50 L276.25,634.50 L276.50,634.50 L276.75,634.50 L277.00,634.50 L277.25,634.50 L277.50,634.50 L277.75,634.50 L278.00,634.50 L278.25,634.50 L278.50,634.50 L278.75,634.50 L279.00,634.50 L279.25,634.50 L279.50,634.50 L279.75,634.50 L280.00,634.50 L280.25,634.50 L280.50,634.62 L280.75,634.91 L281.00,634.95 L281.00,635.20 Z M283.00,635.20 L283.00,634.95 L283.25,634.91 L283.50,634.62 L283.75,634.50 L284.00,634.50 L284.25,634.50 L284.50,634.50 L284.75,634.50 L285.00,634.50 L285.25,634.50 L285.50,634.50 L285.75,634.50 L286.00,634.50 L286.25,634.50 L286.50,634.50 L286.75,634.50 L287.00,634.50 L287.25,634.50 L287.50,634.50 L287.75,634.50 L288.00,634.50 L288.25,634.50 L288.50,634.50 L288.75,634.50 L289.00,634.50 L289.25,634.50 L289.50,634.50 L289.75,634.50 L290.00,634.50 L290.25,634.50 L290.50,634.62 L290.75,634.91 L291.00,634.95 L291.00,635.20 Z M293.00,635.20 L293.00,634.95 L293.25,634.91 L293.50,634.62 L293.75,634.50 L294.00,634.50 L294.25,634.50 L294.50,634.50 L294.75,634.50 L295.00,634.50 L295.25,634.50 L295.50,634.50 L295.75,634.50 L296.00,634.50 L296.25,634.50 L296.50,634.50 L296.75,634.50 L297.00,634.50 L297.25,634.50 L297.50,634.50 L297.75,634.50 L298.00,634.50 L298.25,634.50 L298.50,634.50 L298.75,634.50 L299.00,634.50 L299.25,634.50 L299.50,634.62 L299.75,634.91 L300.00,634.95 L300.00,635.20 Z M303.50,635.20 L303.50,635.02 L303.75,634.99 L304.00,634.78 L304.25,634.70 L304.50,634.78 L304.75,634.99 L305.00,635.02 L305.00,635.20 Z M308.50,635.20 L308.50,635.02 L308.75,634.99 L309.00,634.78 L309.25,634.70 L309.50,634.78 L309.75,634.99 L310.00,635.02 L310.00,635.20 Z M314.00,635.20 L314.00,634.95 L314.25,634.89 L314.50,634.52 L314.75,634.30 L315.00,634.22 L315.25,634.13 L315.50,634.06 L315.75,634.02 L316.00,634.00 L316.25,634.02 L316.50,634.06 L316.75,634.13 L317.00,634.22 L317.25,634.30 L317.50,634.38 L317.75,634.45 L318.00,634.50 L318.25,634.54 L318.50,634.67 L318.75,634.94 L319.00,634.99 L319.00,635.20 Z M324.00,635.20 L324.00,635.02 L324.25,634.99 L324.50,634.78 L324.75,634.70 L325.00,634.70 L325.25,634.70 L325.50,634.70 L325.75,634.70 L326.00,634.70 L326.25,634.70 L326.50,634.70 L326.75,634.70 L327.00,634.70 L327.25,634.70 L327.50,634.70 L327.75,634.70 L328.00,634.70 L328.25,634.70 L328.50,634.70 L328.75,634.70 L329.00,634.70 L329.25,634.70 L329.50,634.70 L329.75,634.70 L330.00,634.70 L330.25,634.70 L330.50,634.70 L330.75,634.70 L331.00,634.70 L331.25,634.70 L331.50,634.70 L331.75,634.70 L332.00,634.70 L332.25,634.70 L332.50,634.78 L332.75,634.99 L333.00,635.02 L333.00,635.20 Z M335.00,635.20 L335.00,635.02 L335.25,634.99 L335.50,634.78 L335.75,634.70 L336.00,634.70 L336.25,634.70 L336.50,634.78 L336.75,634.99 L337.00,635.02 L337.00,635.20 Z M345.00,635.20 L345.00,634.90 L345.25,634.80 L345.50,634.33 L345.75,634.05 L346.00,633.97 L346.25,633.92 L346.50,633.90 L346.75,633.92 L347.00,633.97 L347.25,634.05 L347.50,634.33 L347.75,634.80 L348.00,634.90 L348.00,635.20 Z M352.00,635.20 L352.00,635.02 L352.25,634.99 L352.50,634.78 L352.75,634.70 L353.00,634.70 L353.25,634.70 L353.50,634.70 L353.75,634.70 L354.00,634.70 L354.25,634.70 L354.50,634.70 L354.75,634.70 L355.00,634.70 L355.25,634.70 L355.50,634.70 L355.75,634.70 L356.00,634.70 L356.25,634.70 L356.50,634.78 L356.75,634.99 L357.00,635.02 L357.00,635.20 Z M360.00,635.20 L360.00,634.99 L360.25,634.95 L360.50,634.70 L360.75,634.60 L361.00,634.60 L361.25,634.60 L361.50,634.60 L361.75,634.60 L362.00,634.60 L362.25,634.60 L362.50,634.60 L362.75,634.60 L363.00,634.60 L363.25,634.60 L363.50,634.60 L363.75,634.60 L364.00,634.60 L364.25,634.60 L364.50,634.60 L364.75,634.60 L365.00,634.60 L365.25,634.60 L365.50,634.60 L365.75,634.60 L366.00,634.60 L366.25,634.60 L366.50,634.60 L366.75,634.60 L367.00,634.60 L367.25,634.60 L367.50,634.60 L367.75,634.60 L368.00,634.60 L368.25,634.60 L368.50,634.60 L368.75,634.60 L369.00,634.60 L369.25,634.60 L369.50,634.60 L369.75,634.60 L370.00,634.60 L370.25,634.60 L370.50,634.60 L370.75,634.60 L371.00,634.60 L371.25,634.60 L371.50,634.60 L371.75,634.60 L372.00,634.60 L372.25,634.60 L372.50,634.60 L372.75,634.60 L373.00,634.60 L373.25,634.60 L373.50,634.70 L373.75,634.95 L374.00,634.99 L374.00,635.20 Z" fill="#111111" stroke="none"/>
<line x1="415.00" y1="558.50" x2="509.00" y2="558.50" stroke="#cfcfcf" stroke-width="0.6" />
<rect x="415.00" y="560.90" width="94.00" height="2.20" fill="#f2f2f2" stroke="#bdbdbd" stroke-width="0.4"/>
<rect x="478.00" y="560.90" width="31.00" height="2.20" fill="#c9c9c9" />
<rect x="436.30" y="560.80" width="6.00" height="2.40" fill="#e23b34" />
<rect x="446.40" y="560.80" width="5.00" height="2.40" fill="#e23b34" />
<rect x="472.20" y="560.80" width="1.00" height="2.40" fill="#e23b34" />
<rect x="419.00" y="563.80" width="4.50" height="0.70" fill="#b5b5b5" />
<rect x="430.00" y="563.80" width="4.50" height="0.70" fill="#b5b5b5" />
<rect x="442.00" y="563.80" width="4.50" height="0.70" fill="#b5b5b5" />
<rect x="455.00" y="563.80" width="4.50" height="0.70" fill="#b5b5b5" />
<rect x="466.00" y="563.80" width="4.50" height="0.70" fill="#b5b5b5" />
<rect x="478.00" y="563.80" width="4.50" height="0.70" fill="#b5b5b5" />
<rect x="491.00" y="563.80" width="4.50" height="0.70" fill="#b5b5b5" />
<rect x="502.00" y="563.80" width="4.50" height="0.70" fill="#b5b5b5" />
<line x1="415.00" y1="570.20" x2="509.00" y2="570.20" stroke="#c4c4c4" stroke-width="0.6" />
<rect x="452.50" y="569.40" width="6.00" height="1.50" fill="#ffffff" />
<rect x="453.00" y="569.80" width="5.00" height="0.80" fill="#9a9a9a" />
<rect x="421.00" y="572.70" width="6.00" height="0.80" fill="#bdbdbd" />
<line x1="424.00" y1="574.60" x2="424.00" y2="575.60" stroke="#aaa" stroke-width="0.5" />
<rect x="439.50" y="572.70" width="6.00" height="0.80" fill="#bdbdbd" />
<line x1="442.50" y1="574.60" x2="442.50" y2="575.60" stroke="#aaa" stroke-width="0.5" />
<rect x="458.50" y="572.70" width="6.00" height="0.80" fill="#bdbdbd" />
<line x1="461.50" y1="574.60" x2="461.50" y2="575.60" stroke="#aaa" stroke-width="0.5" />
<rect x="477.70" y="572.70" width="6.00" height="0.80" fill="#bdbdbd" />
<line x1="480.70" y1="574.60" x2="480.70" y2="575.60" stroke="#aaa" stroke-width="0.5" />
<rect x="495.90" y="572.70" width="6.00" height="0.80" fill="#bdbdbd" />
<line x1="498.90" y1="574.60" x2="498.90" y2="575.60" stroke="#aaa" stroke-width="0.5" />
<line x1="415.00" y1="576.60" x2="509.00" y2="576.60" stroke="#d0d0d0" stroke-width="0.7" />
<line x1="415.00" y1="577.70" x2="509.00" y2="577.70" stroke="#9d9d9d" stroke-width="1.0" />
<rect x="450.40" y="578.70" width="24.60" height="2.10" fill="#1f2a9c" />
<rect x="463.50" y="578.70" width="11.50" height="2.10" fill="#1f2a9c" />
<rect x="478.30" y="578.70" width="20.60" height="2.10" fill="#1f2a9c" />
<rect x="460.50" y="584.30" width="6.00" height="0.90" fill="#a8a8a8" />
<rect x="485.80" y="584.30" width="6.00" height="0.90" fill="#a8a8a8" />
<line x1="415.00" y1="586.40" x2="509.00" y2="586.40" stroke="#e3e3e3" stroke-width="0.6" />
<rect x="463.50" y="578.30" width="11.50" height="2.90" fill="#1f2a9c" />
<line x1="415.00" y1="565.80" x2="509.00" y2="565.80" stroke="#d6d6d6" stroke-width="0.5" />
<text x="410.20" y="594.60" font-size="6.3" text-anchor="end" fill="#231f20" style="stroke-width:0.2px" textLength="20.50" lengthAdjust="spacingAndGlyphs" >WT1 #1</text>
<text x="410.20" y="602.80" font-size="6.3" text-anchor="end" fill="#231f20" style="stroke-width:0.2px" textLength="20.50" lengthAdjust="spacingAndGlyphs" >WT1 #2</text>
<text x="410.20" y="611.20" font-size="6.3" text-anchor="end" fill="#231f20" style="stroke-width:0.2px" textLength="20.50" lengthAdjust="spacingAndGlyphs" >WT1 #3</text>
<text x="410.20" y="619.60" font-size="6.3" text-anchor="end" fill="#231f20" style="stroke-width:0.2px" textLength="21.90" lengthAdjust="spacingAndGlyphs" >CTRL #1</text>
<text x="410.20" y="627.50" font-size="6.3" text-anchor="end" fill="#231f20" style="stroke-width:0.2px" textLength="21.90" lengthAdjust="spacingAndGlyphs" >CTRL #2</text>
<text x="410.20" y="635.80" font-size="6.3" text-anchor="end" fill="#231f20" style="stroke-width:0.2px" textLength="21.90" lengthAdjust="spacingAndGlyphs" >CTRL #3</text>
<path d="M414.50,594.10 L414.50,593.89 L414.75,593.85 L415.00,593.60 L415.25,593.50 L415.50,593.50 L415.75,593.50 L416.00,593.50 L416.25,593.50 L416.50,593.49 L416.75,593.48 L417.00,593.45 L417.25,593.41 L417.50,593.34 L417.75,593.23 L418.00,593.10 L418.25,592.93 L418.50,592.75 L418.75,592.58 L419.00,592.46 L419.25,592.40 L419.50,592.43 L419.75,592.52 L420.00,592.68 L420.25,592.86 L420.50,593.03 L420.75,593.18 L421.00,593.30 L421.25,593.38 L421.50,593.55 L421.75,593.84 L422.00,593.88 L422.00,594.10 Z M426.40,594.10 L426.40,593.78 L426.65,593.72 L426.90,593.35 L427.15,593.20 L427.40,593.20 L427.66,593.20 L427.91,593.20 L428.16,593.20 L428.41,593.20 L428.66,593.20 L428.91,593.20 L429.16,593.20 L429.41,593.20 L429.66,593.20 L429.92,593.20 L430.17,593.20 L430.42,593.20 L430.67,593.20 L430.92,593.20 L431.17,593.20 L431.42,593.20 L431.67,593.20 L431.92,593.20 L432.18,593.20 L432.43,593.20 L432.68,593.20 L432.93,593.19 L433.18,593.19 L433.43,593.18 L433.68,593.16 L433.93,593.14 L434.19,593.11 L434.44,593.07 L434.69,593.01 L434.94,592.96 L435.19,592.90 L435.44,592.85 L435.69,592.82 L435.94,592.80 L436.19,592.81 L436.45,592.83 L436.70,592.88 L436.95,592.93 L437.20,592.99 L437.45,593.04 L437.70,593.09 L437.95,593.13 L438.20,593.15 L438.45,593.17 L438.71,593.18 L438.96,593.19 L439.21,593.20 L439.46,593.20 L439.71,593.20 L439.96,593.20 L440.21,593.20 L440.46,593.20 L440.71,593.20 L440.97,593.20 L441.22,593.20 L441.47,593.20 L441.72,593.20 L441.97,593.20 L442.22,593.20 L442.47,593.20 L442.72,593.19 L442.98,593.18 L443.23,593.17 L443.48,593.14 L443.73,593.11 L443.98,593.07 L444.23,593.01 L444.48,592.94 L444.73,592.87 L444.98,592.80 L445.24,592.75 L445.49,592.71 L445.74,592.70 L445.99,592.72 L446.24,592.76 L446.49,592.82 L446.74,592.89 L446.99,592.96 L447.24,593.03 L447.50,593.08 L447.75,593.12 L448.00,593.31 L448.25,593.71 L448.50,593.78 L448.50,594.10 Z M450.00,594.10 L450.00,593.74 L450.25,593.67 L450.50,593.21 L450.75,592.96 L451.00,592.87 L451.25,592.74 L451.50,592.59 L451.75,592.43 L452.00,592.29 L452.25,592.21 L452.50,592.21 L452.75,592.27 L453.00,592.40 L453.25,592.56 L453.50,592.71 L453.75,592.85 L454.00,592.95 L454.25,593.02 L454.50,593.06 L454.75,593.08 L455.00,593.09 L455.25,593.07 L455.50,593.05 L455.75,593.01 L456.00,592.95 L456.25,592.89 L456.50,592.82 L456.75,592.75 L457.00,592.71 L457.25,592.70 L457.50,592.72 L457.75,592.78 L458.00,592.84 L458.25,592.91 L458.50,592.98 L458.75,593.02 L459.00,592.95 L459.25,592.86 L459.50,592.75 L459.75,592.63 L460.00,592.51 L460.25,592.43 L460.50,592.40 L460.75,592.43 L461.00,592.51 L461.25,592.63 L461.50,592.75 L461.75,592.86 L462.00,592.95 L462.25,593.02 L462.50,593.06 L462.75,593.08 L463.00,593.09 L463.25,593.10 L463.50,593.10 L463.75,593.10 L464.00,593.10 L464.25,593.10 L464.50,593.10 L464.75,593.10 L465.00,593.10 L465.25,593.10 L465.50,593.10 L465.75,593.10 L466.00,593.10 L466.25,593.10 L466.50,593.10 L466.75,593.10 L467.00,593.10 L467.25,593.10 L467.50,593.10 L467.75,593.10 L468.00,593.10 L468.25,593.10 L468.50,593.10 L468.75,593.10 L469.00,593.10 L469.25,593.10 L469.50,593.10 L469.75,593.10 L470.00,593.10 L470.25,593.10 L470.50,593.10 L470.75,593.10 L471.00,593.10 L471.25,593.10 L471.50,593.10 L471.75,593.10 L472.00,593.10 L472.25,593.10 L472.50,593.10 L472.75,593.10 L473.00,593.10 L473.25,593.10 L473.50,593.10 L473.75,593.10 L474.00,593.10 L474.25,593.10 L474.50,593.10 L474.75,593.10 L475.00,593.10 L475.25,593.10 L475.50,593.10 L475.75,593.10 L476.00,593.10 L476.25,593.10 L476.50,593.10 L476.75,593.10 L477.00,593.10 L477.25,593.10 L477.50,593.10 L477.75,593.09 L478.00,593.09 L478.25,593.08 L478.50,593.06 L478.75,593.04 L479.00,593.00 L479.25,592.95 L479.50,592.88 L479.75,592.80 L480.00,592.72 L480.25,592.63 L480.50,592.56 L480.75,592.52 L481.00,592.50 L481.25,592.52 L481.50,592.56 L481.75,592.63 L482.00,592.72 L482.25,592.80 L482.50,592.88 L482.75,592.95 L483.00,593.00 L483.25,593.04 L483.50,593.06 L483.75,593.08 L484.00,593.09 L484.25,593.09 L484.50,593.09 L484.75,593.07 L485.00,593.05 L485.25,593.01 L485.50,592.94 L485.75,592.85 L486.00,592.72 L486.25,592.56 L486.50,592.38 L486.75,592.20 L487.00,592.04 L487.25,591.94 L487.50,591.90 L487.75,591.94 L488.00,592.04 L488.25,592.20 L488.50,592.38 L488.75,592.56 L489.00,592.72 L489.25,592.85 L489.50,592.94 L489.75,593.01 L490.00,593.05 L490.25,593.07 L490.50,593.26 L490.75,593.68 L491.00,593.75 L491.00,594.10 Z M492.70,594.10 L492.70,593.85 L492.96,593.74 L493.21,593.19 L493.47,592.70 L493.73,592.29 L493.99,591.90 L494.24,591.65 L494.50,591.62 L494.76,591.83 L495.01,592.20 L495.27,592.61 L495.53,592.97 L495.79,593.35 L496.04,593.79 L496.30,593.87 L496.30,594.10 Z M498.20,594.10 L498.20,593.82 L498.47,593.66 L498.73,592.94 L499.00,592.40 L499.27,592.01 L499.53,591.75 L499.80,591.72 L500.07,591.93 L500.33,592.29 L500.60,592.70 L500.87,593.16 L501.13,593.73 L501.40,593.85 L501.40,594.10 Z M502.00,594.10 L502.00,593.86 L502.25,593.81 L502.50,593.52 L502.75,593.40 L503.00,593.40 L503.25,593.40 L503.50,593.40 L503.75,593.40 L504.00,593.40 L504.25,593.40 L504.50,593.40 L504.75,593.40 L505.00,593.40 L505.25,593.40 L505.50,593.40 L505.75,593.40 L506.00,593.52 L506.25,593.81 L506.50,593.86 L506.50,594.10 Z M507.30,594.10 L507.30,593.93 L507.55,593.89 L507.80,593.68 L508.05,593.89 L508.30,593.93 L508.30,594.10 Z" fill="#12918f" stroke="none"/>
<path d="M415.00,602.30 L415.00,602.12 L415.25,602.09 L415.50,601.88 L415.75,601.80 L416.00,601.80 L416.25,601.80 L416.50,601.80 L416.75,601.79 L417.00,601.78 L417.25,601.74 L417.50,601.68 L417.75,601.57 L418.00,601.40 L418.25,601.16 L418.50,600.85 L418.75,600.51 L419.00,600.20 L419.25,599.98 L419.50,599.90 L419.75,599.98 L420.00,600.20 L420.25,600.51 L420.50,600.85 L420.75,601.16 L421.00,601.40 L421.25,601.57 L421.50,601.78 L421.75,602.07 L422.00,602.12 L422.00,602.30 Z M426.00,602.30 L426.00,601.94 L426.25,601.86 L426.50,601.38 L426.75,601.08 L427.00,600.90 L427.25,600.66 L427.50,600.36 L427.75,600.05 L428.00,599.81 L428.25,599.70 L428.50,599.75 L428.75,599.95 L429.00,600.23 L429.25,600.54 L429.50,600.81 L429.75,601.02 L430.00,601.15 L430.25,601.23 L430.50,601.27 L430.75,601.29 L431.00,601.30 L431.25,601.30 L431.50,601.30 L431.75,601.30 L432.00,601.30 L432.25,601.30 L432.50,601.29 L432.75,601.29 L433.00,601.27 L433.25,601.24 L433.50,601.20 L433.75,601.13 L434.00,601.05 L434.25,600.96 L434.50,600.88 L434.75,600.82 L435.00,600.80 L435.25,600.82 L435.50,600.88 L435.75,600.96 L436.00,601.05 L436.25,601.13 L436.50,601.20 L436.75,601.24 L437.00,601.27 L437.25,601.27 L437.50,601.24 L437.75,601.19 L438.00,601.12 L438.25,601.04 L438.50,600.96 L438.75,600.91 L439.00,600.90 L439.25,600.95 L439.50,601.02 L439.75,601.11 L440.00,601.18 L440.25,601.24 L440.50,601.44 L440.75,601.88 L441.00,601.95 L441.00,602.30 Z M441.00,602.30 L441.00,602.02 L441.25,601.96 L441.50,601.62 L441.75,601.48 L442.00,601.45 L442.25,601.41 L442.50,601.33 L442.75,601.21 L443.00,601.04 L443.25,600.82 L443.50,600.54 L443.75,600.24 L444.00,599.94 L444.25,599.70 L444.50,599.54 L444.75,599.50 L445.00,599.59 L445.25,599.79 L445.50,600.06 L445.75,600.36 L446.00,600.66 L446.25,600.91 L446.50,601.12 L446.75,601.27 L447.00,601.37 L447.25,601.43 L447.50,601.46 L447.75,601.48 L448.00,601.49 L448.25,601.50 L448.50,601.63 L448.75,601.97 L449.00,602.02 L449.00,602.30 Z M450.00,602.30 L450.00,602.09 L450.25,602.05 L450.50,601.78 L450.75,601.63 L451.00,601.55 L451.25,601.41 L451.50,601.21 L451.75,600.98 L452.00,600.76 L452.25,600.62 L452.50,600.61 L452.75,600.73 L453.00,600.93 L453.25,601.17 L453.50,601.37 L453.75,601.52 L454.00,601.73 L454.25,602.04 L454.50,602.09 L454.50,602.30 Z M456.00,602.30 L456.00,601.59 L456.25,601.44 L456.50,600.52 L456.75,600.03 L457.00,599.82 L457.25,599.56 L457.50,599.29 L457.75,599.08 L458.00,599.00 L458.25,599.08 L458.50,599.29 L458.75,599.56 L459.00,599.82 L459.25,600.03 L459.50,600.16 L459.75,600.24 L460.00,600.28 L460.25,600.29 L460.50,600.30 L460.75,600.30 L461.00,600.29 L461.25,600.28 L461.50,600.25 L461.75,600.21 L462.00,600.13 L462.25,600.02 L462.50,599.87 L462.75,599.69 L463.00,599.52 L463.25,599.38 L463.50,599.31 L463.75,599.32 L464.00,599.41 L464.25,599.55 L464.50,599.73 L464.75,599.90 L465.00,600.04 L465.25,600.15 L465.50,600.22 L465.75,600.26 L466.00,600.28 L466.25,600.28 L466.50,600.26 L466.75,600.23 L467.00,600.17 L467.25,600.10 L467.50,600.00 L467.75,599.89 L468.00,599.80 L468.25,599.73 L468.50,599.70 L468.75,599.73 L469.00,599.80 L469.25,599.89 L469.50,600.00 L469.75,600.10 L470.00,600.17 L470.25,600.23 L470.50,600.26 L470.75,600.28 L471.00,600.29 L471.25,600.30 L471.50,600.30 L471.75,600.30 L472.00,600.29 L472.25,600.28 L472.50,600.24 L472.75,600.18 L473.00,600.07 L473.25,599.89 L473.50,599.62 L473.75,599.28 L474.00,598.89 L474.25,598.52 L474.50,598.23 L474.75,598.10 L475.00,598.16 L475.25,598.39 L475.50,598.73 L475.75,599.12 L476.00,599.49 L476.25,599.79 L476.50,599.64 L476.75,599.40 L477.00,599.15 L477.25,598.90 L477.50,598.69 L477.75,598.55 L478.00,598.50 L478.25,598.55 L478.50,598.69 L478.75,598.90 L479.00,599.15 L479.25,599.40 L479.50,599.64 L479.75,599.79 L480.00,599.56 L480.25,599.30 L480.50,599.02 L480.75,598.74 L481.00,598.51 L481.25,598.35 L481.50,598.30 L481.75,598.35 L482.00,598.51 L482.25,598.74 L482.50,599.02 L482.75,599.30 L483.00,599.56 L483.25,599.59 L483.50,599.22 L483.75,598.79 L484.00,598.35 L484.25,598.00 L484.50,597.82 L484.75,597.84 L485.00,598.06 L485.25,598.44 L485.50,598.88 L485.75,599.30 L486.00,599.66 L486.25,599.92 L486.50,600.10 L486.75,600.20 L487.00,600.20 L487.25,600.09 L487.50,599.91 L487.75,599.67 L488.00,599.39 L488.25,599.15 L488.50,599.01 L488.75,599.03 L489.00,599.19 L489.25,599.45 L489.50,600.15 L489.75,601.32 L490.00,601.54 L490.00,602.30 Z M492.00,602.30 L492.00,602.09 L492.25,602.03 L492.51,601.71 L492.76,601.46 L493.01,601.18 L493.26,600.71 L493.52,600.05 L493.77,599.28 L494.02,598.58 L494.28,598.15 L494.53,598.16 L494.78,598.59 L495.04,599.30 L495.29,600.06 L495.54,600.72 L495.79,601.36 L496.05,601.95 L496.30,602.06 L496.30,602.30 Z M498.60,602.30 L498.60,602.02 L498.87,601.85 L499.13,601.15 L499.40,600.72 L499.67,600.53 L499.93,600.53 L500.20,600.72 L500.47,601.15 L500.73,601.85 L501.00,602.02 L501.00,602.30 Z M501.80,602.30 L501.80,602.02 L502.06,601.87 L502.32,601.19 L502.58,600.73 L502.84,600.54 L503.10,600.51 L503.36,600.68 L503.62,600.95 L503.88,601.38 L504.14,601.94 L504.40,602.05 L504.40,602.30 Z M507.20,602.30 L507.20,602.09 L507.45,602.05 L507.70,601.80 L507.95,602.05 L508.20,602.09 L508.20,602.30 Z" fill="#12918f" stroke="none"/>
<path d="M415.00,610.50 L415.00,610.32 L415.25,610.29 L415.50,610.08 L415.75,610.00 L416.00,610.00 L416.25,610.00 L416.50,609.99 L416.75,609.98 L417.00,609.96 L417.25,609.92 L417.50,609.85 L417.75,609.74 L418.00,609.59 L418.25,609.38 L418.50,609.14 L418.75,608.86 L419.00,608.60 L419.25,608.38 L419.50,608.24 L419.75,608.20 L420.00,608.28 L420.25,608.46 L420.50,608.70 L420.75,608.97 L421.00,609.24 L421.25,609.47 L421.50,609.66 L421.75,609.79 L422.00,609.88 L422.25,609.93 L422.50,609.97 L422.75,609.98 L423.00,609.99 L423.25,610.00 L423.50,610.08 L423.75,610.29 L424.00,610.32 L424.00,610.50 Z M426.00,610.50 L426.00,610.33 L426.25,610.29 L426.50,610.08 L426.75,610.00 L427.00,610.00 L427.25,610.00 L427.50,610.00 L427.75,610.00 L428.00,610.00 L428.25,610.00 L428.50,610.00 L428.75,610.00 L429.00,610.00 L429.25,610.00 L429.50,610.00 L429.75,610.00 L430.00,610.00 L430.25,610.00 L430.50,610.00 L430.75,610.00 L431.00,610.00 L431.25,610.00 L431.50,610.00 L431.75,610.00 L432.00,610.00 L432.25,610.00 L432.50,610.00 L432.75,610.00 L433.00,610.00 L433.25,610.00 L433.50,610.00 L433.75,610.00 L434.00,610.00 L434.25,610.00 L434.50,610.00 L434.75,610.00 L435.00,610.00 L435.25,610.00 L435.50,610.08 L435.75,610.29 L436.00,610.33 L436.00,610.50 Z M436.00,610.50 L436.00,610.32 L436.25,610.29 L436.50,610.06 L436.75,609.95 L437.00,609.90 L437.25,609.81 L437.50,609.67 L437.75,609.48 L438.00,609.23 L438.25,608.94 L438.50,608.65 L438.75,608.40 L439.00,608.24 L439.25,608.20 L439.50,608.29 L439.75,608.50 L440.00,608.77 L440.25,609.06 L440.50,609.34 L440.75,609.57 L441.00,609.74 L441.25,609.85 L441.50,609.92 L441.75,609.96 L442.00,610.07 L442.25,610.29 L442.50,610.32 L442.50,610.50 Z M443.00,610.50 L443.00,610.32 L443.25,610.28 L443.50,610.04 L443.75,609.91 L444.00,609.85 L444.25,609.79 L444.50,609.72 L444.75,609.65 L445.00,609.61 L445.25,609.60 L445.50,609.62 L445.75,609.68 L446.00,609.74 L446.25,609.81 L446.50,609.88 L446.75,609.92 L447.00,609.96 L447.25,609.98 L447.50,609.99 L447.75,610.00 L448.00,610.00 L448.25,610.00 L448.50,610.00 L448.75,610.00 L449.00,610.00 L449.25,610.00 L449.50,610.08 L449.75,610.29 L450.00,610.32 L450.00,610.50 Z M450.00,610.50 L450.00,610.29 L450.25,610.21 L450.50,609.77 L450.75,609.40 L451.00,609.12 L451.25,608.83 L451.50,608.61 L451.75,608.50 L452.00,608.55 L452.25,608.73 L452.50,609.00 L452.75,609.29 L453.00,609.54 L453.25,609.74 L453.50,609.86 L453.75,609.94 L454.00,610.06 L454.25,610.29 L454.50,610.32 L454.50,610.50 Z M457.00,610.50 L457.00,610.15 L457.25,610.08 L457.50,609.66 L457.75,609.49 L458.00,609.47 L458.25,609.45 L458.50,609.41 L458.75,609.34 L459.00,609.25 L459.25,609.12 L459.50,608.95 L459.75,608.75 L460.00,608.54 L460.25,608.33 L460.50,608.16 L460.75,608.04 L461.00,608.00 L461.25,608.04 L461.50,608.16 L461.75,608.33 L462.00,608.54 L462.25,608.75 L462.50,608.95 L462.75,609.03 L463.00,608.61 L463.25,607.99 L463.50,607.20 L463.75,606.33 L464.00,605.56 L464.25,605.08 L464.50,605.04 L464.75,605.43 L465.00,606.16 L465.25,607.02 L465.50,607.84 L465.75,608.50 L466.00,608.96 L466.25,609.23 L466.50,609.38 L466.75,609.45 L467.00,609.48 L467.25,609.49 L467.50,609.49 L467.75,609.49 L468.00,609.47 L468.25,609.44 L468.50,609.39 L468.75,609.31 L469.00,609.17 L469.25,608.96 L469.50,608.67 L469.75,608.30 L470.00,607.85 L470.25,607.36 L470.50,606.87 L470.75,606.44 L471.00,606.14 L471.25,606.00 L471.50,606.06 L471.75,606.30 L472.00,606.68 L472.25,607.16 L472.50,607.65 L472.75,608.13 L473.00,608.53 L473.25,608.85 L473.50,608.52 L473.75,608.19 L474.00,607.96 L474.25,607.90 L474.50,608.04 L474.75,608.32 L475.00,608.66 L475.25,608.97 L475.50,609.20 L475.75,609.36 L476.00,609.61 L476.25,610.07 L476.50,610.15 L476.50,610.50 Z M477.00,610.50 L477.00,609.36 L477.25,609.10 L477.50,607.56 L477.75,606.70 L478.00,606.35 L478.25,605.97 L478.50,605.65 L478.75,605.50 L479.00,605.57 L479.25,605.83 L479.50,606.20 L479.75,606.57 L480.00,606.87 L480.25,607.08 L480.50,607.20 L480.75,607.26 L481.00,607.28 L481.25,607.25 L481.50,607.19 L481.75,607.10 L482.00,606.97 L482.25,606.78 L482.50,606.56 L482.75,606.33 L483.00,606.14 L483.25,606.02 L483.50,606.01 L483.75,606.11 L484.00,606.29 L484.25,606.51 L484.50,606.74 L484.75,606.93 L485.00,607.08 L485.25,607.18 L485.50,607.24 L485.75,607.16 L486.00,606.98 L486.25,606.67 L486.50,606.20 L486.75,605.59 L487.00,604.96 L487.25,604.48 L487.50,604.30 L487.75,604.48 L488.00,604.96 L488.25,605.59 L488.50,606.20 L488.75,606.67 L489.00,606.98 L489.25,607.16 L489.50,607.79 L489.75,609.16 L490.00,609.38 L490.00,610.50 Z M493.60,610.50 L493.60,610.21 L493.85,610.04 L494.10,609.20 L494.35,608.36 L494.60,607.77 L494.85,607.37 L495.10,607.33 L495.35,607.66 L495.60,608.61 L495.85,609.81 L496.10,610.09 L496.10,610.50 Z M500.20,610.50 L500.20,610.25 L500.46,610.20 L500.71,609.90 L500.97,609.80 L501.22,609.80 L501.48,609.80 L501.73,609.80 L501.99,609.80 L502.24,609.80 L502.50,609.80 L502.76,609.80 L503.01,609.80 L503.27,609.80 L503.52,609.80 L503.78,609.80 L504.03,609.80 L504.29,609.80 L504.54,609.80 L504.80,609.80 L505.06,609.80 L505.31,609.80 L505.57,609.80 L505.82,609.80 L506.08,609.80 L506.33,609.80 L506.59,609.90 L506.84,610.20 L507.10,610.25 L507.10,610.50 Z" fill="#12918f" stroke="none"/>
<path d="M416.00,618.70 L416.00,618.49 L416.25,618.44 L416.50,618.17 L416.75,618.04 L417.00,618.00 L417.25,617.95 L417.50,617.90 L417.75,617.85 L418.00,617.82 L418.25,617.80 L418.50,617.81 L418.75,617.84 L419.00,617.88 L419.25,617.93 L419.50,617.98 L419.75,618.02 L420.00,618.05 L420.25,618.07 L420.50,618.09 L420.75,618.09 L421.00,618.10 L421.25,618.10 L421.50,618.20 L421.75,618.45 L422.00,618.49 L422.00,618.70 Z M426.00,618.70 L426.00,618.49 L426.25,618.45 L426.50,618.20 L426.75,618.10 L427.00,618.10 L427.25,618.10 L427.50,618.10 L427.75,618.10 L428.00,618.10 L428.25,618.10 L428.50,618.10 L428.75,618.10 L429.00,618.10 L429.25,618.10 L429.50,618.10 L429.75,618.10 L430.00,618.10 L430.25,618.10 L430.50,618.10 L430.75,618.10 L431.00,618.10 L431.25,618.10 L431.50,618.10 L431.75,618.10 L432.00,618.10 L432.25,618.10 L432.50,618.10 L432.75,618.10 L433.00,618.10 L433.25,618.10 L433.50,618.10 L433.75,618.10 L434.00,618.10 L434.25,618.10 L434.50,618.10 L434.75,618.10 L435.00,618.10 L435.25,618.10 L435.50,618.10 L435.75,618.10 L436.00,618.10 L436.25,618.10 L436.50,618.09 L436.75,618.08 L437.00,618.07 L437.25,618.05 L437.50,618.01 L437.75,617.97 L438.00,617.92 L438.25,617.87 L438.50,617.83 L438.75,617.80 L439.00,617.80 L439.25,617.82 L439.50,617.86 L439.75,617.91 L440.00,617.96 L440.25,618.01 L440.50,618.04 L440.75,618.07 L441.00,618.08 L441.25,618.09 L441.50,618.20 L441.75,618.45 L442.00,618.49 L442.00,618.70 Z M442.00,618.70 L442.00,618.49 L442.25,618.44 L442.50,618.18 L442.75,618.05 L443.00,618.01 L443.25,617.94 L443.50,617.86 L443.75,617.76 L444.00,617.66 L444.25,617.57 L444.50,617.52 L444.75,617.50 L445.00,617.53 L445.25,617.61 L445.50,617.70 L445.75,617.80 L446.00,617.90 L446.25,617.97 L446.50,618.02 L446.75,618.06 L447.00,618.08 L447.25,618.09 L447.50,618.10 L447.75,618.10 L448.00,618.10 L448.25,618.10 L448.50,618.20 L448.75,618.45 L449.00,618.49 L449.00,618.70 Z M449.50,618.70 L449.50,618.48 L449.75,618.42 L450.00,618.08 L450.25,617.83 L450.50,617.66 L450.75,617.44 L451.00,617.25 L451.25,617.12 L451.50,617.11 L451.75,617.22 L452.00,617.40 L452.25,617.61 L452.50,617.80 L452.75,617.94 L453.00,618.02 L453.25,618.07 L453.50,618.19 L453.75,618.45 L454.00,618.49 L454.00,618.70 Z M455.00,618.70 L455.00,618.42 L455.25,618.37 L455.50,618.03 L455.75,617.90 L456.00,617.90 L456.25,617.90 L456.50,617.90 L456.75,617.90 L457.00,617.90 L457.25,617.90 L457.50,617.90 L457.75,617.90 L458.00,617.90 L458.25,617.90 L458.50,617.90 L458.75,617.90 L459.00,617.90 L459.25,617.90 L459.50,617.89 L459.75,617.88 L460.00,617.87 L460.25,617.85 L460.50,617.82 L460.75,617.78 L461.00,617.73 L461.25,617.68 L461.50,617.62 L461.75,617.57 L462.00,617.53 L462.25,617.50 L462.50,617.50 L462.75,617.52 L463.00,617.56 L463.25,617.61 L463.50,617.67 L463.75,617.72 L464.00,617.77 L464.25,617.81 L464.50,617.84 L464.75,617.87 L465.00,617.88 L465.25,617.89 L465.50,617.89 L465.75,617.90 L466.00,617.90 L466.25,617.90 L466.50,617.90 L466.75,617.90 L467.00,617.90 L467.25,617.90 L467.50,617.90 L467.75,617.90 L468.00,617.90 L468.25,617.89 L468.50,617.88 L468.75,617.87 L469.00,617.86 L469.25,617.84 L469.50,617.82 L469.75,617.79 L470.00,617.76 L470.25,617.73 L470.50,617.71 L470.75,617.70 L471.00,617.70 L471.25,617.71 L471.50,617.73 L471.75,617.75 L472.00,617.78 L472.25,617.81 L472.50,617.84 L472.75,617.86 L473.00,617.87 L473.25,617.88 L473.50,617.89 L473.75,617.89 L474.00,617.90 L474.25,617.90 L474.50,617.90 L474.75,617.90 L475.00,617.90 L475.25,617.90 L475.50,617.90 L475.75,617.90 L476.00,617.90 L476.25,617.90 L476.50,617.90 L476.75,617.90 L477.00,617.90 L477.25,617.90 L477.50,617.90 L477.75,617.89 L478.00,617.88 L478.25,617.86 L478.50,617.84 L478.75,617.80 L479.00,617.74 L479.25,617.66 L479.50,617.57 L479.75,617.46 L480.00,617.34 L480.25,617.24 L480.50,617.15 L480.75,617.11 L481.00,617.10 L481.25,617.14 L481.50,617.22 L481.75,617.32 L482.00,617.43 L482.25,617.54 L482.50,617.64 L482.75,617.73 L483.00,617.79 L483.25,617.83 L483.50,617.86 L483.75,617.88 L484.00,617.89 L484.25,617.89 L484.50,617.90 L484.75,617.90 L485.00,617.90 L485.25,617.89 L485.50,617.88 L485.75,617.87 L486.00,617.84 L486.25,617.79 L486.50,617.73 L486.75,617.64 L487.00,617.52 L487.25,617.39 L487.50,617.25 L487.75,617.13 L488.00,617.04 L488.25,617.00 L488.50,617.02 L488.75,617.09 L489.00,617.20 L489.25,617.33 L489.50,617.47 L489.75,617.59 L490.00,617.69 L490.25,617.77 L490.50,617.82 L490.75,617.86 L491.00,617.88 L491.25,617.89 L491.50,617.90 L491.75,617.90 L492.00,617.90 L492.25,617.89 L492.50,617.88 L492.75,617.85 L493.00,617.81 L493.25,617.74 L493.50,617.64 L493.75,617.53 L494.00,617.40 L494.25,617.29 L494.50,617.22 L494.75,617.20 L495.00,617.24 L495.25,617.33 L495.50,617.45 L495.75,617.57 L496.00,617.68 L496.25,617.77 L496.50,617.97 L496.75,618.35 L497.00,618.41 L497.00,618.70 Z M498.00,618.70 L498.00,618.47 L498.25,618.41 L498.50,618.10 L498.75,617.95 L499.00,617.92 L499.25,617.90 L499.50,617.90 L499.75,617.92 L500.00,617.94 L500.25,617.97 L500.50,618.01 L500.75,618.04 L501.00,618.06 L501.25,618.04 L501.50,618.01 L501.75,617.97 L502.00,617.94 L502.25,617.92 L502.50,617.90 L502.75,617.90 L503.00,617.92 L503.25,617.95 L503.50,617.98 L503.75,618.01 L504.00,618.04 L504.25,618.06 L504.50,618.18 L504.75,618.45 L505.00,618.49 L505.00,618.70 Z M507.50,618.70 L507.50,618.53 L507.75,618.49 L508.00,618.28 L508.25,618.49 L508.50,618.53 L508.50,618.70 Z" fill="#111111" stroke="none"/>
<path d="M415.00,626.70 L415.00,626.46 L415.25,626.41 L415.50,626.12 L415.75,626.00 L416.00,626.00 L416.25,626.00 L416.50,626.00 L416.75,626.00 L417.00,626.00 L417.25,626.00 L417.50,626.00 L417.75,626.00 L418.00,626.00 L418.25,626.00 L418.50,626.00 L418.75,626.00 L419.00,626.00 L419.25,626.00 L419.50,626.00 L419.75,626.00 L420.00,626.00 L420.25,626.00 L420.50,626.00 L420.75,626.00 L421.00,626.00 L421.25,626.00 L421.50,626.00 L421.75,626.00 L422.00,626.00 L422.25,626.00 L422.50,626.00 L422.75,626.00 L423.00,626.00 L423.25,626.00 L423.50,626.00 L423.75,626.00 L424.00,626.00 L424.25,626.00 L424.50,626.00 L424.75,626.00 L425.00,626.00 L425.25,626.00 L425.50,626.12 L425.75,626.41 L426.00,626.46 L426.00,626.70 Z M429.00,626.70 L429.00,626.53 L429.25,626.49 L429.50,626.28 L429.75,626.20 L430.00,626.20 L430.25,626.20 L430.50,626.28 L430.75,626.49 L431.00,626.53 L431.00,626.70 Z M433.00,626.70 L433.00,626.53 L433.25,626.49 L433.50,626.28 L433.75,626.20 L434.00,626.20 L434.25,626.20 L434.50,626.28 L434.75,626.49 L435.00,626.53 L435.00,626.70 Z M437.00,626.70 L437.00,626.52 L437.25,626.49 L437.50,626.28 L437.75,626.18 L438.00,626.14 L438.25,626.04 L438.50,625.86 L438.75,625.59 L439.00,625.24 L439.25,624.91 L439.50,624.72 L439.75,624.74 L440.00,624.97 L440.25,625.31 L440.50,625.65 L440.75,625.91 L441.00,626.07 L441.25,626.15 L441.50,626.27 L441.75,626.49 L442.00,626.52 L442.00,626.70 Z M443.00,626.70 L443.00,626.53 L443.25,626.49 L443.50,626.28 L443.75,626.20 L444.00,626.20 L444.25,626.20 L444.50,626.28 L444.75,626.49 L445.00,626.53 L445.00,626.70 Z M450.00,626.70 L450.00,626.53 L450.25,626.49 L450.50,626.28 L450.75,626.20 L451.00,626.20 L451.25,626.20 L451.50,626.20 L451.75,626.20 L452.00,626.20 L452.25,626.20 L452.50,626.28 L452.75,626.49 L453.00,626.53 L453.00,626.70 Z M461.90,626.70 L461.90,626.24 L462.15,626.15 L462.40,625.60 L462.65,625.36 L462.90,625.33 L463.15,625.29 L463.40,625.24 L463.65,625.18 L463.90,625.11 L464.15,625.04 L464.40,624.97 L464.65,624.93 L464.90,624.90 L465.15,624.90 L465.40,624.93 L465.65,624.99 L465.90,625.05 L466.15,625.12 L466.40,625.19 L466.65,625.25 L466.90,625.30 L467.15,625.34 L467.40,625.36 L467.65,625.38 L467.90,625.39 L468.15,625.39 L468.40,625.40 L468.65,625.40 L468.90,625.39 L469.15,625.39 L469.40,625.38 L469.65,625.36 L469.90,625.33 L470.15,625.30 L470.40,625.25 L470.65,625.20 L470.90,625.14 L471.15,625.09 L471.40,625.04 L471.65,625.01 L471.90,625.00 L472.15,625.01 L472.40,625.04 L472.65,625.09 L472.90,625.14 L473.15,625.20 L473.40,625.25 L473.65,625.30 L473.90,625.33 L474.15,625.36 L474.40,625.38 L474.65,625.39 L474.90,625.39 L475.15,625.40 L475.40,625.40 L475.65,625.40 L475.90,625.40 L476.15,625.40 L476.40,625.40 L476.65,625.40 L476.90,625.40 L477.15,625.40 L477.40,625.39 L477.65,625.39 L477.90,625.38 L478.15,625.37 L478.40,625.35 L478.65,625.32 L478.90,625.29 L479.15,625.25 L479.40,625.21 L479.65,625.17 L479.90,625.13 L480.15,625.11 L480.40,625.10 L480.65,625.11 L480.90,625.13 L481.15,625.17 L481.40,625.21 L481.65,625.25 L481.90,625.21 L482.15,625.13 L482.40,625.03 L482.65,624.93 L482.90,624.84 L483.15,624.76 L483.40,624.71 L483.65,624.70 L483.90,624.73 L484.15,624.79 L484.40,624.87 L484.65,624.97 L484.90,625.07 L485.15,625.16 L485.40,625.23 L485.65,625.29 L485.90,625.22 L486.15,625.07 L486.40,624.84 L486.65,624.52 L486.90,624.15 L487.15,623.76 L487.40,623.43 L487.65,623.23 L487.90,623.22 L488.15,623.38 L488.40,623.69 L488.65,624.07 L488.90,624.45 L489.15,624.78 L489.40,625.31 L489.65,626.07 L489.90,626.21 L489.90,626.70 Z M494.00,626.70 L494.00,626.53 L494.25,626.49 L494.50,626.28 L494.75,626.20 L495.00,626.20 L495.25,626.20 L495.50,626.20 L495.75,626.20 L496.00,626.20 L496.25,626.20 L496.50,626.20 L496.75,626.20 L497.00,626.20 L497.25,626.20 L497.50,626.20 L497.75,626.20 L498.00,626.20 L498.25,626.20 L498.50,626.20 L498.75,626.20 L499.00,626.20 L499.25,626.20 L499.50,626.20 L499.75,626.20 L500.00,626.20 L500.25,626.20 L500.50,626.20 L500.75,626.20 L501.00,626.20 L501.25,626.20 L501.50,626.20 L501.75,626.20 L502.00,626.20 L502.25,626.20 L502.50,626.20 L502.75,626.20 L503.00,626.20 L503.25,626.20 L503.50,626.20 L503.75,626.20 L504.00,626.20 L504.25,626.20 L504.50,626.20 L504.75,626.20 L505.00,626.20 L505.25,626.20 L505.50,626.28 L505.75,626.49 L506.00,626.53 L506.00,626.70 Z M507.50,626.70 L507.50,626.53 L507.75,626.49 L508.00,626.28 L508.25,626.49 L508.50,626.53 L508.50,626.70 Z" fill="#111111" stroke="none"/>
<path d="M415.00,635.00 L415.00,634.68 L415.25,634.62 L415.50,634.25 L415.75,634.10 L416.00,634.10 L416.25,634.10 L416.50,634.10 L416.75,634.10 L417.00,634.10 L417.25,634.10 L417.50,634.10 L417.75,634.09 L418.00,634.08 L418.25,634.07 L418.50,634.06 L418.75,634.04 L419.00,634.03 L419.25,634.01 L419.50,634.00 L419.75,634.00 L420.00,634.01 L420.25,634.02 L420.50,634.03 L420.75,634.05 L421.00,634.07 L421.25,634.08 L421.50,634.09 L421.75,634.09 L422.00,634.10 L422.25,634.10 L422.50,634.10 L422.75,634.10 L423.00,634.10 L423.25,634.10 L423.50,634.25 L423.75,634.62 L424.00,634.68 L424.00,635.00 Z M427.00,635.00 L427.00,634.79 L427.25,634.75 L427.50,634.50 L427.75,634.40 L428.00,634.40 L428.25,634.40 L428.50,634.40 L428.75,634.40 L429.00,634.40 L429.25,634.40 L429.50,634.40 L429.75,634.40 L430.00,634.40 L430.25,634.40 L430.50,634.40 L430.75,634.40 L431.00,634.40 L431.25,634.40 L431.50,634.50 L431.75,634.75 L432.00,634.79 L432.00,635.00 Z M434.00,635.00 L434.00,634.68 L434.25,634.62 L434.50,634.25 L434.75,634.10 L435.00,634.10 L435.25,634.10 L435.50,634.10 L435.75,634.10 L436.00,634.10 L436.25,634.10 L436.50,634.10 L436.75,634.10 L437.00,634.10 L437.25,634.10 L437.50,634.09 L437.75,634.07 L438.00,634.03 L438.25,633.95 L438.50,633.83 L438.75,633.66 L439.00,633.47 L439.25,633.30 L439.50,633.21 L439.75,633.22 L440.00,633.33 L440.25,633.51 L440.50,633.70 L440.75,633.86 L441.00,633.97 L441.25,634.04 L441.50,634.08 L441.75,634.09 L442.00,634.10 L442.25,634.10 L442.50,634.10 L442.75,634.10 L443.00,634.10 L443.25,634.10 L443.50,634.10 L443.75,634.10 L444.00,634.10 L444.25,634.10 L444.50,634.10 L444.75,634.10 L445.00,634.10 L445.25,634.10 L445.50,634.10 L445.75,634.10 L446.00,634.10 L446.25,634.10 L446.50,634.10 L446.75,634.10 L447.00,634.10 L447.25,634.10 L447.50,634.10 L447.75,634.10 L448.00,634.10 L448.25,634.10 L448.50,634.25 L448.75,634.62 L449.00,634.68 L449.00,635.00 Z M449.00,635.00 L449.00,634.75 L449.25,634.69 L449.50,634.32 L449.75,634.07 L450.00,633.90 L450.25,633.67 L450.50,633.44 L450.75,633.27 L451.00,633.20 L451.25,633.27 L451.50,633.44 L451.75,633.67 L452.00,633.90 L452.25,634.07 L452.50,634.18 L452.75,634.25 L453.00,634.28 L453.25,634.29 L453.50,634.41 L453.75,634.71 L454.00,634.75 L454.00,635.00 Z M455.00,635.00 L455.00,634.58 L455.25,634.50 L455.50,634.00 L455.75,633.79 L456.00,633.79 L456.25,633.78 L456.50,633.77 L456.75,633.76 L457.00,633.75 L457.25,633.73 L457.50,633.72 L457.75,633.71 L458.00,633.70 L458.25,633.70 L458.50,633.70 L458.75,633.71 L459.00,633.72 L459.25,633.74 L459.50,633.75 L459.75,633.77 L460.00,633.78 L460.25,633.78 L460.50,633.79 L460.75,633.79 L461.00,633.78 L461.25,633.77 L461.50,633.74 L461.75,633.69 L462.00,633.63 L462.25,633.54 L462.50,633.43 L462.75,633.30 L463.00,633.16 L463.25,633.02 L463.50,632.91 L463.75,632.83 L464.00,632.80 L464.25,632.83 L464.50,632.91 L464.75,633.02 L465.00,633.16 L465.25,633.30 L465.50,633.43 L465.75,633.54 L466.00,633.63 L466.25,633.69 L466.50,633.74 L466.75,633.77 L467.00,633.78 L467.25,633.79 L467.50,633.80 L467.75,633.80 L468.00,633.80 L468.25,633.80 L468.50,633.79 L468.75,633.78 L469.00,633.77 L469.25,633.74 L469.50,633.70 L469.75,633.63 L470.00,633.54 L470.25,633.41 L470.50,633.26 L470.75,633.08 L471.00,632.89 L471.25,632.72 L471.50,632.59 L471.75,632.51 L472.00,632.51 L472.25,632.57 L472.50,632.69 L472.75,632.86 L473.00,633.04 L473.25,633.22 L473.50,633.38 L473.75,633.52 L474.00,633.62 L474.25,633.62 L474.50,633.52 L474.75,633.41 L475.00,633.27 L475.25,633.13 L475.50,633.00 L475.75,632.89 L476.00,632.82 L476.25,632.80 L476.50,632.84 L476.75,632.93 L477.00,633.05 L477.25,633.19 L477.50,633.33 L477.75,633.46 L478.00,633.56 L478.25,633.65 L478.50,633.70 L478.75,633.74 L479.00,633.70 L479.25,633.63 L479.50,633.53 L479.75,633.39 L480.00,633.21 L480.25,633.00 L480.50,632.77 L480.75,632.55 L481.00,632.37 L481.25,632.24 L481.50,632.20 L481.75,632.24 L482.00,632.37 L482.25,632.55 L482.50,632.77 L482.75,633.00 L483.00,633.21 L483.25,633.39 L483.50,633.53 L483.75,633.61 L484.00,633.47 L484.25,633.28 L484.50,633.03 L484.75,632.74 L485.00,632.45 L485.25,632.20 L485.50,632.04 L485.75,632.00 L486.00,632.09 L486.25,632.30 L486.50,632.57 L486.75,632.86 L487.00,632.75 L487.25,632.32 L487.50,631.97 L487.75,631.80 L488.00,631.88 L488.25,632.17 L488.50,632.57 L488.75,632.99 L489.00,633.33 L489.25,633.56 L489.50,633.91 L489.75,634.48 L490.00,634.57 L490.00,635.00 Z M491.00,635.00 L491.00,634.79 L491.25,634.75 L491.50,634.50 L491.75,634.40 L492.00,634.40 L492.25,634.40 L492.50,634.40 L492.75,634.40 L493.00,634.39 L493.25,634.38 L493.50,634.36 L493.75,634.31 L494.00,634.23 L494.25,634.12 L494.50,633.97 L494.75,633.83 L495.00,633.73 L495.25,633.70 L495.50,633.76 L495.75,633.88 L496.00,634.03 L496.25,634.17 L496.50,634.27 L496.75,634.34 L497.00,634.37 L497.25,634.39 L497.50,634.50 L497.75,634.75 L498.00,634.79 L498.00,635.00 Z M500.00,635.00 L500.00,634.79 L500.25,634.75 L500.50,634.50 L500.75,634.40 L501.00,634.40 L501.25,634.40 L501.50,634.40 L501.75,634.40 L502.00,634.40 L502.25,634.40 L502.50,634.40 L502.75,634.40 L503.00,634.40 L503.25,634.40 L503.50,634.39 L503.75,634.38 L504.00,634.36 L504.25,634.34 L504.50,634.30 L504.75,634.25 L505.00,634.20 L505.25,634.15 L505.50,634.12 L505.75,634.10 L506.00,634.11 L506.25,634.14 L506.50,634.32 L506.75,634.68 L507.00,634.75 L507.00,635.00 Z" fill="#111111" stroke="none"/>
<rect x="0" y="0" width="520" height="1" fill="#111"/>
<rect x="0" y="0" width="1.5" height="645" fill="#222"/>
<rect x="518.7" y="0" width="1.3" height="645" fill="#111"/>
<rect x="0" y="643.3" width="520" height="1.7" fill="#111"/>
</svg>
</body></html>
